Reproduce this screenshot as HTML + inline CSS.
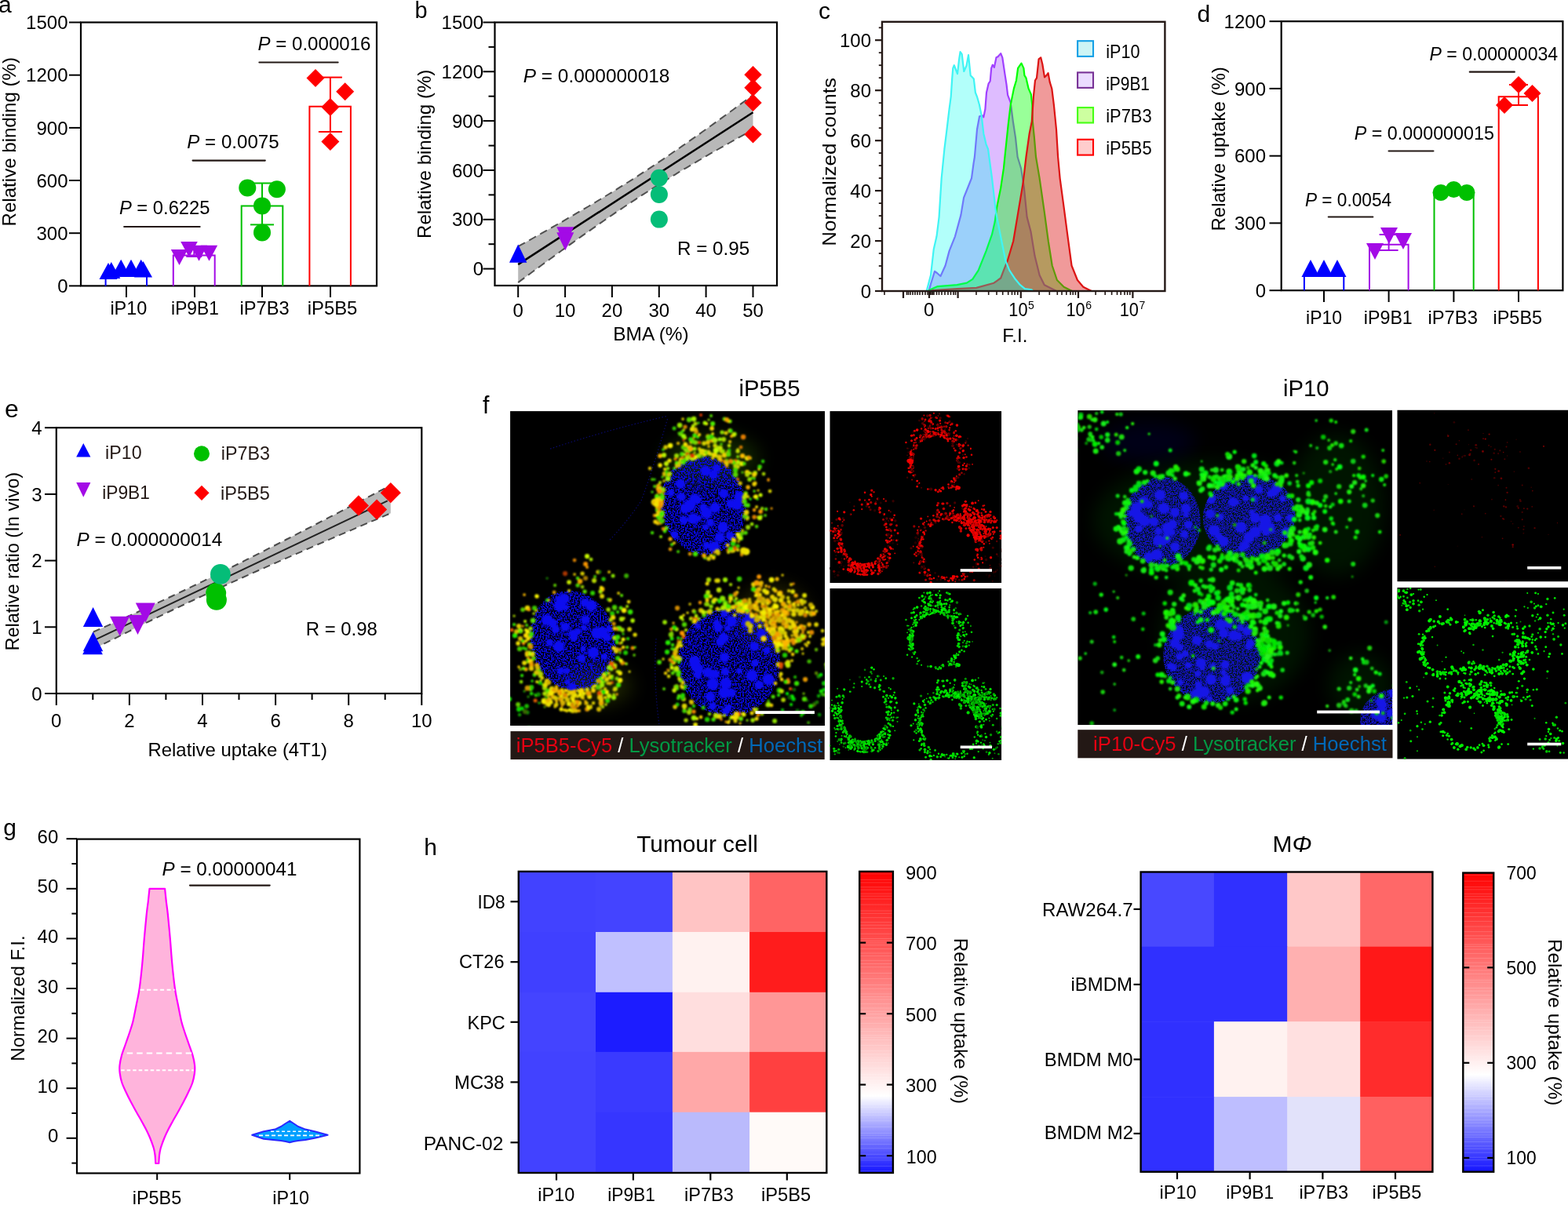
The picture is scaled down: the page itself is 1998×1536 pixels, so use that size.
<!DOCTYPE html>
<html><head><meta charset="utf-8"><title>Figure</title>
<style>html,body{margin:0;padding:0;background:#fff;} svg{display:block;}</style></head>
<body><svg width="1998" height="1536" viewBox="0 0 1998 1536" font-family="'Liberation Sans', Arial, sans-serif">
<rect width="1998" height="1536" fill="#fff"/>
<text x="-2.0" y="15.8" font-size="30" text-anchor="start" fill="#000" >a</text>
<line x1="88.0" y1="364.4" x2="103.0" y2="364.4" stroke="#000" stroke-width="2" />
<text x="86.5" y="373.0" font-size="24" text-anchor="end" fill="#000" >0</text>
<line x1="88.0" y1="297.2" x2="103.0" y2="297.2" stroke="#000" stroke-width="2" />
<text x="86.5" y="305.8" font-size="24" text-anchor="end" fill="#000" >300</text>
<line x1="88.0" y1="230.0" x2="103.0" y2="230.0" stroke="#000" stroke-width="2" />
<text x="86.5" y="238.6" font-size="24" text-anchor="end" fill="#000" >600</text>
<line x1="88.0" y1="162.9" x2="103.0" y2="162.9" stroke="#000" stroke-width="2" />
<text x="86.5" y="171.5" font-size="24" text-anchor="end" fill="#000" >900</text>
<line x1="88.0" y1="95.7" x2="103.0" y2="95.7" stroke="#000" stroke-width="2" />
<text x="86.5" y="104.3" font-size="24" text-anchor="end" fill="#000" >1200</text>
<line x1="88.0" y1="28.5" x2="103.0" y2="28.5" stroke="#000" stroke-width="2" />
<text x="86.5" y="37.1" font-size="24" text-anchor="end" fill="#000" >1500</text>
<rect x="103.0" y="28.5" width="377.0" height="335.9" fill="none" stroke="#000" stroke-width="2.2" />
<text transform="translate(19.5,288.4) rotate(-90)" font-size="24" fill="#000" textLength="215.4" lengthAdjust="spacingAndGlyphs">Relative binding (%)</text>
<line x1="161.0" y1="364.4" x2="161.0" y2="379.0" stroke="#000" stroke-width="2" />
<line x1="248.0" y1="364.4" x2="248.0" y2="379.0" stroke="#000" stroke-width="2" />
<line x1="334.0" y1="364.4" x2="334.0" y2="379.0" stroke="#000" stroke-width="2" />
<line x1="421.0" y1="364.4" x2="421.0" y2="379.0" stroke="#000" stroke-width="2" />
<text x="140.4" y="400.9" font-size="24" fill="#000" textLength="47.0" lengthAdjust="spacingAndGlyphs" >iP10</text>
<text x="218.1" y="400.9" font-size="24" fill="#000" textLength="60.8" lengthAdjust="spacingAndGlyphs" >iP9B1</text>
<text x="305.5" y="400.9" font-size="24" fill="#000" textLength="63.1" lengthAdjust="spacingAndGlyphs" >iP7B3</text>
<text x="391.7" y="400.9" font-size="24" fill="#000" textLength="63.7" lengthAdjust="spacingAndGlyphs" >iP5B5</text>
<path d="M134.6,364.4 V352 H187 V364.4" fill="none" stroke="#0000ff" stroke-width="2"/>
<path d="M220.8,364.4 V325.5 H273.7 V364.4" fill="none" stroke="#a30ae6" stroke-width="2"/>
<path d="M307.7,364.4 V262.4 H360.3 V364.4" fill="none" stroke="#00c000" stroke-width="2"/>
<path d="M394.4,364.4 V135.7 H446.9 V364.4" fill="none" stroke="#ff0000" stroke-width="2"/>
<line x1="247.3" y1="314.0" x2="247.3" y2="327.0" stroke="#a30ae6" stroke-width="2" />
<line x1="237.3" y1="314.0" x2="257.3" y2="314.0" stroke="#a30ae6" stroke-width="2" />
<line x1="237.3" y1="327.0" x2="257.3" y2="327.0" stroke="#a30ae6" stroke-width="2" />
<line x1="334.0" y1="233.5" x2="334.0" y2="286.4" stroke="#00c000" stroke-width="2" />
<line x1="319.0" y1="233.5" x2="349.0" y2="233.5" stroke="#00c000" stroke-width="2" />
<line x1="319.0" y1="286.4" x2="349.0" y2="286.4" stroke="#00c000" stroke-width="2" />
<line x1="420.9" y1="98.6" x2="420.9" y2="168.0" stroke="#ff0000" stroke-width="2" />
<line x1="405.9" y1="98.6" x2="435.9" y2="98.6" stroke="#ff0000" stroke-width="2" />
<line x1="405.9" y1="168.0" x2="435.9" y2="168.0" stroke="#ff0000" stroke-width="2" />
<polygon points="138.0,335.0 149.5,356.0 126.5,356.0" fill="#0000ff" />
<polygon points="141.8,334.0 153.3,355.0 130.3,355.0" fill="#0000ff" />
<polygon points="154.2,330.8 165.7,352.0 142.7,352.0" fill="#0000ff" />
<polygon points="167.0,330.8 178.5,352.0 155.5,352.0" fill="#0000ff" />
<polygon points="179.7,330.8 191.2,352.0 168.2,352.0" fill="#0000ff" />
<polygon points="182.5,333.0 194.0,353.5 171.0,353.5" fill="#0000ff" />
<polygon points="217.8,318.0 239.2,318.0 228.5,338.0" fill="#a30ae6" />
<polygon points="230.2,308.0 251.8,308.0 241.0,328.0" fill="#a30ae6" />
<polygon points="242.8,312.8 264.2,312.8 253.5,332.8" fill="#a30ae6" />
<polygon points="255.8,312.8 277.2,312.8 266.5,332.8" fill="#a30ae6" />
<circle cx="315.3" cy="239.4" r="11.0" fill="#00c000" />
<circle cx="352.9" cy="241.3" r="11.0" fill="#00c000" />
<circle cx="334.0" cy="262.4" r="11.0" fill="#00c000" />
<circle cx="334.0" cy="296.4" r="11.0" fill="#00c000" />
<polygon points="402.0,88.0 413.5,99.5 402.0,111.0 390.5,99.5" fill="#ff0000" />
<polygon points="439.7,105.3 451.2,116.8 439.7,128.3 428.2,116.8" fill="#ff0000" />
<polygon points="420.9,125.1 432.4,136.6 420.9,148.1 409.4,136.6" fill="#ff0000" />
<polygon points="420.9,168.9 432.4,180.4 420.9,191.9 409.4,180.4" fill="#ff0000" />
<line x1="158.2" y1="289.0" x2="254.6" y2="289.0" stroke="#231815" stroke-width="2.2" stroke-linecap="round"/>
<text x="151.9" y="273.4" font-size="24" fill="#000" textLength="115.6" lengthAdjust="spacingAndGlyphs" ><tspan font-style="italic">P</tspan> = 0.6225</text>
<line x1="245.6" y1="204.6" x2="337.8" y2="204.6" stroke="#231815" stroke-width="2.2" stroke-linecap="round"/>
<text x="238.3" y="189.0" font-size="24" fill="#000" textLength="117.4" lengthAdjust="spacingAndGlyphs" ><tspan font-style="italic">P</tspan> = 0.0075</text>
<line x1="330.4" y1="79.5" x2="430.6" y2="79.5" stroke="#231815" stroke-width="2.2" stroke-linecap="round"/>
<text x="328.5" y="63.8" font-size="24" fill="#000" textLength="144.0" lengthAdjust="spacingAndGlyphs" ><tspan font-style="italic">P</tspan> = 0.000016</text>
<text x="528.5" y="23.4" font-size="29" text-anchor="start" fill="#000" >b</text>
<line x1="615.5" y1="342.6" x2="630.5" y2="342.6" stroke="#000" stroke-width="2" />
<text x="616.0" y="351.2" font-size="24" text-anchor="end" fill="#000" >0</text>
<line x1="622.5" y1="311.2" x2="630.5" y2="311.2" stroke="#000" stroke-width="2" />
<line x1="615.5" y1="279.8" x2="630.5" y2="279.8" stroke="#000" stroke-width="2" />
<text x="616.0" y="288.4" font-size="24" text-anchor="end" fill="#000" >300</text>
<line x1="622.5" y1="248.4" x2="630.5" y2="248.4" stroke="#000" stroke-width="2" />
<line x1="615.5" y1="217.0" x2="630.5" y2="217.0" stroke="#000" stroke-width="2" />
<text x="616.0" y="225.6" font-size="24" text-anchor="end" fill="#000" >600</text>
<line x1="622.5" y1="185.6" x2="630.5" y2="185.6" stroke="#000" stroke-width="2" />
<line x1="615.5" y1="154.1" x2="630.5" y2="154.1" stroke="#000" stroke-width="2" />
<text x="616.0" y="162.7" font-size="24" text-anchor="end" fill="#000" >900</text>
<line x1="622.5" y1="122.7" x2="630.5" y2="122.7" stroke="#000" stroke-width="2" />
<line x1="615.5" y1="91.3" x2="630.5" y2="91.3" stroke="#000" stroke-width="2" />
<text x="616.0" y="99.9" font-size="24" text-anchor="end" fill="#000" >1200</text>
<line x1="622.5" y1="59.9" x2="630.5" y2="59.9" stroke="#000" stroke-width="2" />
<line x1="615.5" y1="28.5" x2="630.5" y2="28.5" stroke="#000" stroke-width="2" />
<text x="616.0" y="37.1" font-size="24" text-anchor="end" fill="#000" >1500</text>
<line x1="660.2" y1="364.0" x2="660.2" y2="379.0" stroke="#000" stroke-width="2" />
<text x="660.2" y="404.0" font-size="24" text-anchor="middle" fill="#000" >0</text>
<line x1="720.1" y1="364.0" x2="720.1" y2="379.0" stroke="#000" stroke-width="2" />
<text x="720.1" y="404.0" font-size="24" text-anchor="middle" fill="#000" >10</text>
<line x1="779.9" y1="364.0" x2="779.9" y2="379.0" stroke="#000" stroke-width="2" />
<text x="779.9" y="404.0" font-size="24" text-anchor="middle" fill="#000" >20</text>
<line x1="839.8" y1="364.0" x2="839.8" y2="379.0" stroke="#000" stroke-width="2" />
<text x="839.8" y="404.0" font-size="24" text-anchor="middle" fill="#000" >30</text>
<line x1="899.6" y1="364.0" x2="899.6" y2="379.0" stroke="#000" stroke-width="2" />
<text x="899.6" y="404.0" font-size="24" text-anchor="middle" fill="#000" >40</text>
<line x1="959.5" y1="364.0" x2="959.5" y2="379.0" stroke="#000" stroke-width="2" />
<text x="959.5" y="404.0" font-size="24" text-anchor="middle" fill="#000" >50</text>
<text transform="translate(549.0,303.9) rotate(-90)" font-size="24" fill="#000" textLength="215.2" lengthAdjust="spacingAndGlyphs">Relative binding (%)</text>
<text x="781.3" y="434.0" font-size="24" fill="#000" textLength="96.4" lengthAdjust="spacingAndGlyphs" >BMA (%)</text>
<path d="M660.2,314.1 L665.2,311.3 L670.2,308.6 L675.2,305.8 L680.2,303.0 L685.1,300.2 L690.1,297.4 L695.1,294.6 L700.1,291.8 L705.1,288.9 L710.1,286.1 L715.1,283.3 L720.1,280.4 L725.0,277.5 L730.0,274.6 L735.0,271.7 L740.0,268.8 L745.0,265.9 L750.0,263.0 L755.0,260.0 L760.0,257.0 L765.0,254.0 L769.9,251.0 L774.9,248.0 L779.9,244.9 L784.9,241.8 L789.9,238.7 L794.9,235.6 L799.9,232.5 L804.9,229.3 L809.9,226.1 L814.8,222.9 L819.8,219.7 L824.8,216.4 L829.8,213.1 L834.8,209.8 L839.8,206.4 L844.8,203.1 L849.8,199.7 L854.7,196.3 L859.7,192.8 L864.7,189.4 L869.7,185.9 L874.7,182.4 L879.7,178.9 L884.7,175.4 L889.7,171.9 L894.7,168.3 L899.6,164.8 L904.6,161.2 L909.6,157.6 L914.6,154.0 L919.6,150.4 L924.6,146.7 L929.6,143.1 L934.6,139.5 L939.5,135.8 L944.5,132.1 L949.5,128.5 L954.5,124.8 L959.5,121.1 L959.5,165.2 L954.5,168.0 L949.5,170.8 L944.5,173.6 L939.5,176.4 L934.6,179.2 L929.6,182.0 L924.6,184.8 L919.6,187.7 L914.6,190.5 L909.6,193.4 L904.6,196.2 L899.6,199.1 L894.7,202.0 L889.7,204.9 L884.7,207.9 L879.7,210.8 L874.7,213.8 L869.7,216.7 L864.7,219.7 L859.7,222.8 L854.7,225.8 L849.8,228.9 L844.8,231.9 L839.8,235.0 L834.8,238.2 L829.8,241.3 L824.8,244.5 L819.8,247.7 L814.8,250.9 L809.9,254.1 L804.9,257.4 L799.9,260.7 L794.9,264.0 L789.9,267.4 L784.9,270.7 L779.9,274.1 L774.9,277.5 L769.9,281.0 L765.0,284.4 L760.0,287.9 L755.0,291.4 L750.0,294.9 L745.0,298.4 L740.0,301.9 L735.0,305.5 L730.0,309.1 L725.0,312.6 L720.1,316.2 L715.1,319.8 L710.1,323.4 L705.1,327.1 L700.1,330.7 L695.1,334.4 L690.1,338.0 L685.1,341.7 L680.2,345.3 L675.2,349.0 L670.2,352.7 L665.2,356.4 L660.2,360.1 Z" fill="#b8b8b8" stroke="none" stroke-width="2" />
<path d="M660.2,314.1 L665.2,311.3 L670.2,308.6 L675.2,305.8 L680.2,303.0 L685.1,300.2 L690.1,297.4 L695.1,294.6 L700.1,291.8 L705.1,288.9 L710.1,286.1 L715.1,283.3 L720.1,280.4 L725.0,277.5 L730.0,274.6 L735.0,271.7 L740.0,268.8 L745.0,265.9 L750.0,263.0 L755.0,260.0 L760.0,257.0 L765.0,254.0 L769.9,251.0 L774.9,248.0 L779.9,244.9 L784.9,241.8 L789.9,238.7 L794.9,235.6 L799.9,232.5 L804.9,229.3 L809.9,226.1 L814.8,222.9 L819.8,219.7 L824.8,216.4 L829.8,213.1 L834.8,209.8 L839.8,206.4 L844.8,203.1 L849.8,199.7 L854.7,196.3 L859.7,192.8 L864.7,189.4 L869.7,185.9 L874.7,182.4 L879.7,178.9 L884.7,175.4 L889.7,171.9 L894.7,168.3 L899.6,164.8 L904.6,161.2 L909.6,157.6 L914.6,154.0 L919.6,150.4 L924.6,146.7 L929.6,143.1 L934.6,139.5 L939.5,135.8 L944.5,132.1 L949.5,128.5 L954.5,124.8 L959.5,121.1" fill="none" stroke="#505050" stroke-width="2" stroke-dasharray="10,6"/>
<path d="M660.2,360.1 L665.2,356.4 L670.2,352.7 L675.2,349.0 L680.2,345.3 L685.1,341.7 L690.1,338.0 L695.1,334.4 L700.1,330.7 L705.1,327.1 L710.1,323.4 L715.1,319.8 L720.1,316.2 L725.0,312.6 L730.0,309.1 L735.0,305.5 L740.0,301.9 L745.0,298.4 L750.0,294.9 L755.0,291.4 L760.0,287.9 L765.0,284.4 L769.9,281.0 L774.9,277.5 L779.9,274.1 L784.9,270.7 L789.9,267.4 L794.9,264.0 L799.9,260.7 L804.9,257.4 L809.9,254.1 L814.8,250.9 L819.8,247.7 L824.8,244.5 L829.8,241.3 L834.8,238.2 L839.8,235.0 L844.8,231.9 L849.8,228.9 L854.7,225.8 L859.7,222.8 L864.7,219.7 L869.7,216.7 L874.7,213.8 L879.7,210.8 L884.7,207.9 L889.7,204.9 L894.7,202.0 L899.6,199.1 L904.6,196.2 L909.6,193.4 L914.6,190.5 L919.6,187.7 L924.6,184.8 L929.6,182.0 L934.6,179.2 L939.5,176.4 L944.5,173.6 L949.5,170.8 L954.5,168.0 L959.5,165.2" fill="none" stroke="#505050" stroke-width="2" stroke-dasharray="10,6"/>
<line x1="660.2" y1="337.1" x2="959.5" y2="143.2" stroke="#000" stroke-width="2.5" />
<rect x="630.5" y="28.5" width="359.5" height="335.5" fill="none" stroke="#000" stroke-width="2.2" />
<polygon points="660.2,311.6 671.4,334.8 649.0,334.8" fill="#0000ff" />
<polygon points="709.3,289.2 731.3,289.2 720.3,312.2" fill="#a30ae6" />
<polygon points="709.3,296.2 731.3,296.2 720.3,319.2" fill="#a30ae6" />
<circle cx="839.9" cy="226.8" r="11.0" fill="#05bd78" />
<circle cx="839.9" cy="247.9" r="11.0" fill="#05bd78" />
<circle cx="839.9" cy="279.6" r="11.0" fill="#05bd78" />
<polygon points="959.5,84.1 970.7,95.3 959.5,106.5 948.3,95.3" fill="#ff0000" />
<polygon points="959.5,100.6 970.7,111.8 959.5,123.0 948.3,111.8" fill="#ff0000" />
<polygon points="959.5,119.7 970.7,130.9 959.5,142.1 948.3,130.9" fill="#ff0000" />
<polygon points="959.5,160.1 970.7,171.3 959.5,182.5 948.3,171.3" fill="#ff0000" />
<text x="666.7" y="104.6" font-size="24" fill="#000" textLength="186.7" lengthAdjust="spacingAndGlyphs" ><tspan font-style="italic">P</tspan> = 0.000000018</text>
<text x="863.0" y="325.0" font-size="24" fill="#000" textLength="92.1" lengthAdjust="spacingAndGlyphs" >R = 0.95</text>
<text x="1043.1" y="24.1" font-size="30" text-anchor="start" fill="#000" >c</text>
<path d="M1183.6,371.0 L1186.0,362.0 L1191.0,345.9 L1194.0,348.0 L1198.5,352.0 L1204.6,338.5 L1209.6,319.9 L1217.0,301.3 L1224.4,274.1 L1228.1,251.9 L1233.1,239.5 L1238.0,227.1 L1240.5,208.6 L1241.9,200.0 L1245.0,165.0 L1248.1,148.3 L1252.3,147.3 L1253.3,149.4 L1255.4,139.0 L1257.0,118.0 L1259.6,106.7 L1261.7,103.5 L1263.2,86.9 L1264.8,82.7 L1266.9,85.8 L1269.5,73.3 L1271.6,72.3 L1275.2,68.1 L1277.3,73.3 L1280.4,94.2 L1282.5,107.7 L1284.1,121.2 L1287.7,130.6 L1290.8,154.6 L1294.0,175.4 L1296.6,200.0 L1301.1,214.7 L1304.9,239.5 L1308.6,276.6 L1313.5,295.2 L1318.5,326.1 L1324.6,350.8 L1330.8,363.2 L1343.2,369.4 L1346.0,371.0 Z" fill="#a040ff" stroke="none" stroke-width="2" fill-opacity="0.35"/>
<path d="M1183.6,371.0 L1186.0,362.0 L1191.0,345.9 L1194.0,348.0 L1198.5,352.0 L1204.6,338.5 L1209.6,319.9 L1217.0,301.3 L1224.4,274.1 L1228.1,251.9 L1233.1,239.5 L1238.0,227.1 L1240.5,208.6 L1241.9,200.0 L1245.0,165.0 L1248.1,148.3 L1252.3,147.3 L1253.3,149.4 L1255.4,139.0 L1257.0,118.0 L1259.6,106.7 L1261.7,103.5 L1263.2,86.9 L1264.8,82.7 L1266.9,85.8 L1269.5,73.3 L1271.6,72.3 L1275.2,68.1 L1277.3,73.3 L1280.4,94.2 L1282.5,107.7 L1284.1,121.2 L1287.7,130.6 L1290.8,154.6 L1294.0,175.4 L1296.6,200.0 L1301.1,214.7 L1304.9,239.5 L1308.6,276.6 L1313.5,295.2 L1318.5,326.1 L1324.6,350.8 L1330.8,363.2 L1343.2,369.4 L1346.0,371.0" fill="none" stroke="#a040ff" stroke-width="2.2" stroke-linejoin="round"/>
<path d="M1183.0,371.0 L1184.8,369.4 L1194.7,365.1 L1219.5,363.2 L1231.9,360.7 L1239.3,355.8 L1246.7,344.6 L1256.6,319.9 L1264.0,298.9 L1267.7,282.8 L1270.2,264.2 L1275.2,239.5 L1278.9,214.7 L1280.4,200.0 L1284.6,159.8 L1287.7,133.8 L1291.9,112.9 L1295.0,102.5 L1297.1,86.9 L1299.2,83.8 L1301.5,80.6 L1304.4,86.9 L1305.4,96.2 L1307.5,99.4 L1310.6,112.9 L1313.8,120.2 L1315.3,133.8 L1315.8,154.6 L1317.9,175.4 L1320.0,200.0 L1324.6,227.1 L1330.8,270.4 L1335.8,307.5 L1340.7,338.5 L1346.9,357.0 L1355.6,365.7 L1363.0,369.4 L1366.0,371.0 Z" fill="#00ff00" stroke="none" stroke-width="2" fill-opacity="0.4"/>
<path d="M1183.0,371.0 L1184.8,369.4 L1194.7,365.1 L1219.5,363.2 L1231.9,360.7 L1239.3,355.8 L1246.7,344.6 L1256.6,319.9 L1264.0,298.9 L1267.7,282.8 L1270.2,264.2 L1275.2,239.5 L1278.9,214.7 L1280.4,200.0 L1284.6,159.8 L1287.7,133.8 L1291.9,112.9 L1295.0,102.5 L1297.1,86.9 L1299.2,83.8 L1301.5,80.6 L1304.4,86.9 L1305.4,96.2 L1307.5,99.4 L1310.6,112.9 L1313.8,120.2 L1315.3,133.8 L1315.8,154.6 L1317.9,175.4 L1320.0,200.0 L1324.6,227.1 L1330.8,270.4 L1335.8,307.5 L1340.7,338.5 L1346.9,357.0 L1355.6,365.7 L1363.0,369.4 L1366.0,371.0" fill="none" stroke="#00ff00" stroke-width="2.2" stroke-linejoin="round"/>
<path d="M1186.0,371.0 L1188.6,370.0 L1219.5,368.2 L1244.2,366.9 L1266.5,360.7 L1275.2,354.5 L1278.9,344.6 L1283.8,332.3 L1291.2,307.5 L1297.4,270.4 L1303.6,233.3 L1307.5,200.0 L1311.7,170.2 L1314.8,154.6 L1316.9,123.3 L1319.0,102.5 L1321.0,99.4 L1323.6,75.4 L1326.2,73.3 L1328.3,81.7 L1331.0,98.3 L1333.5,96.2 L1335.6,93.1 L1337.7,104.6 L1340.3,113.0 L1342.9,133.8 L1346.0,165.0 L1348.1,200.0 L1350.6,227.1 L1355.6,264.2 L1360.5,301.3 L1365.5,338.5 L1372.9,357.0 L1380.3,365.7 L1387.7,369.4 L1391.0,371.0 Z" fill="#dc1414" stroke="none" stroke-width="2" fill-opacity="0.43"/>
<path d="M1186.0,371.0 L1188.6,370.0 L1219.5,368.2 L1244.2,366.9 L1266.5,360.7 L1275.2,354.5 L1278.9,344.6 L1283.8,332.3 L1291.2,307.5 L1297.4,270.4 L1303.6,233.3 L1307.5,200.0 L1311.7,170.2 L1314.8,154.6 L1316.9,123.3 L1319.0,102.5 L1321.0,99.4 L1323.6,75.4 L1326.2,73.3 L1328.3,81.7 L1331.0,98.3 L1333.5,96.2 L1335.6,93.1 L1337.7,104.6 L1340.3,113.0 L1342.9,133.8 L1346.0,165.0 L1348.1,200.0 L1350.6,227.1 L1355.6,264.2 L1360.5,301.3 L1365.5,338.5 L1372.9,357.0 L1380.3,365.7 L1387.7,369.4 L1391.0,371.0" fill="none" stroke="#dc1414" stroke-width="2.2" stroke-linejoin="round"/>
<path d="M1180.5,371.0 L1181.1,369.4 L1186.0,350.8 L1189.8,317.4 L1193.5,301.3 L1196.6,276.6 L1199.7,227.1 L1203.4,190.0 L1206.5,165.0 L1209.6,139.0 L1211.7,123.3 L1213.2,100.4 L1214.3,86.9 L1215.8,83.2 L1220.0,94.2 L1222.0,76.5 L1223.6,66.0 L1225.7,69.2 L1228.3,91.0 L1231.5,83.8 L1234.0,70.2 L1236.7,96.2 L1238.8,98.3 L1240.8,100.4 L1242.9,118.0 L1245.0,123.3 L1248.0,133.8 L1250.7,147.3 L1253.3,170.2 L1256.5,183.8 L1259.0,190.0 L1264.0,227.0 L1269.0,270.4 L1273.9,295.2 L1277.6,313.7 L1281.3,332.3 L1286.3,344.6 L1293.7,355.8 L1299.9,363.2 L1306.0,368.2 L1314.7,369.4 L1316.0,371.0 Z" fill="#00fff0" stroke="none" stroke-width="2" fill-opacity="0.3"/>
<path d="M1180.5,371.0 L1181.1,369.4 L1186.0,350.8 L1189.8,317.4 L1193.5,301.3 L1196.6,276.6 L1199.7,227.1 L1203.4,190.0 L1206.5,165.0 L1209.6,139.0 L1211.7,123.3 L1213.2,100.4 L1214.3,86.9 L1215.8,83.2 L1220.0,94.2 L1222.0,76.5 L1223.6,66.0 L1225.7,69.2 L1228.3,91.0 L1231.5,83.8 L1234.0,70.2 L1236.7,96.2 L1238.8,98.3 L1240.8,100.4 L1242.9,118.0 L1245.0,123.3 L1248.0,133.8 L1250.7,147.3 L1253.3,170.2 L1256.5,183.8 L1259.0,190.0 L1264.0,227.0 L1269.0,270.4 L1273.9,295.2 L1277.6,313.7 L1281.3,332.3 L1286.3,344.6 L1293.7,355.8 L1299.9,363.2 L1306.0,368.2 L1314.7,369.4 L1316.0,371.0" fill="none" stroke="#40f4f4" stroke-width="2.2" stroke-linejoin="round"/>
<rect x="1124.0" y="27.8" width="360.4" height="343.2" fill="none" stroke="#231815" stroke-width="2.4" />
<line x1="1115.0" y1="371.0" x2="1124.0" y2="371.0" stroke="#231815" stroke-width="2.2" />
<text x="1110.0" y="379.6" font-size="24" text-anchor="end" fill="#000" >0</text>
<line x1="1115.0" y1="307.1" x2="1124.0" y2="307.1" stroke="#231815" stroke-width="2.2" />
<text x="1110.0" y="315.7" font-size="24" text-anchor="end" fill="#000" >20</text>
<line x1="1115.0" y1="243.1" x2="1124.0" y2="243.1" stroke="#231815" stroke-width="2.2" />
<text x="1110.0" y="251.7" font-size="24" text-anchor="end" fill="#000" >40</text>
<line x1="1115.0" y1="179.2" x2="1124.0" y2="179.2" stroke="#231815" stroke-width="2.2" />
<text x="1110.0" y="187.8" font-size="24" text-anchor="end" fill="#000" >60</text>
<line x1="1115.0" y1="115.2" x2="1124.0" y2="115.2" stroke="#231815" stroke-width="2.2" />
<text x="1110.0" y="123.8" font-size="24" text-anchor="end" fill="#000" >80</text>
<line x1="1115.0" y1="51.2" x2="1124.0" y2="51.2" stroke="#231815" stroke-width="2.2" />
<text x="1110.0" y="59.9" font-size="24" text-anchor="end" fill="#000" >100</text>
<line x1="1119.8" y1="355.0" x2="1124.0" y2="355.0" stroke="#231815" stroke-width="1.8" />
<line x1="1119.8" y1="339.0" x2="1124.0" y2="339.0" stroke="#231815" stroke-width="1.8" />
<line x1="1119.8" y1="323.0" x2="1124.0" y2="323.0" stroke="#231815" stroke-width="1.8" />
<line x1="1119.8" y1="291.1" x2="1124.0" y2="291.1" stroke="#231815" stroke-width="1.8" />
<line x1="1119.8" y1="275.1" x2="1124.0" y2="275.1" stroke="#231815" stroke-width="1.8" />
<line x1="1119.8" y1="259.1" x2="1124.0" y2="259.1" stroke="#231815" stroke-width="1.8" />
<line x1="1119.8" y1="227.1" x2="1124.0" y2="227.1" stroke="#231815" stroke-width="1.8" />
<line x1="1119.8" y1="211.1" x2="1124.0" y2="211.1" stroke="#231815" stroke-width="1.8" />
<line x1="1119.8" y1="195.1" x2="1124.0" y2="195.1" stroke="#231815" stroke-width="1.8" />
<line x1="1119.8" y1="163.2" x2="1124.0" y2="163.2" stroke="#231815" stroke-width="1.8" />
<line x1="1119.8" y1="147.2" x2="1124.0" y2="147.2" stroke="#231815" stroke-width="1.8" />
<line x1="1119.8" y1="131.2" x2="1124.0" y2="131.2" stroke="#231815" stroke-width="1.8" />
<line x1="1119.8" y1="99.2" x2="1124.0" y2="99.2" stroke="#231815" stroke-width="1.8" />
<line x1="1119.8" y1="83.2" x2="1124.0" y2="83.2" stroke="#231815" stroke-width="1.8" />
<line x1="1119.8" y1="67.2" x2="1124.0" y2="67.2" stroke="#231815" stroke-width="1.8" />
<line x1="1119.8" y1="35.3" x2="1124.0" y2="35.3" stroke="#231815" stroke-width="1.8" />
<line x1="1151.0" y1="371.0" x2="1151.0" y2="380.0" stroke="#231815" stroke-width="2.2" />
<line x1="1184.0" y1="371.0" x2="1184.0" y2="380.0" stroke="#231815" stroke-width="2.2" />
<line x1="1220.6" y1="371.0" x2="1220.6" y2="380.0" stroke="#231815" stroke-width="2.2" />
<line x1="1300.8" y1="371.0" x2="1300.8" y2="380.0" stroke="#231815" stroke-width="2.2" />
<line x1="1374.0" y1="371.0" x2="1374.0" y2="380.0" stroke="#231815" stroke-width="2.2" />
<line x1="1443.4" y1="371.0" x2="1443.4" y2="380.0" stroke="#231815" stroke-width="2.2" />
<line x1="1127.0" y1="371.0" x2="1127.0" y2="376.0" stroke="#231815" stroke-width="1.6" />
<line x1="1155.5" y1="371.0" x2="1155.5" y2="376.0" stroke="#231815" stroke-width="1.6" />
<line x1="1157.5" y1="371.0" x2="1157.5" y2="376.0" stroke="#231815" stroke-width="1.6" />
<line x1="1160.0" y1="371.0" x2="1160.0" y2="376.0" stroke="#231815" stroke-width="1.6" />
<line x1="1163.0" y1="371.0" x2="1163.0" y2="376.0" stroke="#231815" stroke-width="1.6" />
<line x1="1166.0" y1="371.0" x2="1166.0" y2="376.0" stroke="#231815" stroke-width="1.6" />
<line x1="1169.0" y1="371.0" x2="1169.0" y2="376.0" stroke="#231815" stroke-width="1.6" />
<line x1="1172.0" y1="371.0" x2="1172.0" y2="376.0" stroke="#231815" stroke-width="1.6" />
<line x1="1175.5" y1="371.0" x2="1175.5" y2="376.0" stroke="#231815" stroke-width="1.6" />
<line x1="1179.0" y1="371.0" x2="1179.0" y2="376.0" stroke="#231815" stroke-width="1.6" />
<line x1="1182.0" y1="371.0" x2="1182.0" y2="376.0" stroke="#231815" stroke-width="1.6" />
<line x1="1185.5" y1="371.0" x2="1185.5" y2="376.0" stroke="#231815" stroke-width="1.6" />
<line x1="1187.0" y1="371.0" x2="1187.0" y2="376.0" stroke="#231815" stroke-width="1.6" />
<line x1="1188.5" y1="371.0" x2="1188.5" y2="376.0" stroke="#231815" stroke-width="1.6" />
<line x1="1190.0" y1="371.0" x2="1190.0" y2="376.0" stroke="#231815" stroke-width="1.6" />
<line x1="1193.5" y1="371.0" x2="1193.5" y2="376.0" stroke="#231815" stroke-width="1.6" />
<line x1="1196.5" y1="371.0" x2="1196.5" y2="376.0" stroke="#231815" stroke-width="1.6" />
<line x1="1200.0" y1="371.0" x2="1200.0" y2="376.0" stroke="#231815" stroke-width="1.6" />
<line x1="1204.0" y1="371.0" x2="1204.0" y2="376.0" stroke="#231815" stroke-width="1.6" />
<line x1="1208.0" y1="371.0" x2="1208.0" y2="376.0" stroke="#231815" stroke-width="1.6" />
<line x1="1211.5" y1="371.0" x2="1211.5" y2="376.0" stroke="#231815" stroke-width="1.6" />
<line x1="1215.0" y1="371.0" x2="1215.0" y2="376.0" stroke="#231815" stroke-width="1.6" />
<line x1="1217.5" y1="371.0" x2="1217.5" y2="376.0" stroke="#231815" stroke-width="1.6" />
<line x1="1244.0" y1="371.0" x2="1244.0" y2="376.0" stroke="#231815" stroke-width="1.6" />
<line x1="1259.7" y1="371.0" x2="1259.7" y2="376.0" stroke="#231815" stroke-width="1.6" />
<line x1="1270.0" y1="371.0" x2="1270.0" y2="376.0" stroke="#231815" stroke-width="1.6" />
<line x1="1277.7" y1="371.0" x2="1277.7" y2="376.0" stroke="#231815" stroke-width="1.6" />
<line x1="1284.7" y1="371.0" x2="1284.7" y2="376.0" stroke="#231815" stroke-width="1.6" />
<line x1="1289.5" y1="371.0" x2="1289.5" y2="376.0" stroke="#231815" stroke-width="1.6" />
<line x1="1293.1" y1="371.0" x2="1293.1" y2="376.0" stroke="#231815" stroke-width="1.6" />
<line x1="1296.8" y1="371.0" x2="1296.8" y2="376.0" stroke="#231815" stroke-width="1.6" />
<line x1="1324.1" y1="371.0" x2="1324.1" y2="376.0" stroke="#231815" stroke-width="1.6" />
<line x1="1337.3" y1="371.0" x2="1337.3" y2="376.0" stroke="#231815" stroke-width="1.6" />
<line x1="1347.3" y1="371.0" x2="1347.3" y2="376.0" stroke="#231815" stroke-width="1.6" />
<line x1="1353.0" y1="371.0" x2="1353.0" y2="376.0" stroke="#231815" stroke-width="1.6" />
<line x1="1358.8" y1="371.0" x2="1358.8" y2="376.0" stroke="#231815" stroke-width="1.6" />
<line x1="1364.0" y1="371.0" x2="1364.0" y2="376.0" stroke="#231815" stroke-width="1.6" />
<line x1="1367.2" y1="371.0" x2="1367.2" y2="376.0" stroke="#231815" stroke-width="1.6" />
<line x1="1370.4" y1="371.0" x2="1370.4" y2="376.0" stroke="#231815" stroke-width="1.6" />
<line x1="1396.1" y1="371.0" x2="1396.1" y2="376.0" stroke="#231815" stroke-width="1.6" />
<line x1="1408.2" y1="371.0" x2="1408.2" y2="376.0" stroke="#231815" stroke-width="1.6" />
<line x1="1416.6" y1="371.0" x2="1416.6" y2="376.0" stroke="#231815" stroke-width="1.6" />
<line x1="1423.5" y1="371.0" x2="1423.5" y2="376.0" stroke="#231815" stroke-width="1.6" />
<line x1="1428.2" y1="371.0" x2="1428.2" y2="376.0" stroke="#231815" stroke-width="1.6" />
<line x1="1433.0" y1="371.0" x2="1433.0" y2="376.0" stroke="#231815" stroke-width="1.6" />
<line x1="1436.6" y1="371.0" x2="1436.6" y2="376.0" stroke="#231815" stroke-width="1.6" />
<line x1="1439.8" y1="371.0" x2="1439.8" y2="376.0" stroke="#231815" stroke-width="1.6" />
<text x="1183.6" y="402.5" font-size="24" text-anchor="middle" fill="#000" >0</text>
<text x="1285.3" y="402.6" font-size="24"><tspan textLength="24.2" lengthAdjust="spacingAndGlyphs">10</tspan><tspan font-size="14" dy="-8.5" dx="0.6">5</tspan></text>
<text x="1358.4" y="402.6" font-size="24"><tspan textLength="24.2" lengthAdjust="spacingAndGlyphs">10</tspan><tspan font-size="14" dy="-8.5" dx="0.6">6</tspan></text>
<text x="1426.7" y="402.6" font-size="24"><tspan textLength="24.2" lengthAdjust="spacingAndGlyphs">10</tspan><tspan font-size="14" dy="-8.5" dx="0.6">7</tspan></text>
<text x="1277.2" y="435.7" font-size="24" fill="#000" textLength="32.2" lengthAdjust="spacingAndGlyphs" >F.I.</text>
<text transform="translate(1065.0,313.7) rotate(-90)" font-size="24" fill="#000" textLength="214.6" lengthAdjust="spacingAndGlyphs">Normalized counts</text>
<rect x="1373.1" y="52.2" width="19.9" height="19.7" fill="#cdf5f5" stroke="#14a0e6" stroke-width="2.1" />
<text x="1409.2" y="73.6" font-size="24" fill="#000" textLength="43.3" lengthAdjust="spacingAndGlyphs" >iP10</text>
<rect x="1373.1" y="92.4" width="19.9" height="19.5" fill="#ebdcff" stroke="#783296" stroke-width="2.1" />
<text x="1409.2" y="114.8" font-size="24" fill="#000" textLength="55.8" lengthAdjust="spacingAndGlyphs" >iP9B1</text>
<rect x="1373.1" y="137.1" width="19.9" height="19.4" fill="#cdffa0" stroke="#46ff14" stroke-width="2.1" />
<text x="1409.2" y="155.9" font-size="24" fill="#000" textLength="58.4" lengthAdjust="spacingAndGlyphs" >iP7B3</text>
<rect x="1373.1" y="177.8" width="19.9" height="19.8" fill="#ffcdcd" stroke="#ff0000" stroke-width="2.1" />
<text x="1409.2" y="197.1" font-size="24" fill="#000" textLength="58.4" lengthAdjust="spacingAndGlyphs" >iP5B5</text>
<text x="1525.5" y="28.4" font-size="30" text-anchor="start" fill="#000" >d</text>
<line x1="1617.5" y1="370.2" x2="1632.7" y2="370.2" stroke="#000" stroke-width="2" />
<text x="1613.0" y="378.8" font-size="24" text-anchor="end" fill="#000" >0</text>
<line x1="1617.5" y1="284.4" x2="1632.7" y2="284.4" stroke="#000" stroke-width="2" />
<text x="1613.0" y="293.1" font-size="24" text-anchor="end" fill="#000" >300</text>
<line x1="1617.5" y1="198.7" x2="1632.7" y2="198.7" stroke="#000" stroke-width="2" />
<text x="1613.0" y="207.3" font-size="24" text-anchor="end" fill="#000" >600</text>
<line x1="1617.5" y1="112.9" x2="1632.7" y2="112.9" stroke="#000" stroke-width="2" />
<text x="1613.0" y="121.5" font-size="24" text-anchor="end" fill="#000" >900</text>
<line x1="1617.5" y1="27.2" x2="1632.7" y2="27.2" stroke="#000" stroke-width="2" />
<text x="1613.0" y="35.8" font-size="24" text-anchor="end" fill="#000" >1200</text>
<rect x="1632.7" y="27.2" width="358.7" height="343.0" fill="none" stroke="#000" stroke-width="2.2" />
<text transform="translate(1560.8,294.5) rotate(-90)" font-size="24" fill="#000" textLength="209.2" lengthAdjust="spacingAndGlyphs">Relative uptake (%)</text>
<line x1="1687.0" y1="370.2" x2="1687.0" y2="385.0" stroke="#000" stroke-width="2" />
<line x1="1769.6" y1="370.2" x2="1769.6" y2="385.0" stroke="#000" stroke-width="2" />
<line x1="1852.4" y1="370.2" x2="1852.4" y2="385.0" stroke="#000" stroke-width="2" />
<line x1="1935.0" y1="370.2" x2="1935.0" y2="385.0" stroke="#000" stroke-width="2" />
<text x="1664.1" y="412.6" font-size="24" fill="#000" textLength="46.0" lengthAdjust="spacingAndGlyphs" >iP10</text>
<text x="1737.8" y="412.6" font-size="24" fill="#000" textLength="62.0" lengthAdjust="spacingAndGlyphs" >iP9B1</text>
<text x="1819.4" y="412.6" font-size="24" fill="#000" textLength="63.5" lengthAdjust="spacingAndGlyphs" >iP7B3</text>
<text x="1902.5" y="412.6" font-size="24" fill="#000" textLength="62.6" lengthAdjust="spacingAndGlyphs" >iP5B5</text>
<path d="M1661.9,370.2 V351 H1712.3 V370.2" fill="none" stroke="#0000ff" stroke-width="2"/>
<path d="M1745,370.2 V311.7 H1794.6 V370.2" fill="none" stroke="#a30ae6" stroke-width="2"/>
<path d="M1827.5,370.2 V245 H1877.7 V370.2" fill="none" stroke="#00c000" stroke-width="2"/>
<path d="M1909.7,370.2 V123.2 H1959.9 V370.2" fill="none" stroke="#ff0000" stroke-width="2"/>
<line x1="1769.6" y1="299.0" x2="1769.6" y2="319.0" stroke="#a30ae6" stroke-width="2" />
<line x1="1757.6" y1="299.0" x2="1781.6" y2="299.0" stroke="#a30ae6" stroke-width="2" />
<line x1="1757.6" y1="319.0" x2="1781.6" y2="319.0" stroke="#a30ae6" stroke-width="2" />
<line x1="1935.0" y1="108.0" x2="1935.0" y2="134.0" stroke="#ff0000" stroke-width="2" />
<line x1="1923.0" y1="108.0" x2="1947.0" y2="108.0" stroke="#ff0000" stroke-width="2" />
<line x1="1923.0" y1="134.0" x2="1947.0" y2="134.0" stroke="#ff0000" stroke-width="2" />
<polygon points="1670.0,331.0 1681.5,353.0 1658.5,353.0" fill="#0000ff" />
<polygon points="1687.0,331.0 1698.5,353.0 1675.5,353.0" fill="#0000ff" />
<polygon points="1704.0,331.0 1715.5,353.0 1692.5,353.0" fill="#0000ff" />
<polygon points="1741.0,310.0 1763.0,310.0 1752.0,331.0" fill="#a30ae6" />
<polygon points="1759.0,290.0 1781.0,290.0 1770.0,311.0" fill="#a30ae6" />
<polygon points="1777.0,297.0 1799.0,297.0 1788.0,318.0" fill="#a30ae6" />
<circle cx="1836.0" cy="245.5" r="10.5" fill="#00c000" />
<circle cx="1852.4" cy="241.5" r="10.5" fill="#00c000" />
<circle cx="1869.0" cy="245.5" r="10.5" fill="#00c000" />
<polygon points="1917.0,123.0 1928.0,134.0 1917.0,145.0 1906.0,134.0" fill="#ff0000" />
<polygon points="1935.0,97.0 1946.0,108.0 1935.0,119.0 1924.0,108.0" fill="#ff0000" />
<polygon points="1952.5,108.0 1963.5,119.0 1952.5,130.0 1941.5,119.0" fill="#ff0000" />
<line x1="1692.8" y1="276.5" x2="1749.3" y2="276.5" stroke="#231815" stroke-width="2.2" stroke-linecap="round"/>
<text x="1662.9" y="262.9" font-size="24" fill="#000" textLength="110.2" lengthAdjust="spacingAndGlyphs" ><tspan font-style="italic">P</tspan> = 0.0054</text>
<line x1="1769.6" y1="192.5" x2="1826.4" y2="192.5" stroke="#231815" stroke-width="2.2" stroke-linecap="round"/>
<text x="1725.7" y="177.7" font-size="24" fill="#000" textLength="178.2" lengthAdjust="spacingAndGlyphs" ><tspan font-style="italic">P</tspan> = 0.000000015</text>
<line x1="1872.8" y1="91.7" x2="1929.8" y2="91.7" stroke="#231815" stroke-width="2.2" stroke-linecap="round"/>
<text x="1821.4" y="76.8" font-size="24" fill="#000" textLength="163.8" lengthAdjust="spacingAndGlyphs" ><tspan font-style="italic">P</tspan> = 0.00000034</text>
<text x="5.9" y="531.8" font-size="32" text-anchor="start" fill="#000" >e</text>
<line x1="57.0" y1="884.0" x2="71.8" y2="884.0" stroke="#000" stroke-width="2" />
<text x="53.5" y="892.6" font-size="24" text-anchor="end" fill="#000" >0</text>
<line x1="57.0" y1="799.3" x2="71.8" y2="799.3" stroke="#000" stroke-width="2" />
<text x="53.5" y="807.9" font-size="24" text-anchor="end" fill="#000" >1</text>
<line x1="57.0" y1="714.6" x2="71.8" y2="714.6" stroke="#000" stroke-width="2" />
<text x="53.5" y="723.2" font-size="24" text-anchor="end" fill="#000" >2</text>
<line x1="57.0" y1="629.9" x2="71.8" y2="629.9" stroke="#000" stroke-width="2" />
<text x="53.5" y="638.5" font-size="24" text-anchor="end" fill="#000" >3</text>
<line x1="57.0" y1="545.2" x2="71.8" y2="545.2" stroke="#000" stroke-width="2" />
<text x="53.5" y="553.8" font-size="24" text-anchor="end" fill="#000" >4</text>
<line x1="71.8" y1="884.0" x2="71.8" y2="899.0" stroke="#000" stroke-width="2" />
<text x="71.8" y="927.0" font-size="24" text-anchor="middle" fill="#000" >0</text>
<line x1="118.3" y1="884.0" x2="118.3" y2="892.0" stroke="#000" stroke-width="2" />
<line x1="164.9" y1="884.0" x2="164.9" y2="899.0" stroke="#000" stroke-width="2" />
<text x="164.9" y="927.0" font-size="24" text-anchor="middle" fill="#000" >2</text>
<line x1="211.4" y1="884.0" x2="211.4" y2="892.0" stroke="#000" stroke-width="2" />
<line x1="258.0" y1="884.0" x2="258.0" y2="899.0" stroke="#000" stroke-width="2" />
<text x="258.0" y="927.0" font-size="24" text-anchor="middle" fill="#000" >4</text>
<line x1="304.5" y1="884.0" x2="304.5" y2="892.0" stroke="#000" stroke-width="2" />
<line x1="351.1" y1="884.0" x2="351.1" y2="899.0" stroke="#000" stroke-width="2" />
<text x="351.1" y="927.0" font-size="24" text-anchor="middle" fill="#000" >6</text>
<line x1="397.6" y1="884.0" x2="397.6" y2="892.0" stroke="#000" stroke-width="2" />
<line x1="444.2" y1="884.0" x2="444.2" y2="899.0" stroke="#000" stroke-width="2" />
<text x="444.2" y="927.0" font-size="24" text-anchor="middle" fill="#000" >8</text>
<line x1="490.7" y1="884.0" x2="490.7" y2="892.0" stroke="#000" stroke-width="2" />
<line x1="537.3" y1="884.0" x2="537.3" y2="899.0" stroke="#000" stroke-width="2" />
<text x="537.3" y="927.0" font-size="24" text-anchor="middle" fill="#000" >10</text>
<text x="188.5" y="963.5" font-size="24" fill="#000" textLength="228.5" lengthAdjust="spacingAndGlyphs" >Relative uptake (4T1)</text>
<text transform="translate(24.4,829.6) rotate(-90)" font-size="24" fill="#000" textLength="227.7" lengthAdjust="spacingAndGlyphs">Relative ratio (In vivo)</text>
<path d="M119.0,805.5 L125.3,802.7 L131.6,799.9 L137.9,797.1 L144.3,794.2 L150.6,791.4 L156.9,788.6 L163.2,785.7 L169.5,782.8 L175.8,780.0 L182.1,777.1 L188.4,774.2 L194.8,771.3 L201.1,768.3 L207.4,765.4 L213.7,762.4 L220.0,759.5 L226.3,756.5 L232.6,753.5 L239.0,750.5 L245.3,747.4 L251.6,744.4 L257.9,741.3 L264.2,738.2 L270.5,735.2 L276.8,732.1 L283.1,729.0 L289.5,725.8 L295.8,722.7 L302.1,719.5 L308.4,716.4 L314.7,713.2 L321.0,710.0 L327.3,706.8 L333.7,703.7 L340.0,700.4 L346.3,697.2 L352.6,694.0 L358.9,690.8 L365.2,687.5 L371.5,684.3 L377.8,681.1 L384.2,677.8 L390.5,674.5 L396.8,671.3 L403.1,668.0 L409.4,664.7 L415.7,661.5 L422.0,658.2 L428.4,654.9 L434.7,651.6 L441.0,648.3 L447.3,645.0 L453.6,641.7 L459.9,638.4 L466.2,635.1 L472.5,631.8 L478.9,628.5 L485.2,625.2 L491.5,621.9 L497.8,618.6 L497.8,654.2 L491.5,656.9 L485.2,659.6 L478.9,662.3 L472.5,665.0 L466.2,667.7 L459.9,670.4 L453.6,673.1 L447.3,675.8 L441.0,678.5 L434.7,681.2 L428.4,683.9 L422.0,686.7 L415.7,689.4 L409.4,692.1 L403.1,694.8 L396.8,697.6 L390.5,700.3 L384.2,703.1 L377.8,705.8 L371.5,708.6 L365.2,711.3 L358.9,714.1 L352.6,716.9 L346.3,719.6 L340.0,722.4 L333.7,725.2 L327.3,728.0 L321.0,730.9 L314.7,733.7 L308.4,736.5 L302.1,739.4 L295.8,742.2 L289.5,745.1 L283.1,748.0 L276.8,750.9 L270.5,753.8 L264.2,756.7 L257.9,759.6 L251.6,762.5 L245.3,765.5 L239.0,768.5 L232.6,771.5 L226.3,774.5 L220.0,777.5 L213.7,780.5 L207.4,783.6 L201.1,786.6 L194.8,789.7 L188.4,792.8 L182.1,795.9 L175.8,799.0 L169.5,802.1 L163.2,805.3 L156.9,808.4 L150.6,811.6 L144.3,814.8 L137.9,817.9 L131.6,821.1 L125.3,824.3 L119.0,827.5 Z" fill="#b8b8b8" stroke="none" stroke-width="2" />
<path d="M119.0,805.5 L125.3,802.7 L131.6,799.9 L137.9,797.1 L144.3,794.2 L150.6,791.4 L156.9,788.6 L163.2,785.7 L169.5,782.8 L175.8,780.0 L182.1,777.1 L188.4,774.2 L194.8,771.3 L201.1,768.3 L207.4,765.4 L213.7,762.4 L220.0,759.5 L226.3,756.5 L232.6,753.5 L239.0,750.5 L245.3,747.4 L251.6,744.4 L257.9,741.3 L264.2,738.2 L270.5,735.2 L276.8,732.1 L283.1,729.0 L289.5,725.8 L295.8,722.7 L302.1,719.5 L308.4,716.4 L314.7,713.2 L321.0,710.0 L327.3,706.8 L333.7,703.7 L340.0,700.4 L346.3,697.2 L352.6,694.0 L358.9,690.8 L365.2,687.5 L371.5,684.3 L377.8,681.1 L384.2,677.8 L390.5,674.5 L396.8,671.3 L403.1,668.0 L409.4,664.7 L415.7,661.5 L422.0,658.2 L428.4,654.9 L434.7,651.6 L441.0,648.3 L447.3,645.0 L453.6,641.7 L459.9,638.4 L466.2,635.1 L472.5,631.8 L478.9,628.5 L485.2,625.2 L491.5,621.9 L497.8,618.6" fill="none" stroke="#4a4a4a" stroke-width="2" stroke-dasharray="9,6"/>
<path d="M119.0,827.5 L125.3,824.3 L131.6,821.1 L137.9,817.9 L144.3,814.8 L150.6,811.6 L156.9,808.4 L163.2,805.3 L169.5,802.1 L175.8,799.0 L182.1,795.9 L188.4,792.8 L194.8,789.7 L201.1,786.6 L207.4,783.6 L213.7,780.5 L220.0,777.5 L226.3,774.5 L232.6,771.5 L239.0,768.5 L245.3,765.5 L251.6,762.5 L257.9,759.6 L264.2,756.7 L270.5,753.8 L276.8,750.9 L283.1,748.0 L289.5,745.1 L295.8,742.2 L302.1,739.4 L308.4,736.5 L314.7,733.7 L321.0,730.9 L327.3,728.0 L333.7,725.2 L340.0,722.4 L346.3,719.6 L352.6,716.9 L358.9,714.1 L365.2,711.3 L371.5,708.6 L377.8,705.8 L384.2,703.1 L390.5,700.3 L396.8,697.6 L403.1,694.8 L409.4,692.1 L415.7,689.4 L422.0,686.7 L428.4,683.9 L434.7,681.2 L441.0,678.5 L447.3,675.8 L453.6,673.1 L459.9,670.4 L466.2,667.7 L472.5,665.0 L478.9,662.3 L485.2,659.6 L491.5,656.9 L497.8,654.2" fill="none" stroke="#4a4a4a" stroke-width="2" stroke-dasharray="9,6"/>
<line x1="123.0" y1="814.6" x2="493.8" y2="638.3" stroke="#222" stroke-width="2" />
<rect x="71.8" y="545.2" width="465.5" height="338.8" fill="none" stroke="#000" stroke-width="2.2" />
<polygon points="118.6,774.0 131.2,799.0 105.9,799.0" fill="#0000ff" />
<polygon points="118.6,805.3 131.3,830.3 105.8,830.3" fill="#0000ff" />
<polygon points="118.1,809.5 130.9,834.2 105.2,834.2" fill="#0000ff" />
<polygon points="140.1,785.8 165.1,785.8 152.6,810.8" fill="#a30ae6" />
<polygon points="163.0,784.0 188.0,784.0 175.5,809.0" fill="#a30ae6" />
<polygon points="172.8,768.6 197.8,768.6 185.3,793.6" fill="#a30ae6" />
<circle cx="275.2" cy="756.1" r="13.0" fill="#00c000" />
<circle cx="275.9" cy="764.7" r="13.0" fill="#00c000" />
<circle cx="280.9" cy="731.9" r="12.9" fill="#05bd78" />
<polygon points="456.9,631.3 470.0,644.4 456.9,657.5 443.8,644.4" fill="#ff0000" />
<polygon points="480.1,636.4 493.2,649.5 480.1,662.6 467.0,649.5" fill="#ff0000" />
<polygon points="497.8,615.1 510.9,628.2 497.8,641.3 484.7,628.2" fill="#ff0000" />
<polygon points="106.3,565.1 115.4,582.6 97.2,582.6" fill="#0000ff" />
<text x="134.1" y="584.9" font-size="24" fill="#231815" textLength="46.5" lengthAdjust="spacingAndGlyphs" >iP10</text>
<circle cx="257.0" cy="578.2" r="10.0" fill="#00c000" />
<text x="281.8" y="586.0" font-size="24" fill="#231815" textLength="62.1" lengthAdjust="spacingAndGlyphs" >iP7B3</text>
<polygon points="97.2,615.1 115.4,615.1 106.3,633.7" fill="#a30ae6" />
<text x="130.2" y="635.7" font-size="24" fill="#231815" textLength="60.8" lengthAdjust="spacingAndGlyphs" >iP9B1</text>
<polygon points="257.0,618.7 266.6,628.3 257.0,637.9 247.4,628.3" fill="#ff0000" />
<text x="281.1" y="636.7" font-size="24" fill="#231815" textLength="62.8" lengthAdjust="spacingAndGlyphs" >iP5B5</text>
<text x="97.5" y="695.6" font-size="24" fill="#000" textLength="185.8" lengthAdjust="spacingAndGlyphs" ><tspan font-style="italic">P</tspan> = 0.000000014</text>
<text x="389.7" y="809.9" font-size="24" fill="#000" textLength="91.2" lengthAdjust="spacingAndGlyphs" >R = 0.98</text>
<text x="4.2" y="1065.0" font-size="30" text-anchor="start" fill="#000" >g</text>
<line x1="91.4" y1="1482.6" x2="98.0" y2="1482.6" stroke="#000" stroke-width="2" />
<line x1="84.6" y1="1450.8" x2="98.0" y2="1450.8" stroke="#000" stroke-width="2" />
<text x="74.3" y="1456.4" font-size="24" text-anchor="end" fill="#000" >0</text>
<line x1="91.4" y1="1419.0" x2="98.0" y2="1419.0" stroke="#000" stroke-width="2" />
<line x1="84.6" y1="1387.2" x2="98.0" y2="1387.2" stroke="#000" stroke-width="2" />
<text x="74.3" y="1392.8" font-size="24" text-anchor="end" fill="#000" >10</text>
<line x1="91.4" y1="1355.4" x2="98.0" y2="1355.4" stroke="#000" stroke-width="2" />
<line x1="84.6" y1="1323.6" x2="98.0" y2="1323.6" stroke="#000" stroke-width="2" />
<text x="74.3" y="1329.2" font-size="24" text-anchor="end" fill="#000" >20</text>
<line x1="91.4" y1="1291.8" x2="98.0" y2="1291.8" stroke="#000" stroke-width="2" />
<line x1="84.6" y1="1260.0" x2="98.0" y2="1260.0" stroke="#000" stroke-width="2" />
<text x="74.3" y="1265.6" font-size="24" text-anchor="end" fill="#000" >30</text>
<line x1="91.4" y1="1228.2" x2="98.0" y2="1228.2" stroke="#000" stroke-width="2" />
<line x1="84.6" y1="1196.4" x2="98.0" y2="1196.4" stroke="#000" stroke-width="2" />
<text x="74.3" y="1202.0" font-size="24" text-anchor="end" fill="#000" >40</text>
<line x1="91.4" y1="1164.6" x2="98.0" y2="1164.6" stroke="#000" stroke-width="2" />
<line x1="84.6" y1="1132.8" x2="98.0" y2="1132.8" stroke="#000" stroke-width="2" />
<text x="74.3" y="1138.4" font-size="24" text-anchor="end" fill="#000" >50</text>
<line x1="91.4" y1="1101.0" x2="98.0" y2="1101.0" stroke="#000" stroke-width="2" />
<line x1="84.6" y1="1069.2" x2="98.0" y2="1069.2" stroke="#000" stroke-width="2" />
<text x="74.3" y="1074.8" font-size="24" text-anchor="end" fill="#000" >60</text>
<line x1="200.2" y1="1495.5" x2="200.2" y2="1504.0" stroke="#000" stroke-width="2" />
<line x1="369.2" y1="1495.5" x2="369.2" y2="1504.0" stroke="#000" stroke-width="2" />
<text x="168.8" y="1534.7" font-size="24" fill="#000" textLength="62.4" lengthAdjust="spacingAndGlyphs" >iP5B5</text>
<text x="347.3" y="1534.7" font-size="24" fill="#000" textLength="46.8" lengthAdjust="spacingAndGlyphs" >iP10</text>
<text transform="translate(30.9,1352.7) rotate(-90)" font-size="24" fill="#000" textLength="160.3" lengthAdjust="spacingAndGlyphs">Normalized F.I.</text>
<path d="M190.5,1132.8 L188.7,1150.0 C188.4,1152.5 187.6,1157.1 186.8,1164.9 C186.0,1172.7 184.7,1186.1 183.8,1196.6 C182.9,1207.1 182.3,1217.4 181.3,1228.0 C180.3,1238.6 178.9,1251.3 177.7,1260.0 C176.5,1268.7 175.3,1273.0 173.9,1280.0 C172.5,1287.0 170.9,1295.9 169.5,1301.7 C168.1,1307.5 167.0,1310.3 165.5,1315.0 C164.0,1319.7 162.0,1325.0 160.3,1330.0 C158.6,1335.0 156.4,1340.3 155.1,1345.0 C153.8,1349.7 152.9,1354.2 152.5,1358.0 C152.1,1361.8 152.2,1364.3 152.7,1368.0 C153.2,1371.7 154.0,1376.0 155.3,1380.0 C156.6,1384.0 158.6,1387.8 160.5,1392.0 C162.4,1396.2 164.7,1400.7 167.0,1405.0 C169.3,1409.3 171.8,1413.8 174.1,1418.0 C176.4,1422.2 178.9,1426.3 180.9,1430.0 C182.9,1433.7 184.8,1437.0 186.3,1440.0 C187.8,1443.0 188.9,1445.3 190.1,1448.0 C191.3,1450.7 192.3,1453.3 193.3,1456.0 C194.3,1458.7 195.3,1461.3 196.0,1464.0 C196.7,1466.7 197.1,1468.8 197.5,1472.0 C197.9,1475.2 198.2,1481.2 198.3,1483.0 L202.3,1483.0 C202.4,1481.2 202.7,1475.2 203.1,1472.0 C203.5,1468.8 203.9,1466.7 204.6,1464.0 C205.3,1461.3 206.3,1458.7 207.3,1456.0 C208.3,1453.3 209.3,1450.7 210.5,1448.0 C211.7,1445.3 212.8,1443.0 214.3,1440.0 C215.8,1437.0 217.7,1433.7 219.7,1430.0 C221.7,1426.3 224.2,1422.2 226.5,1418.0 C228.8,1413.8 231.3,1409.3 233.6,1405.0 C235.9,1400.7 238.2,1396.2 240.1,1392.0 C242.1,1387.8 244.0,1384.0 245.3,1380.0 C246.6,1376.0 247.4,1371.7 247.9,1368.0 C248.4,1364.3 248.5,1361.8 248.1,1358.0 C247.7,1354.2 246.8,1349.7 245.5,1345.0 C244.2,1340.3 242.0,1335.0 240.3,1330.0 C238.6,1325.0 236.6,1319.7 235.1,1315.0 C233.6,1310.3 232.5,1307.5 231.1,1301.7 C229.7,1295.9 228.1,1287.0 226.7,1280.0 C225.3,1273.0 224.1,1268.7 222.9,1260.0 C221.7,1251.3 220.3,1238.6 219.3,1228.0 C218.3,1217.4 217.7,1207.1 216.8,1196.6 C215.9,1186.1 214.6,1172.7 213.8,1164.9 C213.0,1157.1 212.2,1152.5 211.9,1150.0 L210.1,1132.8 Z" fill="#ffb4dc" stroke="#ff00ff" stroke-width="2.2" stroke-linejoin="round"/>
<line x1="178.6" y1="1261.7" x2="222.6" y2="1261.7" stroke="#fff" stroke-width="2" stroke-dasharray="5,3.5"/>
<line x1="161.7" y1="1342.5" x2="246.7" y2="1342.5" stroke="#fff" stroke-width="2" stroke-dasharray="7.5,5"/>
<line x1="154.2" y1="1364.2" x2="246.7" y2="1364.2" stroke="#fff" stroke-width="2" stroke-dasharray="4.5,3"/>
<path d="M321.2,1446.8 L336.0,1442.3 L350.5,1439.6 L358.0,1436.0 L364.0,1432.0 L369.2,1428.8 L374.0,1432.0 L380.0,1436.0 L389.2,1439.6 L402.0,1442.5 L417.6,1446.8 L402.0,1450.5 L389.2,1453.0 L380.0,1454.0 L374.0,1455.0 L369.2,1456.3 L364.0,1455.0 L358.0,1454.0 L350.5,1453.2 L336.0,1451.8 L321.2,1446.8 Z" fill="#00a0ff" stroke="#2828ff" stroke-width="2" stroke-linejoin="round"/>
<line x1="345.0" y1="1442.2" x2="395.0" y2="1442.2" stroke="#fff" stroke-width="1.6" stroke-dasharray="4,3"/>
<line x1="330.0" y1="1447.3" x2="410.0" y2="1447.3" stroke="#fff" stroke-width="1.8" stroke-dasharray="5,3"/>
<rect x="98.0" y="1069.6" width="360.4" height="425.9" fill="none" stroke="#000" stroke-width="2.2" />
<line x1="242.0" y1="1128.6" x2="343.7" y2="1128.6" stroke="#231815" stroke-width="2.2" stroke-linecap="round"/>
<text x="206.5" y="1115.8" font-size="24" fill="#000" textLength="171.9" lengthAdjust="spacingAndGlyphs" ><tspan font-style="italic">P</tspan> = 0.00000041</text>
<text x="540.2" y="1089.6" font-size="30" text-anchor="start" fill="#000" >h</text>
<rect x="660.8" y="1110.9" width="98.8" height="77.7" fill="#4242ff" stroke="none" stroke-width="2" />
<rect x="759.0" y="1110.9" width="98.5" height="77.7" fill="#4444ff" stroke="none" stroke-width="2" />
<rect x="856.9" y="1110.9" width="98.8" height="77.7" fill="#ffc4c4" stroke="none" stroke-width="2" />
<rect x="955.1" y="1110.9" width="98.8" height="77.7" fill="#ff6464" stroke="none" stroke-width="2" />
<rect x="660.8" y="1188.0" width="98.8" height="77.4" fill="#4040ff" stroke="none" stroke-width="2" />
<rect x="759.0" y="1188.0" width="98.5" height="77.4" fill="#c0c0ff" stroke="none" stroke-width="2" />
<rect x="856.9" y="1188.0" width="98.8" height="77.4" fill="#fff2f0" stroke="none" stroke-width="2" />
<rect x="955.1" y="1188.0" width="98.8" height="77.4" fill="#ff1c1c" stroke="none" stroke-width="2" />
<rect x="660.8" y="1264.8" width="98.8" height="76.7" fill="#4444ff" stroke="none" stroke-width="2" />
<rect x="759.0" y="1264.8" width="98.5" height="76.7" fill="#1c1cff" stroke="none" stroke-width="2" />
<rect x="856.9" y="1264.8" width="98.8" height="76.7" fill="#ffdede" stroke="none" stroke-width="2" />
<rect x="955.1" y="1264.8" width="98.8" height="76.7" fill="#ff9696" stroke="none" stroke-width="2" />
<rect x="660.8" y="1340.9" width="98.8" height="77.4" fill="#4242ff" stroke="none" stroke-width="2" />
<rect x="759.0" y="1340.9" width="98.5" height="77.4" fill="#3a3aff" stroke="none" stroke-width="2" />
<rect x="856.9" y="1340.9" width="98.8" height="77.4" fill="#ffa8a8" stroke="none" stroke-width="2" />
<rect x="955.1" y="1340.9" width="98.8" height="77.4" fill="#ff4040" stroke="none" stroke-width="2" />
<rect x="660.8" y="1417.7" width="98.8" height="77.9" fill="#4242ff" stroke="none" stroke-width="2" />
<rect x="759.0" y="1417.7" width="98.5" height="77.9" fill="#3636ff" stroke="none" stroke-width="2" />
<rect x="856.9" y="1417.7" width="98.8" height="77.9" fill="#babafc" stroke="none" stroke-width="2" />
<rect x="955.1" y="1417.7" width="98.8" height="77.9" fill="#fffaf8" stroke="none" stroke-width="2" />
<rect x="660.8" y="1110.9" width="392.5" height="384.1" fill="none" stroke="#000" stroke-width="2.4" />
<line x1="650.5" y1="1149.3" x2="660.8" y2="1149.3" stroke="#000" stroke-width="2.2" />
<line x1="650.5" y1="1226.2" x2="660.8" y2="1226.2" stroke="#000" stroke-width="2.2" />
<line x1="650.5" y1="1302.8" x2="660.8" y2="1302.8" stroke="#000" stroke-width="2.2" />
<line x1="650.5" y1="1379.4" x2="660.8" y2="1379.4" stroke="#000" stroke-width="2.2" />
<line x1="650.5" y1="1456.3" x2="660.8" y2="1456.3" stroke="#000" stroke-width="2.2" />
<text x="608.4" y="1158.0" font-size="24" fill="#000" textLength="35.3" lengthAdjust="spacingAndGlyphs" >ID8</text>
<text x="584.9" y="1234.4" font-size="24" fill="#000" textLength="57.6" lengthAdjust="spacingAndGlyphs" >CT26</text>
<text x="595.5" y="1311.7" font-size="24" fill="#000" textLength="48.3" lengthAdjust="spacingAndGlyphs" >KPC</text>
<text x="579.1" y="1388.3" font-size="24" fill="#000" textLength="63.4" lengthAdjust="spacingAndGlyphs" >MC38</text>
<text x="539.7" y="1465.7" font-size="24" fill="#000" textLength="101.7" lengthAdjust="spacingAndGlyphs" >PANC-02</text>
<line x1="709.0" y1="1495.0" x2="709.0" y2="1504.5" stroke="#000" stroke-width="2.2" />
<line x1="806.9" y1="1495.0" x2="806.9" y2="1504.5" stroke="#000" stroke-width="2.2" />
<line x1="905.3" y1="1495.0" x2="905.3" y2="1504.5" stroke="#000" stroke-width="2.2" />
<line x1="1002.8" y1="1495.0" x2="1002.8" y2="1504.5" stroke="#000" stroke-width="2.2" />
<text x="685.3" y="1531.4" font-size="24" fill="#000" textLength="47.0" lengthAdjust="spacingAndGlyphs" >iP10</text>
<text x="774.2" y="1531.4" font-size="24" fill="#000" textLength="60.8" lengthAdjust="spacingAndGlyphs" >iP9B1</text>
<text x="872.1" y="1531.4" font-size="24" fill="#000" textLength="62.7" lengthAdjust="spacingAndGlyphs" >iP7B3</text>
<text x="970.0" y="1531.4" font-size="24" fill="#000" textLength="63.1" lengthAdjust="spacingAndGlyphs" >iP5B5</text>
<linearGradient id="g1" x1="0" y1="0" x2="0" y2="1"><stop offset="0" stop-color="#ff0000"/><stop offset="0.745" stop-color="#ffffff"/><stop offset="1" stop-color="#1414ff"/></linearGradient>
<rect x="1095.2" y="1110.9" width="42.7" height="384.1" fill="url(#g1)" stroke="none" stroke-width="2" />
<path d="M1096.2,1113.9H1136.9 M1096.2,1121.4H1136.9 M1096.2,1125.0H1136.9 M1096.2,1130.8H1136.9 M1096.2,1134.2H1136.9 M1096.2,1139.2H1136.9 M1096.2,1142.2H1136.9 M1096.2,1146.0H1136.9 M1096.2,1153.1H1136.9 M1096.2,1161.0H1136.9 M1096.2,1164.4H1136.9 M1096.2,1169.7H1136.9 M1096.2,1175.6H1136.9 M1096.2,1179.3H1136.9 M1096.2,1183.4H1136.9 M1096.2,1190.3H1136.9 M1096.2,1196.5H1136.9 M1096.2,1199.3H1136.9 M1096.2,1201.9H1136.9 M1096.2,1204.6H1136.9 M1096.2,1209.5H1136.9 M1096.2,1215.0H1136.9 M1096.2,1218.4H1136.9 M1096.2,1224.3H1136.9 M1096.2,1228.5H1136.9 M1096.2,1232.7H1136.9 M1096.2,1240.5H1136.9 M1096.2,1247.6H1136.9 M1096.2,1255.5H1136.9 M1096.2,1260.3H1136.9 M1096.2,1266.9H1136.9 M1096.2,1270.7H1136.9 M1096.2,1274.0H1136.9 M1096.2,1279.6H1136.9 M1096.2,1285.0H1136.9 M1096.2,1289.2H1136.9 M1096.2,1292.6H1136.9 M1096.2,1297.3H1136.9 M1096.2,1304.6H1136.9 M1096.2,1311.7H1136.9 M1096.2,1314.7H1136.9 M1096.2,1319.8H1136.9 M1096.2,1322.7H1136.9 M1096.2,1325.6H1136.9 M1096.2,1332.6H1136.9 M1096.2,1339.6H1136.9 M1096.2,1343.8H1136.9 M1096.2,1348.1H1136.9 M1096.2,1350.9H1136.9 M1096.2,1354.7H1136.9 M1096.2,1361.7H1136.9 M1096.2,1369.5H1136.9 M1096.2,1373.4H1136.9 M1096.2,1377.5H1136.9 M1096.2,1382.9H1136.9 M1096.2,1385.8H1136.9 M1096.2,1393.0H1136.9 M1096.2,1397.4H1136.9 M1096.2,1400.3H1136.9 M1096.2,1407.3H1136.9 M1096.2,1411.5H1136.9 M1096.2,1417.9H1136.9 M1096.2,1421.3H1136.9 M1096.2,1428.8H1136.9 M1096.2,1436.4H1136.9 M1096.2,1444.4H1136.9 M1096.2,1447.2H1136.9 M1096.2,1450.7H1136.9 M1096.2,1458.6H1136.9 M1096.2,1463.8H1136.9 M1096.2,1471.3H1136.9 M1096.2,1476.0H1136.9 M1096.2,1478.8H1136.9 M1096.2,1486.4H1136.9 M1096.2,1492.4H1136.9" stroke="#fff" stroke-opacity="0.2" stroke-width="0.8"/>
<rect x="1095.2" y="1110.9" width="42.7" height="384.1" fill="none" stroke="#000" stroke-width="2.4" />
<line x1="1095.2" y1="1201.6" x2="1103.2" y2="1201.6" stroke="#000" stroke-width="2.2" />
<line x1="1129.9" y1="1201.6" x2="1137.9" y2="1201.6" stroke="#000" stroke-width="2.2" />
<line x1="1095.2" y1="1292.2" x2="1103.2" y2="1292.2" stroke="#000" stroke-width="2.2" />
<line x1="1129.9" y1="1292.2" x2="1137.9" y2="1292.2" stroke="#000" stroke-width="2.2" />
<line x1="1095.2" y1="1382.6" x2="1103.2" y2="1382.6" stroke="#000" stroke-width="2.2" />
<line x1="1129.9" y1="1382.6" x2="1137.9" y2="1382.6" stroke="#000" stroke-width="2.2" />
<line x1="1095.2" y1="1473.2" x2="1103.2" y2="1473.2" stroke="#000" stroke-width="2.2" />
<line x1="1129.9" y1="1473.2" x2="1137.9" y2="1473.2" stroke="#000" stroke-width="2.2" />
<text x="1154.1" y="1120.9" font-size="24" fill="#000" textLength="39.6" lengthAdjust="spacingAndGlyphs" >900</text>
<text x="1154.1" y="1210.8" font-size="24" fill="#000" textLength="39.6" lengthAdjust="spacingAndGlyphs" >700</text>
<text x="1154.1" y="1302.0" font-size="24" fill="#000" textLength="39.6" lengthAdjust="spacingAndGlyphs" >500</text>
<text x="1154.1" y="1391.5" font-size="24" fill="#000" textLength="39.6" lengthAdjust="spacingAndGlyphs" >300</text>
<text x="1154.8" y="1482.7" font-size="24" fill="#000" textLength="38.9" lengthAdjust="spacingAndGlyphs" >100</text>
<text transform="translate(1215.6,1195.7) rotate(90)" font-size="24" fill="#000" textLength="211.4" lengthAdjust="spacingAndGlyphs">Relative uptake (%)</text>
<text x="811.2" y="1086.3" font-size="30" fill="#000" textLength="154.7" lengthAdjust="spacingAndGlyphs" >Tumour cell</text>
<rect x="1453.6" y="1111.5" width="93.9" height="95.8" fill="#4848ff" stroke="none" stroke-width="2" />
<rect x="1546.9" y="1111.5" width="93.9" height="95.8" fill="#3030ff" stroke="none" stroke-width="2" />
<rect x="1640.2" y="1111.5" width="93.6" height="95.8" fill="#ffc8c8" stroke="none" stroke-width="2" />
<rect x="1733.2" y="1111.5" width="92.8" height="95.8" fill="#ff6868" stroke="none" stroke-width="2" />
<rect x="1453.6" y="1206.7" width="93.9" height="96.1" fill="#3030ff" stroke="none" stroke-width="2" />
<rect x="1546.9" y="1206.7" width="93.9" height="96.1" fill="#3030ff" stroke="none" stroke-width="2" />
<rect x="1640.2" y="1206.7" width="93.6" height="96.1" fill="#ffb0b0" stroke="none" stroke-width="2" />
<rect x="1733.2" y="1206.7" width="92.8" height="96.1" fill="#ff1818" stroke="none" stroke-width="2" />
<rect x="1453.6" y="1302.2" width="93.9" height="96.5" fill="#3030ff" stroke="none" stroke-width="2" />
<rect x="1546.9" y="1302.2" width="93.9" height="96.5" fill="#fff2f0" stroke="none" stroke-width="2" />
<rect x="1640.2" y="1302.2" width="93.6" height="96.5" fill="#ffe0e0" stroke="none" stroke-width="2" />
<rect x="1733.2" y="1302.2" width="92.8" height="96.5" fill="#ff2c2c" stroke="none" stroke-width="2" />
<rect x="1453.6" y="1398.1" width="93.9" height="96.2" fill="#3030ff" stroke="none" stroke-width="2" />
<rect x="1546.9" y="1398.1" width="93.9" height="96.2" fill="#bebeff" stroke="none" stroke-width="2" />
<rect x="1640.2" y="1398.1" width="93.6" height="96.2" fill="#e2e2fa" stroke="none" stroke-width="2" />
<rect x="1733.2" y="1398.1" width="92.8" height="96.2" fill="#ff6060" stroke="none" stroke-width="2" />
<rect x="1453.6" y="1111.5" width="371.8" height="382.2" fill="none" stroke="#000" stroke-width="2.4" />
<line x1="1444.5" y1="1158.9" x2="1453.6" y2="1158.9" stroke="#000" stroke-width="2.2" />
<line x1="1444.5" y1="1254.9" x2="1453.6" y2="1254.9" stroke="#000" stroke-width="2.2" />
<line x1="1444.5" y1="1350.4" x2="1453.6" y2="1350.4" stroke="#000" stroke-width="2.2" />
<line x1="1444.5" y1="1444.9" x2="1453.6" y2="1444.9" stroke="#000" stroke-width="2.2" />
<text x="1328.0" y="1167.9" font-size="24" fill="#000" textLength="115.6" lengthAdjust="spacingAndGlyphs" >RAW264.7</text>
<text x="1364.5" y="1262.8" font-size="24" fill="#000" textLength="78.5" lengthAdjust="spacingAndGlyphs" >iBMDM</text>
<text x="1330.8" y="1358.6" font-size="24" fill="#000" textLength="112.8" lengthAdjust="spacingAndGlyphs" >BMDM M0</text>
<text x="1330.8" y="1452.4" font-size="24" fill="#000" textLength="113.2" lengthAdjust="spacingAndGlyphs" >BMDM M2</text>
<line x1="1500.0" y1="1493.7" x2="1500.0" y2="1503.2" stroke="#000" stroke-width="2.2" />
<line x1="1592.6" y1="1493.7" x2="1592.6" y2="1503.2" stroke="#000" stroke-width="2.2" />
<line x1="1685.4" y1="1493.7" x2="1685.4" y2="1503.2" stroke="#000" stroke-width="2.2" />
<line x1="1778.0" y1="1493.7" x2="1778.0" y2="1503.2" stroke="#000" stroke-width="2.2" />
<text x="1477.6" y="1527.6" font-size="24" fill="#000" textLength="46.9" lengthAdjust="spacingAndGlyphs" >iP10</text>
<text x="1562.2" y="1527.6" font-size="24" fill="#000" textLength="60.9" lengthAdjust="spacingAndGlyphs" >iP9B1</text>
<text x="1655.4" y="1527.6" font-size="24" fill="#000" textLength="62.8" lengthAdjust="spacingAndGlyphs" >iP7B3</text>
<text x="1748.6" y="1527.6" font-size="24" fill="#000" textLength="62.7" lengthAdjust="spacingAndGlyphs" >iP5B5</text>
<linearGradient id="g2" x1="0" y1="0" x2="0" y2="1"><stop offset="0" stop-color="#ff0000"/><stop offset="0.675" stop-color="#ffffff"/><stop offset="1" stop-color="#1414ff"/></linearGradient>
<rect x="1864.3" y="1112.6" width="38.9" height="381.1" fill="url(#g2)" stroke="none" stroke-width="2" />
<path d="M1865.3,1115.6H1902.2 M1865.3,1123.2H1902.2 M1865.3,1130.6H1902.2 M1865.3,1133.9H1902.2 M1865.3,1139.4H1902.2 M1865.3,1142.6H1902.2 M1865.3,1146.2H1902.2 M1865.3,1151.6H1902.2 M1865.3,1157.8H1902.2 M1865.3,1163.5H1902.2 M1865.3,1168.5H1902.2 M1865.3,1174.4H1902.2 M1865.3,1181.0H1902.2 M1865.3,1187.6H1902.2 M1865.3,1192.8H1902.2 M1865.3,1196.7H1902.2 M1865.3,1204.0H1902.2 M1865.3,1206.5H1902.2 M1865.3,1210.1H1902.2 M1865.3,1215.4H1902.2 M1865.3,1221.4H1902.2 M1865.3,1227.1H1902.2 M1865.3,1231.5H1902.2 M1865.3,1236.8H1902.2 M1865.3,1241.4H1902.2 M1865.3,1249.3H1902.2 M1865.3,1252.1H1902.2 M1865.3,1259.5H1902.2 M1865.3,1263.2H1902.2 M1865.3,1268.4H1902.2 M1865.3,1274.2H1902.2 M1865.3,1279.9H1902.2 M1865.3,1286.9H1902.2 M1865.3,1293.8H1902.2 M1865.3,1300.7H1902.2 M1865.3,1303.3H1902.2 M1865.3,1309.7H1902.2 M1865.3,1313.3H1902.2 M1865.3,1320.6H1902.2 M1865.3,1327.8H1902.2 M1865.3,1334.8H1902.2 M1865.3,1339.1H1902.2 M1865.3,1346.8H1902.2 M1865.3,1353.5H1902.2 M1865.3,1360.4H1902.2 M1865.3,1363.8H1902.2 M1865.3,1369.8H1902.2 M1865.3,1374.4H1902.2 M1865.3,1377.1H1902.2 M1865.3,1384.1H1902.2 M1865.3,1387.9H1902.2 M1865.3,1395.0H1902.2 M1865.3,1397.5H1902.2 M1865.3,1401.6H1902.2 M1865.3,1407.2H1902.2 M1865.3,1412.4H1902.2 M1865.3,1417.5H1902.2 M1865.3,1422.3H1902.2 M1865.3,1427.7H1902.2 M1865.3,1431.2H1902.2 M1865.3,1435.2H1902.2 M1865.3,1443.1H1902.2 M1865.3,1446.9H1902.2 M1865.3,1449.6H1902.2 M1865.3,1455.4H1902.2 M1865.3,1460.9H1902.2 M1865.3,1464.3H1902.2 M1865.3,1469.2H1902.2 M1865.3,1475.2H1902.2 M1865.3,1478.6H1902.2 M1865.3,1486.0H1902.2" stroke="#fff" stroke-opacity="0.2" stroke-width="0.8"/>
<rect x="1864.3" y="1112.6" width="38.9" height="381.1" fill="none" stroke="#000" stroke-width="2.4" />
<line x1="1864.3" y1="1233.3" x2="1872.3" y2="1233.3" stroke="#000" stroke-width="2.2" />
<line x1="1895.2" y1="1233.3" x2="1903.2" y2="1233.3" stroke="#000" stroke-width="2.2" />
<line x1="1864.3" y1="1354.8" x2="1872.3" y2="1354.8" stroke="#000" stroke-width="2.2" />
<line x1="1895.2" y1="1354.8" x2="1903.2" y2="1354.8" stroke="#000" stroke-width="2.2" />
<line x1="1864.3" y1="1475.9" x2="1872.3" y2="1475.9" stroke="#000" stroke-width="2.2" />
<line x1="1895.2" y1="1475.9" x2="1903.2" y2="1475.9" stroke="#000" stroke-width="2.2" />
<text x="1919.6" y="1120.8" font-size="24" fill="#000" textLength="38.1" lengthAdjust="spacingAndGlyphs" >700</text>
<text x="1919.6" y="1241.9" font-size="24" fill="#000" textLength="38.1" lengthAdjust="spacingAndGlyphs" >500</text>
<text x="1919.6" y="1363.0" font-size="24" fill="#000" textLength="38.1" lengthAdjust="spacingAndGlyphs" >300</text>
<text x="1919.6" y="1484.1" font-size="24" fill="#000" textLength="38.1" lengthAdjust="spacingAndGlyphs" >100</text>
<text transform="translate(1972.5,1196.9) rotate(90)" font-size="24" fill="#000" textLength="212.5" lengthAdjust="spacingAndGlyphs">Relative uptake (%)</text>
<text x="1646.5" y="1086.3" font-size="30" text-anchor="middle">M<tspan font-style="italic">Φ</tspan></text>
<text x="615.0" y="526.7" font-size="30.5" text-anchor="start" fill="#000" >f</text>
<text x="941.6" y="504.9" font-size="29.5" fill="#000" textLength="78.0" lengthAdjust="spacingAndGlyphs" >iP5B5</text>
<text x="1634.9" y="504.8" font-size="29.5" fill="#000" textLength="58.6" lengthAdjust="spacingAndGlyphs" >iP10</text>
<defs>
<filter id="soft" x="-2%" y="-2%" width="104%" height="104%"><feGaussianBlur stdDeviation="1.0"/></filter>
<filter id="onlyR" x="-2%" y="-2%" width="104%" height="104%" color-interpolation-filters="sRGB"><feGaussianBlur stdDeviation="1.0"/><feColorMatrix type="matrix" values="1 0 0 0 0  0 0 0 0 0  0 0 0 0 0  0 0 0 1 0"/></filter>
<filter id="onlyG" x="-2%" y="-2%" width="104%" height="104%" color-interpolation-filters="sRGB"><feGaussianBlur stdDeviation="1.0"/><feColorMatrix type="matrix" values="0 0 0 0 0  0 1 0 0 0  0 0 0 0 0  0 0 0 1 0"/></filter>
<filter id="haze" x="-50%" y="-50%" width="200%" height="200%"><feGaussianBlur stdDeviation="12"/></filter>
<filter id="nucgrain" x="0" y="0" width="1" height="1" color-interpolation-filters="sRGB"><feTurbulence type="fractalNoise" baseFrequency="0.55" numOctaves="1" seed="3"/><feColorMatrix type="matrix" values="0 0 0 0 0.03  0 0 0 0 0.03  0 0 0 0 0.88  7 0 0 0 -2.95"/></filter>
<filter id="nucgrain2" x="0" y="0" width="1" height="1" color-interpolation-filters="sRGB"><feTurbulence type="fractalNoise" baseFrequency="0.6" numOctaves="2" seed="8"/><feColorMatrix type="matrix" values="0 0 0 0 0.07  0 0 0 0 0.07  0 0 0 0 0.72  6 0 0 0 -2.2"/></filter>
<filter id="mottle" x="0" y="0" width="1" height="1" color-interpolation-filters="sRGB"><feTurbulence type="fractalNoise" baseFrequency="0.085" numOctaves="3" seed="4"/><feColorMatrix type="matrix" values="0 0 0 0 0  0 0 0 0 0  0 0 0 0 0  -5.5 0 0 0 2.85"/></filter>
<filter id="grain" x="0" y="0" width="1" height="1" color-interpolation-filters="sRGB"><feTurbulence type="fractalNoise" baseFrequency="0.9" numOctaves="1" seed="9"/><feColorMatrix type="matrix" values="0 0 0 0 0  0 0 0 0 0  0 0 0 0 0  -4 0 0 0 2.3"/></filter>
<clipPath id="frame"><rect x="0" y="0" width="401" height="401"/></clipPath>
<g id="d5"><circle cx="252" cy="38" r="2.5" fill="#49c600"/><circle cx="256" cy="6" r="2.0" fill="#56e200"/><circle cx="277" cy="54" r="2.4" fill="#e1dc00"/><circle cx="235" cy="53" r="1.7" fill="#b4e400"/><circle cx="244" cy="51" r="3.2" fill="#b4ef00"/><circle cx="237" cy="26" r="2.9" fill="#d48b00"/><circle cx="241" cy="48" r="2.2" fill="#e2bf00"/><circle cx="231" cy="49" r="2.1" fill="#1ed700"/><circle cx="273" cy="10" r="2.5" fill="#5cd900"/><circle cx="280" cy="25" r="2.8" fill="#f0d500"/><circle cx="218" cy="62" r="3.1" fill="#f9b300"/><circle cx="225" cy="61" r="3.0" fill="#67e700"/><circle cx="221" cy="46" r="3.2" fill="#5ad800"/><circle cx="215" cy="28" r="1.7" fill="#3cd300"/><circle cx="249" cy="51" r="2.2" fill="#f0da00"/><circle cx="230" cy="40" r="1.8" fill="#dad100"/><circle cx="278" cy="52" r="2.7" fill="#d1b900"/><circle cx="269" cy="52" r="2.0" fill="#95f600"/><circle cx="230" cy="45" r="1.8" fill="#9ed100"/><circle cx="234" cy="34" r="1.7" fill="#e39300"/><circle cx="228" cy="50" r="1.6" fill="#d6c600"/><circle cx="267" cy="58" r="2.7" fill="#e8d900"/><circle cx="223" cy="34" r="2.0" fill="#f2de00"/><circle cx="242" cy="51" r="2.0" fill="#b3f300"/><circle cx="252" cy="32" r="2.9" fill="#dd7c00"/><circle cx="286" cy="29" r="2.7" fill="#58ee00"/><circle cx="280" cy="13" r="2.5" fill="#6bee00"/><circle cx="264" cy="58" r="2.1" fill="#91f000"/><circle cx="256" cy="36" r="1.7" fill="#42db00"/><circle cx="243" cy="5" r="2.0" fill="#dd3900"/><circle cx="230" cy="59" r="1.9" fill="#eed400"/><circle cx="272" cy="55" r="1.7" fill="#30d800"/><circle cx="219" cy="26" r="1.8" fill="#5cea00"/><circle cx="248" cy="55" r="2.6" fill="#faf200"/><circle cx="245" cy="51" r="3.2" fill="#ebea00"/><circle cx="253" cy="51" r="1.8" fill="#e3cf00"/><circle cx="220" cy="59" r="1.9" fill="#de4400"/><circle cx="272" cy="36" r="3.1" fill="#a7d800"/><circle cx="269" cy="63" r="2.3" fill="#dc7a00"/><circle cx="220" cy="10" r="1.9" fill="#d8cc00"/><circle cx="240" cy="15" r="1.7" fill="#2fd300"/><circle cx="232" cy="38" r="2.7" fill="#d6c900"/><circle cx="258" cy="38" r="2.4" fill="#faba00"/><circle cx="280" cy="39" r="2.1" fill="#e5c400"/><circle cx="221" cy="37" r="1.7" fill="#d34500"/><circle cx="218" cy="64" r="3.3" fill="#f7e800"/><circle cx="225" cy="47" r="3.1" fill="#38d400"/><circle cx="221" cy="24" r="1.9" fill="#a8d700"/><circle cx="256" cy="55" r="2.6" fill="#50c600"/><circle cx="261" cy="44" r="2.7" fill="#ded600"/><circle cx="257" cy="22" r="2.9" fill="#f4d500"/><circle cx="236" cy="16" r="2.6" fill="#b0d500"/><circle cx="281" cy="25" r="2.6" fill="#30e500"/><circle cx="229" cy="49" r="3.3" fill="#59da00"/><circle cx="260" cy="57" r="1.9" fill="#d5d300"/><circle cx="278" cy="13" r="2.1" fill="#eacd00"/><circle cx="253" cy="11" r="1.7" fill="#89d900"/><circle cx="216" cy="18" r="3.3" fill="#98e700"/><circle cx="226" cy="52" r="3.1" fill="#85d800"/><circle cx="214" cy="41" r="2.2" fill="#d1b000"/><circle cx="226" cy="57" r="3.2" fill="#dcd000"/><circle cx="228" cy="11" r="3.3" fill="#5bd300"/><circle cx="269" cy="51" r="2.4" fill="#e8d400"/><circle cx="265" cy="51" r="1.6" fill="#2de300"/><circle cx="209" cy="22" r="2.5" fill="#35cd00"/><circle cx="252" cy="40" r="2.8" fill="#e4c400"/><circle cx="267" cy="61" r="2.9" fill="#e8ca00"/><circle cx="222" cy="63" r="2.8" fill="#45df00"/><circle cx="220" cy="26" r="1.7" fill="#19cc00"/><circle cx="235" cy="31" r="2.8" fill="#34e700"/><circle cx="275" cy="28" r="2.5" fill="#d9ca00"/><circle cx="262" cy="55" r="2.4" fill="#9ddf00"/><circle cx="219" cy="55" r="3.0" fill="#43d900"/><circle cx="236" cy="40" r="3.0" fill="#83d300"/><circle cx="244" cy="53" r="3.3" fill="#dad500"/><circle cx="247" cy="41" r="2.9" fill="#d5d300"/><circle cx="233" cy="19" r="2.3" fill="#b0ec00"/><circle cx="232" cy="23" r="3.2" fill="#e8e100"/><circle cx="241" cy="40" r="2.2" fill="#db3e00"/><circle cx="226" cy="55" r="2.6" fill="#d44100"/><circle cx="222" cy="47" r="2.7" fill="#4fc500"/><circle cx="240" cy="57" r="3.2" fill="#90e300"/><circle cx="236" cy="23" r="2.6" fill="#dcbf00"/><circle cx="264" cy="50" r="2.0" fill="#d8c000"/><circle cx="217" cy="29" r="2.9" fill="#5bd000"/><circle cx="269" cy="42" r="1.9" fill="#4ac800"/><circle cx="230" cy="36" r="2.8" fill="#27e500"/><circle cx="255" cy="33" r="3.3" fill="#35c600"/><circle cx="261" cy="42" r="1.9" fill="#a5d200"/><circle cx="259" cy="34" r="2.0" fill="#22ea00"/><circle cx="224" cy="43" r="2.5" fill="#f79f00"/><circle cx="235" cy="48" r="2.5" fill="#99f400"/><circle cx="239" cy="33" r="2.1" fill="#2fe200"/><circle cx="250" cy="53" r="2.8" fill="#8cd900"/><circle cx="227" cy="57" r="2.0" fill="#7ed700"/><circle cx="228" cy="46" r="2.7" fill="#eecb00"/><circle cx="258" cy="29" r="2.0" fill="#f4e400"/><circle cx="235" cy="59" r="3.3" fill="#f8ec00"/><circle cx="253" cy="45" r="1.9" fill="#d4b600"/><circle cx="258" cy="16" r="3.1" fill="#4eec00"/><circle cx="257" cy="31" r="1.8" fill="#2be000"/><circle cx="241" cy="30" r="2.2" fill="#f4d500"/><circle cx="223" cy="50" r="1.9" fill="#9ddf00"/><circle cx="255" cy="38" r="1.7" fill="#dca100"/><circle cx="254" cy="54" r="2.6" fill="#e7dc00"/><circle cx="250" cy="16" r="2.2" fill="#fdf200"/><circle cx="232" cy="60" r="3.3" fill="#befb00"/><circle cx="223" cy="42" r="2.5" fill="#f3e600"/><circle cx="265" cy="47" r="3.0" fill="#a6dc00"/><circle cx="221" cy="66" r="2.4" fill="#4aec00"/><circle cx="258" cy="60" r="1.9" fill="#f2cc00"/><circle cx="276" cy="11" r="3.0" fill="#f0a500"/><circle cx="273" cy="56" r="3.4" fill="#ebcd00"/><circle cx="218" cy="63" r="1.6" fill="#22cf00"/><circle cx="232" cy="57" r="3.0" fill="#db3700"/><circle cx="282" cy="32" r="2.1" fill="#fc9600"/><circle cx="252" cy="33" r="2.8" fill="#65e000"/><circle cx="278" cy="52" r="2.0" fill="#f0a000"/><circle cx="279" cy="50" r="2.4" fill="#22c500"/><circle cx="233" cy="39" r="2.9" fill="#62dd00"/><circle cx="270" cy="27" r="2.7" fill="#90df00"/><circle cx="285" cy="30" r="2.9" fill="#caea00"/><circle cx="245" cy="58" r="1.7" fill="#51c600"/><circle cx="234" cy="10" r="3.3" fill="#a9f300"/><circle cx="230" cy="48" r="3.1" fill="#fdac00"/><circle cx="268" cy="47" r="2.8" fill="#c9eb00"/><circle cx="226" cy="60" r="2.5" fill="#b5e700"/><circle cx="278" cy="55" r="3.3" fill="#56d600"/><circle cx="222" cy="55" r="1.7" fill="#b7f500"/><circle cx="260" cy="56" r="3.3" fill="#eed600"/><circle cx="223" cy="20" r="2.6" fill="#d28600"/><circle cx="267" cy="36" r="2.5" fill="#99f700"/><circle cx="260" cy="37" r="1.9" fill="#fee300"/><circle cx="261" cy="37" r="3.4" fill="#ace800"/><circle cx="266" cy="58" r="2.7" fill="#e3c300"/><circle cx="279" cy="44" r="2.3" fill="#bee600"/><circle cx="271" cy="51" r="2.7" fill="#a3e000"/><circle cx="248" cy="15" r="2.6" fill="#adfc00"/><circle cx="221" cy="32" r="3.1" fill="#94fb00"/><circle cx="262" cy="50" r="3.4" fill="#c7fd00"/><circle cx="275" cy="65" r="3.3" fill="#fd9800"/><circle cx="312" cy="79" r="3.0" fill="#a2e800"/><circle cx="311" cy="86" r="1.9" fill="#32e100"/><circle cx="276" cy="70" r="2.2" fill="#e88100"/><circle cx="305" cy="87" r="2.9" fill="#8edb00"/><circle cx="290" cy="71" r="2.5" fill="#d6d600"/><circle cx="274" cy="64" r="2.6" fill="#e99e00"/><circle cx="295" cy="67" r="3.2" fill="#fbf000"/><circle cx="306" cy="79" r="1.9" fill="#c1fb00"/><circle cx="290" cy="65" r="3.0" fill="#b2f600"/><circle cx="311" cy="81" r="3.0" fill="#f3d100"/><circle cx="308" cy="85" r="1.7" fill="#4fed00"/><circle cx="276" cy="67" r="1.8" fill="#4ddf00"/><circle cx="287" cy="69" r="1.9" fill="#45e400"/><circle cx="290" cy="58" r="1.9" fill="#8ae800"/><circle cx="302" cy="60" r="3.1" fill="#eee800"/><circle cx="287" cy="63" r="2.0" fill="#f43f00"/><circle cx="297" cy="33" r="3.3" fill="#e17b00"/><circle cx="290" cy="49" r="1.8" fill="#efe000"/><circle cx="302" cy="78" r="3.1" fill="#efe000"/><circle cx="298" cy="67" r="2.5" fill="#4be200"/><circle cx="287" cy="70" r="3.0" fill="#afd300"/><circle cx="276" cy="67" r="2.6" fill="#decd00"/><circle cx="284" cy="65" r="3.0" fill="#2fd500"/><circle cx="296" cy="57" r="3.2" fill="#faba00"/><circle cx="287" cy="75" r="3.2" fill="#3ed200"/><circle cx="322" cy="64" r="2.3" fill="#27ca00"/><circle cx="292" cy="67" r="1.6" fill="#9fd700"/><circle cx="306" cy="60" r="2.0" fill="#e1c100"/><circle cx="317" cy="74" r="1.8" fill="#f2eb00"/><circle cx="302" cy="77" r="2.1" fill="#f0d000"/><circle cx="285" cy="65" r="2.1" fill="#3be800"/><circle cx="302" cy="80" r="1.8" fill="#24e700"/><circle cx="323" cy="80" r="2.4" fill="#a6d300"/><circle cx="290" cy="51" r="2.7" fill="#bedd00"/><circle cx="302" cy="81" r="2.9" fill="#b4d600"/><circle cx="281" cy="64" r="3.0" fill="#e78f00"/><circle cx="287" cy="81" r="3.4" fill="#54d300"/><circle cx="318" cy="71" r="2.8" fill="#38dd00"/><circle cx="290" cy="87" r="2.0" fill="#e78000"/><circle cx="294" cy="46" r="2.4" fill="#d47800"/><circle cx="276" cy="62" r="1.7" fill="#5bd600"/><circle cx="293" cy="92" r="2.7" fill="#d4bf00"/><circle cx="296" cy="78" r="1.7" fill="#54c700"/><circle cx="304" cy="59" r="2.5" fill="#e99800"/><circle cx="209" cy="73" r="1.9" fill="#31eb00"/><circle cx="184" cy="87" r="1.6" fill="#31dc00"/><circle cx="203" cy="80" r="3.1" fill="#adef00"/><circle cx="216" cy="67" r="2.3" fill="#24d400"/><circle cx="201" cy="86" r="3.4" fill="#a4f700"/><circle cx="203" cy="63" r="2.6" fill="#efe600"/><circle cx="210" cy="61" r="1.7" fill="#fdeb00"/><circle cx="213" cy="67" r="3.2" fill="#e6d100"/><circle cx="191" cy="57" r="2.9" fill="#fdbb00"/><circle cx="197" cy="80" r="3.3" fill="#d5b900"/><circle cx="212" cy="71" r="1.9" fill="#d29b00"/><circle cx="198" cy="46" r="2.8" fill="#d2c500"/><circle cx="197" cy="74" r="2.0" fill="#f8ee00"/><circle cx="178" cy="73" r="2.3" fill="#dac200"/><circle cx="201" cy="73" r="2.2" fill="#8ce800"/><circle cx="194" cy="84" r="1.7" fill="#3edf00"/><circle cx="212" cy="69" r="2.4" fill="#e2c000"/><circle cx="215" cy="69" r="2.9" fill="#d5c000"/><circle cx="212" cy="57" r="3.1" fill="#9ade00"/><circle cx="199" cy="77" r="1.9" fill="#1fd900"/><circle cx="211" cy="61" r="1.8" fill="#f45100"/><circle cx="203" cy="80" r="2.3" fill="#b0fb00"/><circle cx="196" cy="89" r="1.8" fill="#dfd100"/><circle cx="195" cy="49" r="1.9" fill="#35d200"/><circle cx="181" cy="87" r="1.9" fill="#50d000"/><circle cx="201" cy="81" r="3.3" fill="#3acf00"/><circle cx="191" cy="91" r="2.1" fill="#b5eb00"/><circle cx="199" cy="67" r="3.1" fill="#bff300"/><circle cx="204" cy="44" r="3.3" fill="#f7f400"/><circle cx="200" cy="65" r="1.8" fill="#c0de00"/><circle cx="202" cy="81" r="2.3" fill="#dbbf00"/><circle cx="189" cy="95" r="2.7" fill="#f0e900"/><circle cx="196" cy="56" r="3.1" fill="#b8f300"/><circle cx="212" cy="66" r="2.3" fill="#54ee00"/><circle cx="191" cy="69" r="2.8" fill="#feed00"/><circle cx="190" cy="128" r="1.8" fill="#ea8900"/><circle cx="191" cy="104" r="2.2" fill="#3ede00"/><circle cx="191" cy="98" r="2.8" fill="#33c900"/><circle cx="195" cy="102" r="1.7" fill="#a8e200"/><circle cx="190" cy="124" r="1.8" fill="#e5dd00"/><circle cx="191" cy="110" r="2.4" fill="#e59f00"/><circle cx="184" cy="96" r="2.0" fill="#4cd800"/><circle cx="192" cy="134" r="2.9" fill="#84d400"/><circle cx="192" cy="138" r="2.5" fill="#44ca00"/><circle cx="189" cy="112" r="2.9" fill="#e5c900"/><circle cx="184" cy="133" r="2.4" fill="#de8f00"/><circle cx="195" cy="101" r="3.0" fill="#d37700"/><circle cx="181" cy="103" r="1.7" fill="#42dc00"/><circle cx="193" cy="117" r="2.9" fill="#f16100"/><circle cx="194" cy="129" r="2.6" fill="#a6ed00"/><circle cx="188" cy="126" r="3.3" fill="#2fd100"/><circle cx="191" cy="113" r="3.4" fill="#46c500"/><circle cx="191" cy="131" r="3.1" fill="#d78d00"/><circle cx="187" cy="123" r="2.1" fill="#dbc600"/><circle cx="188" cy="143" r="2.4" fill="#f5d600"/><circle cx="194" cy="106" r="2.5" fill="#d28500"/><circle cx="190" cy="96" r="2.4" fill="#e24500"/><circle cx="192" cy="117" r="3.0" fill="#eace00"/><circle cx="192" cy="113" r="3.2" fill="#8ad700"/><circle cx="187" cy="133" r="2.4" fill="#faf000"/><circle cx="187" cy="107" r="1.9" fill="#dfd300"/><circle cx="187" cy="109" r="3.1" fill="#4dee00"/><circle cx="191" cy="123" r="2.0" fill="#d9c200"/><circle cx="191" cy="121" r="2.4" fill="#1de900"/><circle cx="192" cy="120" r="3.1" fill="#f5a900"/><circle cx="190" cy="137" r="2.7" fill="#59d700"/><circle cx="190" cy="111" r="1.8" fill="#b4dc00"/><circle cx="189" cy="99" r="3.2" fill="#fcb100"/><circle cx="190" cy="127" r="2.4" fill="#e58600"/><circle cx="191" cy="98" r="2.3" fill="#bee400"/><circle cx="188" cy="135" r="2.1" fill="#2ee900"/><circle cx="192" cy="139" r="2.3" fill="#f9e400"/><circle cx="194" cy="133" r="1.8" fill="#33c500"/><circle cx="193" cy="114" r="3.0" fill="#db8d00"/><circle cx="185" cy="141" r="2.8" fill="#f2d000"/><circle cx="195" cy="100" r="3.1" fill="#96db00"/><circle cx="192" cy="113" r="2.0" fill="#fde400"/><circle cx="193" cy="139" r="1.9" fill="#51e900"/><circle cx="194" cy="132" r="2.8" fill="#d7c700"/><circle cx="194" cy="140" r="1.8" fill="#34ec00"/><circle cx="190" cy="102" r="3.1" fill="#f99100"/><circle cx="193" cy="131" r="3.3" fill="#37e800"/><circle cx="189" cy="117" r="2.5" fill="#36e900"/><circle cx="194" cy="140" r="2.0" fill="#98d700"/><circle cx="188" cy="129" r="2.2" fill="#eecf00"/><circle cx="194" cy="110" r="3.1" fill="#49e600"/><circle cx="191" cy="142" r="3.0" fill="#d88d00"/><circle cx="194" cy="140" r="2.8" fill="#a7de00"/><circle cx="193" cy="106" r="2.2" fill="#1cd700"/><circle cx="193" cy="140" r="3.3" fill="#42cd00"/><circle cx="214" cy="179" r="1.9" fill="#49e700"/><circle cx="181" cy="155" r="2.2" fill="#40e200"/><circle cx="209" cy="168" r="1.9" fill="#fddc00"/><circle cx="204" cy="163" r="2.6" fill="#faac00"/><circle cx="204" cy="176" r="2.4" fill="#e39600"/><circle cx="199" cy="149" r="2.6" fill="#68ea00"/><circle cx="206" cy="170" r="2.2" fill="#42de00"/><circle cx="197" cy="153" r="2.4" fill="#3eea00"/><circle cx="195" cy="150" r="2.4" fill="#db8a00"/><circle cx="192" cy="160" r="1.9" fill="#94fb00"/><circle cx="260" cy="180" r="1.7" fill="#dc8500"/><circle cx="264" cy="179" r="3.2" fill="#e3d500"/><circle cx="229" cy="182" r="2.4" fill="#de9800"/><circle cx="253" cy="188" r="2.9" fill="#d2ca00"/><circle cx="260" cy="185" r="2.0" fill="#2fc700"/><circle cx="248" cy="187" r="2.1" fill="#51e100"/><circle cx="265" cy="181" r="2.8" fill="#d2c200"/><circle cx="256" cy="184" r="2.2" fill="#e6e100"/><circle cx="247" cy="184" r="2.9" fill="#f3a900"/><circle cx="259" cy="187" r="2.5" fill="#f6d600"/><circle cx="236" cy="182" r="3.1" fill="#ee5900"/><circle cx="236" cy="182" r="3.2" fill="#38e800"/><circle cx="300" cy="155" r="2.6" fill="#48da00"/><circle cx="292" cy="160" r="3.3" fill="#f6ed00"/><circle cx="293" cy="160" r="2.7" fill="#b8ee00"/><circle cx="294" cy="162" r="3.0" fill="#27d900"/><circle cx="294" cy="163" r="2.1" fill="#43cb00"/><circle cx="285" cy="165" r="3.1" fill="#f6d100"/><circle cx="290" cy="177" r="2.1" fill="#f7df00"/><circle cx="303" cy="148" r="3.1" fill="#96d400"/><circle cx="295" cy="181" r="1.7" fill="#f9ed00"/><circle cx="290" cy="172" r="2.6" fill="#3cc500"/><circle cx="284" cy="163" r="2.2" fill="#edd900"/><circle cx="278" cy="180" r="1.9" fill="#f0ec00"/><circle cx="284" cy="177" r="3.4" fill="#e7e500"/><circle cx="277" cy="177" r="1.9" fill="#eb5e00"/><circle cx="291" cy="166" r="1.8" fill="#d6ba00"/><circle cx="277" cy="171" r="2.3" fill="#fcd500"/><circle cx="284" cy="169" r="3.3" fill="#25d300"/><circle cx="290" cy="157" r="2.7" fill="#f2f000"/><circle cx="286" cy="175" r="2.7" fill="#eb5600"/><circle cx="295" cy="183" r="2.3" fill="#d48700"/><circle cx="293" cy="162" r="2.5" fill="#d1f200"/><circle cx="295" cy="156" r="2.8" fill="#5ac800"/><circle cx="296" cy="152" r="1.8" fill="#dcd900"/><circle cx="281" cy="176" r="3.3" fill="#27ed00"/><circle cx="282" cy="179" r="2.0" fill="#d4c100"/><circle cx="298" cy="115" r="2.9" fill="#d2c500"/><circle cx="300" cy="105" r="3.0" fill="#52c600"/><circle cx="320" cy="134" r="1.8" fill="#40eb00"/><circle cx="308" cy="144" r="2.4" fill="#9fe900"/><circle cx="298" cy="110" r="2.7" fill="#dcd100"/><circle cx="302" cy="136" r="3.0" fill="#a7e000"/><circle cx="331" cy="102" r="2.4" fill="#d8d200"/><circle cx="301" cy="105" r="1.6" fill="#69eb00"/><circle cx="299" cy="134" r="3.2" fill="#53c900"/><circle cx="302" cy="138" r="1.7" fill="#d1c000"/><circle cx="321" cy="124" r="2.2" fill="#88dc00"/><circle cx="311" cy="135" r="2.8" fill="#de7f00"/><circle cx="314" cy="122" r="1.9" fill="#fae800"/><circle cx="325" cy="133" r="2.0" fill="#4bc600"/><circle cx="301" cy="129" r="3.4" fill="#e7d200"/><circle cx="311" cy="102" r="1.8" fill="#4ee200"/><circle cx="316" cy="135" r="1.9" fill="#ec9500"/><circle cx="316" cy="101" r="1.7" fill="#d6c400"/><circle cx="314" cy="147" r="2.3" fill="#48ce00"/><circle cx="318" cy="136" r="3.2" fill="#c3f600"/><circle cx="312" cy="92" r="2.5" fill="#f1d100"/><circle cx="329" cy="88" r="1.8" fill="#faa800"/><circle cx="311" cy="109" r="1.7" fill="#8cd500"/><circle cx="306" cy="112" r="1.9" fill="#22dd00"/><circle cx="329" cy="87" r="1.8" fill="#e38400"/><circle cx="319" cy="128" r="2.9" fill="#f39700"/><circle cx="303" cy="120" r="2.8" fill="#45e600"/><circle cx="300" cy="120" r="2.5" fill="#49e100"/><circle cx="326" cy="125" r="2.3" fill="#50db00"/><circle cx="313" cy="109" r="2.9" fill="#fbf300"/><circle cx="299" cy="109" r="3.1" fill="#b5e600"/><circle cx="303" cy="97" r="2.8" fill="#edad00"/><circle cx="333" cy="124" r="1.6" fill="#eb9b00"/><circle cx="315" cy="112" r="1.8" fill="#30dd00"/><circle cx="311" cy="126" r="2.3" fill="#ef9700"/><circle cx="303" cy="109" r="2.0" fill="#decb00"/><circle cx="319" cy="107" r="2.5" fill="#c9fd00"/><circle cx="300" cy="106" r="1.8" fill="#eddc00"/><circle cx="311" cy="93" r="2.8" fill="#f0d200"/><circle cx="299" cy="115" r="2.9" fill="#40e200"/><circle cx="57" cy="222" r="2.1" fill="#5bcc00"/><circle cx="75" cy="218" r="2.9" fill="#c7ea00"/><circle cx="107" cy="216" r="3.1" fill="#b5d600"/><circle cx="98" cy="185" r="3.1" fill="#cafa00"/><circle cx="98" cy="199" r="2.0" fill="#ef9f00"/><circle cx="56" cy="231" r="2.4" fill="#da9d00"/><circle cx="86" cy="222" r="2.7" fill="#41cd00"/><circle cx="89" cy="217" r="3.3" fill="#eda200"/><circle cx="95" cy="230" r="2.7" fill="#58d800"/><circle cx="108" cy="211" r="2.0" fill="#45cf00"/><circle cx="86" cy="213" r="2.3" fill="#46db00"/><circle cx="105" cy="232" r="3.0" fill="#2dd200"/><circle cx="82" cy="190" r="2.4" fill="#da8100"/><circle cx="92" cy="207" r="2.7" fill="#d7cb00"/><circle cx="82" cy="208" r="1.9" fill="#d6ba00"/><circle cx="75" cy="229" r="2.0" fill="#e4d900"/><circle cx="117" cy="236" r="3.0" fill="#d9d000"/><circle cx="149" cy="249" r="2.0" fill="#a4ee00"/><circle cx="117" cy="227" r="3.3" fill="#fdba00"/><circle cx="138" cy="232" r="1.9" fill="#e3cf00"/><circle cx="127" cy="241" r="2.5" fill="#eecc00"/><circle cx="131" cy="263" r="3.2" fill="#f2d500"/><circle cx="116" cy="225" r="2.3" fill="#f1e600"/><circle cx="151" cy="243" r="2.4" fill="#ead800"/><circle cx="137" cy="256" r="2.1" fill="#3add00"/><circle cx="142" cy="235" r="2.0" fill="#5aef00"/><circle cx="115" cy="230" r="2.6" fill="#a5e800"/><circle cx="125" cy="253" r="2.8" fill="#9ad500"/><circle cx="130" cy="258" r="3.1" fill="#24ca00"/><circle cx="133" cy="250" r="3.2" fill="#23e300"/><circle cx="125" cy="240" r="2.1" fill="#4ed000"/><circle cx="128" cy="240" r="1.7" fill="#e3cb00"/><circle cx="133" cy="251" r="2.8" fill="#57c700"/><circle cx="145" cy="264" r="1.8" fill="#d2c800"/><circle cx="133" cy="326" r="2.9" fill="#fdf300"/><circle cx="145" cy="254" r="3.3" fill="#feee00"/><circle cx="132" cy="302" r="2.7" fill="#f7dc00"/><circle cx="139" cy="277" r="3.2" fill="#f8f300"/><circle cx="133" cy="277" r="2.6" fill="#f2cd00"/><circle cx="156" cy="267" r="2.8" fill="#b1f600"/><circle cx="138" cy="332" r="2.7" fill="#5dcf00"/><circle cx="132" cy="271" r="2.6" fill="#d18d00"/><circle cx="133" cy="289" r="3.0" fill="#abe400"/><circle cx="132" cy="322" r="1.7" fill="#f55300"/><circle cx="150" cy="290" r="2.2" fill="#24d100"/><circle cx="148" cy="322" r="1.9" fill="#93f200"/><circle cx="144" cy="284" r="1.7" fill="#2cda00"/><circle cx="136" cy="295" r="2.3" fill="#21ed00"/><circle cx="159" cy="285" r="2.7" fill="#e1d800"/><circle cx="140" cy="296" r="1.8" fill="#ef9400"/><circle cx="129" cy="320" r="1.8" fill="#2ad500"/><circle cx="140" cy="304" r="2.3" fill="#e48a00"/><circle cx="131" cy="321" r="1.9" fill="#4ed200"/><circle cx="145" cy="321" r="1.7" fill="#e29b00"/><circle cx="153" cy="256" r="3.3" fill="#35e700"/><circle cx="141" cy="251" r="2.5" fill="#55e800"/><circle cx="142" cy="265" r="3.2" fill="#b2e700"/><circle cx="144" cy="301" r="2.3" fill="#f6d900"/><circle cx="135" cy="306" r="3.0" fill="#e2d100"/><circle cx="152" cy="278" r="2.9" fill="#d4d000"/><circle cx="158" cy="311" r="1.8" fill="#5ad500"/><circle cx="143" cy="279" r="2.8" fill="#94dc00"/><circle cx="136" cy="303" r="2.1" fill="#dabf00"/><circle cx="143" cy="321" r="2.8" fill="#e08e00"/><circle cx="138" cy="277" r="3.3" fill="#5bec00"/><circle cx="140" cy="308" r="1.6" fill="#4be500"/><circle cx="147" cy="308" r="3.0" fill="#1bc900"/><circle cx="129" cy="322" r="3.2" fill="#eb5600"/><circle cx="156" cy="302" r="2.5" fill="#f18b00"/><circle cx="159" cy="301" r="1.7" fill="#53e600"/><circle cx="134" cy="324" r="2.3" fill="#b6e500"/><circle cx="136" cy="278" r="1.9" fill="#f48a00"/><circle cx="144" cy="291" r="2.5" fill="#f7f500"/><circle cx="152" cy="332" r="1.6" fill="#e7e400"/><circle cx="137" cy="315" r="3.0" fill="#31d000"/><circle cx="136" cy="293" r="2.0" fill="#2de700"/><circle cx="132" cy="327" r="2.4" fill="#d94400"/><circle cx="149" cy="301" r="2.1" fill="#57e400"/><circle cx="128" cy="266" r="2.6" fill="#acda00"/><circle cx="142" cy="295" r="1.9" fill="#bcef00"/><circle cx="137" cy="288" r="3.2" fill="#37df00"/><circle cx="136" cy="332" r="1.6" fill="#eedc00"/><circle cx="140" cy="334" r="2.9" fill="#f8eb00"/><circle cx="141" cy="318" r="2.6" fill="#f2f200"/><circle cx="134" cy="354" r="3.0" fill="#a2e100"/><circle cx="127" cy="339" r="2.3" fill="#f2aa00"/><circle cx="126" cy="363" r="3.1" fill="#bfeb00"/><circle cx="128" cy="339" r="3.2" fill="#e3d000"/><circle cx="116" cy="365" r="2.4" fill="#dfdb00"/><circle cx="121" cy="354" r="2.0" fill="#ecd300"/><circle cx="115" cy="375" r="1.6" fill="#abf000"/><circle cx="124" cy="347" r="1.8" fill="#ddd800"/><circle cx="116" cy="358" r="2.6" fill="#e1de00"/><circle cx="116" cy="342" r="1.6" fill="#a3d200"/><circle cx="140" cy="343" r="3.2" fill="#faf200"/><circle cx="130" cy="346" r="1.8" fill="#e24b00"/><circle cx="106" cy="372" r="2.2" fill="#e3d500"/><circle cx="122" cy="359" r="2.2" fill="#b3fc00"/><circle cx="124" cy="369" r="3.1" fill="#30d400"/><circle cx="120" cy="336" r="3.2" fill="#d8fb00"/><circle cx="132" cy="361" r="1.6" fill="#bff400"/><circle cx="118" cy="358" r="3.1" fill="#ace100"/><circle cx="126" cy="327" r="3.1" fill="#9cf300"/><circle cx="106" cy="351" r="1.9" fill="#fddc00"/><circle cx="105" cy="353" r="2.1" fill="#a2e500"/><circle cx="113" cy="380" r="3.1" fill="#d1b700"/><circle cx="127" cy="347" r="2.4" fill="#d8b600"/><circle cx="110" cy="350" r="2.3" fill="#2cd500"/><circle cx="121" cy="365" r="2.0" fill="#e6df00"/><circle cx="114" cy="344" r="2.6" fill="#e17f00"/><circle cx="123" cy="334" r="2.6" fill="#3cd100"/><circle cx="112" cy="344" r="2.8" fill="#aef400"/><circle cx="115" cy="352" r="2.3" fill="#e3c500"/><circle cx="108" cy="350" r="1.9" fill="#f8d700"/><circle cx="123" cy="358" r="2.8" fill="#f9f400"/><circle cx="114" cy="343" r="2.8" fill="#88dd00"/><circle cx="115" cy="361" r="3.2" fill="#ebd700"/><circle cx="129" cy="329" r="2.3" fill="#a1f000"/><circle cx="106" cy="356" r="2.9" fill="#f9d500"/><circle cx="116" cy="341" r="3.2" fill="#24ed00"/><circle cx="118" cy="377" r="2.1" fill="#a8d300"/><circle cx="117" cy="349" r="3.2" fill="#9aec00"/><circle cx="126" cy="328" r="1.6" fill="#8ce700"/><circle cx="136" cy="341" r="2.5" fill="#82d200"/><circle cx="132" cy="365" r="3.1" fill="#98ee00"/><circle cx="136" cy="361" r="1.8" fill="#d9a100"/><circle cx="120" cy="345" r="1.7" fill="#37ed00"/><circle cx="130" cy="338" r="2.0" fill="#96e800"/><circle cx="112" cy="352" r="3.2" fill="#53c700"/><circle cx="123" cy="342" r="3.0" fill="#ded000"/><circle cx="122" cy="374" r="1.7" fill="#d4fc00"/><circle cx="138" cy="349" r="3.1" fill="#43e800"/><circle cx="117" cy="345" r="1.9" fill="#a6f800"/><circle cx="114" cy="360" r="3.3" fill="#de4800"/><circle cx="116" cy="372" r="3.4" fill="#e9ac00"/><circle cx="113" cy="344" r="2.5" fill="#dd8c00"/><circle cx="133" cy="355" r="2.5" fill="#d9ce00"/><circle cx="119" cy="338" r="2.1" fill="#d5b600"/><circle cx="119" cy="358" r="2.9" fill="#1ee300"/><circle cx="114" cy="365" r="3.1" fill="#e7c600"/><circle cx="126" cy="334" r="1.7" fill="#ece000"/><circle cx="130" cy="341" r="1.7" fill="#2ee200"/><circle cx="116" cy="368" r="3.0" fill="#eac600"/><circle cx="118" cy="340" r="1.6" fill="#f2e000"/><circle cx="14" cy="345" r="2.3" fill="#8ee500"/><circle cx="26" cy="319" r="3.3" fill="#f8e900"/><circle cx="20" cy="329" r="2.7" fill="#41d100"/><circle cx="34" cy="324" r="3.0" fill="#eeac00"/><circle cx="46" cy="345" r="2.6" fill="#a9f000"/><circle cx="32" cy="369" r="2.5" fill="#de5b00"/><circle cx="27" cy="324" r="3.0" fill="#e79600"/><circle cx="35" cy="327" r="3.2" fill="#93d900"/><circle cx="26" cy="355" r="2.1" fill="#87da00"/><circle cx="48" cy="357" r="3.4" fill="#21e500"/><circle cx="44" cy="353" r="3.2" fill="#99d500"/><circle cx="11" cy="326" r="1.8" fill="#f5d300"/><circle cx="38" cy="338" r="2.2" fill="#b4ef00"/><circle cx="22" cy="320" r="1.6" fill="#5dd800"/><circle cx="47" cy="356" r="2.1" fill="#4ac900"/><circle cx="48" cy="358" r="2.1" fill="#5ae700"/><circle cx="27" cy="352" r="3.2" fill="#24d000"/><circle cx="28" cy="344" r="1.8" fill="#26d800"/><circle cx="36" cy="331" r="3.4" fill="#44d800"/><circle cx="35" cy="327" r="2.8" fill="#d4b300"/><circle cx="27" cy="321" r="2.5" fill="#eea100"/><circle cx="36" cy="334" r="2.8" fill="#d6b500"/><circle cx="34" cy="345" r="1.8" fill="#affe00"/><circle cx="24" cy="319" r="1.9" fill="#fde700"/><circle cx="31" cy="336" r="2.6" fill="#38da00"/><circle cx="15" cy="337" r="2.1" fill="#29ea00"/><circle cx="38" cy="346" r="2.9" fill="#19c800"/><circle cx="39" cy="343" r="1.7" fill="#bbdd00"/><circle cx="18" cy="321" r="3.0" fill="#e6dd00"/><circle cx="42" cy="349" r="2.2" fill="#43ce00"/><circle cx="41" cy="340" r="2.2" fill="#efdd00"/><circle cx="44" cy="360" r="2.9" fill="#ace000"/><circle cx="39" cy="335" r="3.2" fill="#b0d200"/><circle cx="42" cy="368" r="2.4" fill="#3ec500"/><circle cx="27" cy="360" r="2.3" fill="#1dd600"/><circle cx="22" cy="353" r="3.4" fill="#d39800"/><circle cx="20" cy="329" r="2.4" fill="#fd8d00"/><circle cx="27" cy="328" r="3.2" fill="#e4c800"/><circle cx="17" cy="328" r="2.3" fill="#64ed00"/><circle cx="47" cy="344" r="3.0" fill="#ebd000"/><circle cx="34" cy="345" r="1.7" fill="#edea00"/><circle cx="45" cy="349" r="3.1" fill="#e8db00"/><circle cx="49" cy="346" r="3.1" fill="#d2b300"/><circle cx="30" cy="315" r="2.9" fill="#50cb00"/><circle cx="33" cy="333" r="2.8" fill="#d8c500"/><circle cx="29" cy="309" r="2.8" fill="#99f900"/><circle cx="27" cy="302" r="1.9" fill="#39de00"/><circle cx="8" cy="281" r="3.1" fill="#d2b700"/><circle cx="13" cy="290" r="3.1" fill="#d4bd00"/><circle cx="16" cy="274" r="1.7" fill="#f4a200"/><circle cx="2" cy="279" r="2.3" fill="#fc6700"/><circle cx="20" cy="303" r="2.2" fill="#33d100"/><circle cx="20" cy="279" r="2.1" fill="#bef900"/><circle cx="13" cy="280" r="3.4" fill="#a3f800"/><circle cx="17" cy="302" r="2.1" fill="#2cd800"/><circle cx="23" cy="315" r="2.1" fill="#f39900"/><circle cx="10" cy="296" r="2.8" fill="#f0e000"/><circle cx="20" cy="286" r="3.1" fill="#fcda00"/><circle cx="5" cy="272" r="2.1" fill="#33e800"/><circle cx="22" cy="281" r="2.5" fill="#dbc200"/><circle cx="20" cy="279" r="2.0" fill="#f0e400"/><circle cx="17" cy="296" r="2.2" fill="#f98e00"/><circle cx="19" cy="268" r="2.0" fill="#c0fb00"/><circle cx="21" cy="273" r="2.0" fill="#46df00"/><circle cx="6" cy="286" r="3.2" fill="#22ea00"/><circle cx="28" cy="310" r="3.0" fill="#e6cd00"/><circle cx="22" cy="309" r="3.3" fill="#f9d800"/><circle cx="12" cy="303" r="3.2" fill="#42c500"/><circle cx="21" cy="311" r="2.2" fill="#f1dc00"/><circle cx="5" cy="261" r="1.7" fill="#a6d300"/><circle cx="24" cy="308" r="2.9" fill="#adf300"/><circle cx="22" cy="317" r="1.8" fill="#34dd00"/><circle cx="20" cy="293" r="2.2" fill="#ebd700"/><circle cx="25" cy="298" r="3.2" fill="#64ed00"/><circle cx="26" cy="287" r="3.0" fill="#85d400"/><circle cx="26" cy="277" r="2.7" fill="#9be100"/><circle cx="13" cy="281" r="1.8" fill="#2cde00"/><circle cx="23" cy="309" r="2.3" fill="#dd9a00"/><circle cx="11" cy="274" r="3.1" fill="#e0cb00"/><circle cx="27" cy="284" r="3.1" fill="#39db00"/><circle cx="22" cy="281" r="2.8" fill="#f7ef00"/><circle cx="25" cy="310" r="2.5" fill="#bffd00"/><circle cx="23" cy="290" r="2.6" fill="#f4df00"/><circle cx="16" cy="293" r="2.2" fill="#44ef00"/><circle cx="26" cy="300" r="3.3" fill="#da8d00"/><circle cx="22" cy="251" r="3.3" fill="#ecdc00"/><circle cx="30" cy="258" r="1.7" fill="#befc00"/><circle cx="49" cy="241" r="2.0" fill="#ed8300"/><circle cx="29" cy="267" r="3.3" fill="#61e000"/><circle cx="33" cy="254" r="2.1" fill="#d4bf00"/><circle cx="31" cy="251" r="3.2" fill="#3bc700"/><circle cx="33" cy="235" r="1.6" fill="#a2fa00"/><circle cx="47" cy="241" r="2.1" fill="#23ed00"/><circle cx="18" cy="234" r="1.9" fill="#f0b000"/><circle cx="16" cy="253" r="2.9" fill="#55ca00"/><circle cx="24" cy="253" r="2.2" fill="#fba100"/><circle cx="34" cy="236" r="2.7" fill="#fef600"/><circle cx="54" cy="364" r="2.6" fill="#e99a00"/><circle cx="86" cy="376" r="1.9" fill="#f39800"/><circle cx="67" cy="359" r="2.5" fill="#f7ec00"/><circle cx="57" cy="357" r="2.7" fill="#fec200"/><circle cx="53" cy="355" r="2.7" fill="#feef00"/><circle cx="96" cy="370" r="1.9" fill="#efba00"/><circle cx="56" cy="365" r="3.0" fill="#e8bb00"/><circle cx="65" cy="380" r="2.1" fill="#e2a100"/><circle cx="56" cy="357" r="2.1" fill="#e4a600"/><circle cx="88" cy="372" r="3.1" fill="#ead000"/><circle cx="81" cy="373" r="1.7" fill="#d99e00"/><circle cx="52" cy="371" r="2.7" fill="#e5de00"/><circle cx="59" cy="354" r="2.2" fill="#eb9e00"/><circle cx="68" cy="359" r="1.7" fill="#e49a00"/><circle cx="58" cy="366" r="3.0" fill="#d5c900"/><circle cx="86" cy="364" r="1.9" fill="#f8dd00"/><circle cx="43" cy="370" r="2.5" fill="#f8a200"/><circle cx="66" cy="358" r="3.0" fill="#f9b400"/><circle cx="70" cy="363" r="2.4" fill="#eed000"/><circle cx="59" cy="353" r="2.2" fill="#efdc00"/><circle cx="82" cy="364" r="2.1" fill="#dbc200"/><circle cx="98" cy="372" r="1.7" fill="#fbe500"/><circle cx="65" cy="366" r="3.0" fill="#f7bb00"/><circle cx="66" cy="359" r="1.6" fill="#d9d400"/><circle cx="66" cy="376" r="1.7" fill="#eb9400"/><circle cx="103" cy="376" r="1.8" fill="#f2d200"/><circle cx="78" cy="358" r="1.7" fill="#f5d700"/><circle cx="44" cy="368" r="2.7" fill="#e1b100"/><circle cx="69" cy="381" r="1.9" fill="#fade00"/><circle cx="99" cy="359" r="2.8" fill="#fdb700"/><circle cx="65" cy="369" r="2.2" fill="#ea9900"/><circle cx="76" cy="358" r="2.0" fill="#dddc00"/><circle cx="82" cy="372" r="2.7" fill="#dcd800"/><circle cx="80" cy="382" r="2.2" fill="#dfa000"/><circle cx="59" cy="356" r="2.3" fill="#fec300"/><circle cx="59" cy="351" r="2.2" fill="#e5ae00"/><circle cx="70" cy="365" r="2.4" fill="#d1cd00"/><circle cx="81" cy="372" r="2.1" fill="#fbf400"/><circle cx="79" cy="365" r="2.9" fill="#dbcc00"/><circle cx="72" cy="362" r="2.3" fill="#e99200"/><circle cx="103" cy="378" r="1.9" fill="#d3cf00"/><circle cx="53" cy="354" r="2.4" fill="#f7d500"/><circle cx="78" cy="359" r="2.9" fill="#dcdb00"/><circle cx="51" cy="360" r="3.1" fill="#e6df00"/><circle cx="71" cy="356" r="2.2" fill="#fee100"/><circle cx="65" cy="380" r="2.2" fill="#f5de00"/><circle cx="80" cy="377" r="2.3" fill="#ea9300"/><circle cx="79" cy="375" r="3.2" fill="#edb400"/><circle cx="64" cy="366" r="2.8" fill="#f5f200"/><circle cx="82" cy="378" r="2.7" fill="#d48100"/><circle cx="44" cy="371" r="2.5" fill="#edd200"/><circle cx="65" cy="380" r="2.6" fill="#f3e900"/><circle cx="93" cy="366" r="1.9" fill="#eab900"/><circle cx="90" cy="358" r="3.3" fill="#d9b300"/><circle cx="47" cy="373" r="2.1" fill="#ede300"/><circle cx="101" cy="364" r="3.0" fill="#f1ee00"/><circle cx="49" cy="369" r="1.6" fill="#e9cf00"/><circle cx="80" cy="359" r="1.9" fill="#d8ae00"/><circle cx="85" cy="363" r="2.0" fill="#d8c200"/><circle cx="67" cy="372" r="3.4" fill="#d4ae00"/><circle cx="85" cy="371" r="3.0" fill="#f99f00"/><circle cx="81" cy="373" r="3.0" fill="#ddd600"/><circle cx="89" cy="357" r="2.8" fill="#efe800"/><circle cx="74" cy="357" r="2.0" fill="#e3c400"/><circle cx="96" cy="373" r="1.8" fill="#dfb200"/><circle cx="71" cy="381" r="1.8" fill="#eed800"/><circle cx="58" cy="356" r="2.0" fill="#e4c700"/><circle cx="59" cy="370" r="2.1" fill="#e9b800"/><circle cx="86" cy="371" r="1.6" fill="#e48a00"/><circle cx="66" cy="355" r="2.2" fill="#ecd700"/><circle cx="88" cy="382" r="2.0" fill="#deb200"/><circle cx="77" cy="359" r="2.1" fill="#e99b00"/><circle cx="72" cy="365" r="1.8" fill="#fece00"/><circle cx="86" cy="356" r="1.9" fill="#e2d900"/><circle cx="53" cy="359" r="3.1" fill="#feea00"/><circle cx="55" cy="355" r="2.9" fill="#de8900"/><circle cx="81" cy="373" r="2.9" fill="#d7c200"/><circle cx="47" cy="373" r="2.8" fill="#d7b100"/><circle cx="84" cy="382" r="2.6" fill="#ded100"/><circle cx="87" cy="382" r="1.9" fill="#f3a300"/><circle cx="66" cy="360" r="2.9" fill="#e3dd00"/><circle cx="80" cy="368" r="2.1" fill="#df8d00"/><circle cx="43" cy="370" r="3.4" fill="#fcf000"/><circle cx="80" cy="368" r="2.6" fill="#f8ec00"/><circle cx="61" cy="357" r="2.2" fill="#d99c00"/><circle cx="98" cy="380" r="3.0" fill="#de9000"/><circle cx="53" cy="354" r="3.3" fill="#e4de00"/><circle cx="45" cy="369" r="2.7" fill="#f0ea00"/><circle cx="74" cy="361" r="2.2" fill="#ebdf00"/><circle cx="63" cy="357" r="2.6" fill="#f99e00"/><circle cx="65" cy="363" r="2.1" fill="#f1f100"/><circle cx="89" cy="362" r="2.3" fill="#fef900"/><circle cx="81" cy="364" r="1.6" fill="#f3db00"/><circle cx="99" cy="376" r="2.2" fill="#eed800"/><circle cx="65" cy="366" r="2.1" fill="#e2cf00"/><circle cx="83" cy="361" r="2.2" fill="#eee500"/><circle cx="75" cy="373" r="3.2" fill="#ebeb00"/><circle cx="80" cy="382" r="3.0" fill="#e5b400"/><circle cx="100" cy="379" r="2.4" fill="#e8ca00"/><circle cx="91" cy="356" r="3.2" fill="#f7db00"/><circle cx="73" cy="368" r="3.2" fill="#d1bf00"/><circle cx="72" cy="382" r="2.1" fill="#e9d600"/><circle cx="53" cy="358" r="2.8" fill="#f4e500"/><circle cx="79" cy="374" r="2.5" fill="#d79200"/><circle cx="79" cy="382" r="2.6" fill="#d7cf00"/><circle cx="82" cy="357" r="2.3" fill="#f2af00"/><circle cx="100" cy="378" r="1.9" fill="#f4ef00"/><circle cx="98" cy="355" r="2.8" fill="#ded800"/><circle cx="50" cy="369" r="3.3" fill="#f7e400"/><circle cx="76" cy="381" r="2.5" fill="#eae600"/><circle cx="49" cy="374" r="3.1" fill="#ece000"/><circle cx="81" cy="362" r="2.3" fill="#e8e500"/><circle cx="49" cy="367" r="2.7" fill="#f6ed00"/><circle cx="66" cy="368" r="1.8" fill="#f2e200"/><circle cx="81" cy="359" r="1.7" fill="#e1c500"/><circle cx="91" cy="365" r="1.9" fill="#ebd700"/><circle cx="63" cy="360" r="2.9" fill="#f0c000"/><circle cx="64" cy="360" r="2.3" fill="#ee9000"/><circle cx="64" cy="367" r="2.7" fill="#dc9e00"/><circle cx="94" cy="360" r="2.3" fill="#f0ec00"/><circle cx="59" cy="374" r="2.5" fill="#d4d400"/><circle cx="57" cy="377" r="1.6" fill="#ece000"/><circle cx="58" cy="375" r="2.6" fill="#e1c600"/><circle cx="79" cy="359" r="3.3" fill="#ebcd00"/><circle cx="92" cy="363" r="2.6" fill="#dfd600"/><circle cx="55" cy="355" r="2.4" fill="#e8a300"/><circle cx="48" cy="363" r="2.2" fill="#e0cc00"/><circle cx="70" cy="362" r="3.0" fill="#db8600"/><circle cx="48" cy="368" r="3.2" fill="#e8b100"/><circle cx="100" cy="360" r="3.3" fill="#eb9b00"/><circle cx="376" cy="297" r="1.8" fill="#d1c500"/><circle cx="373" cy="282" r="1.8" fill="#fa9900"/><circle cx="353" cy="274" r="3.4" fill="#dca100"/><circle cx="380" cy="295" r="2.4" fill="#e3d500"/><circle cx="330" cy="278" r="3.0" fill="#d2ba00"/><circle cx="317" cy="241" r="3.3" fill="#e4e400"/><circle cx="335" cy="252" r="2.4" fill="#f29000"/><circle cx="338" cy="294" r="3.4" fill="#fbe000"/><circle cx="316" cy="254" r="2.0" fill="#e6ce00"/><circle cx="326" cy="273" r="3.1" fill="#d1b800"/><circle cx="338" cy="229" r="2.5" fill="#f7b800"/><circle cx="322" cy="245" r="2.8" fill="#f7d600"/><circle cx="384" cy="283" r="1.6" fill="#f1ef00"/><circle cx="373" cy="278" r="2.5" fill="#dabd00"/><circle cx="351" cy="249" r="3.0" fill="#d5c800"/><circle cx="322" cy="240" r="3.1" fill="#e4c400"/><circle cx="372" cy="303" r="2.0" fill="#dac600"/><circle cx="330" cy="243" r="2.7" fill="#f29300"/><circle cx="329" cy="263" r="2.5" fill="#da9900"/><circle cx="320" cy="223" r="2.0" fill="#d59b00"/><circle cx="309" cy="249" r="3.0" fill="#e2b900"/><circle cx="334" cy="282" r="2.2" fill="#d7d400"/><circle cx="365" cy="280" r="3.2" fill="#dddd00"/><circle cx="327" cy="250" r="1.9" fill="#d2cd00"/><circle cx="315" cy="254" r="1.7" fill="#dfa800"/><circle cx="337" cy="247" r="2.3" fill="#e7e600"/><circle cx="343" cy="294" r="2.4" fill="#f6e700"/><circle cx="350" cy="297" r="3.3" fill="#efab00"/><circle cx="336" cy="281" r="3.3" fill="#d7ca00"/><circle cx="344" cy="232" r="3.3" fill="#f69e00"/><circle cx="369" cy="289" r="2.9" fill="#d7c100"/><circle cx="359" cy="286" r="1.6" fill="#f1dd00"/><circle cx="327" cy="253" r="3.3" fill="#d8ca00"/><circle cx="325" cy="257" r="2.4" fill="#d29c00"/><circle cx="333" cy="282" r="3.1" fill="#eeb300"/><circle cx="327" cy="231" r="3.2" fill="#fde100"/><circle cx="329" cy="256" r="1.7" fill="#e69900"/><circle cx="340" cy="260" r="2.8" fill="#e3c600"/><circle cx="334" cy="271" r="3.1" fill="#f8ea00"/><circle cx="343" cy="268" r="2.1" fill="#ed9300"/><circle cx="342" cy="263" r="3.0" fill="#f5da00"/><circle cx="347" cy="303" r="1.7" fill="#d4d100"/><circle cx="365" cy="269" r="1.7" fill="#e19600"/><circle cx="363" cy="293" r="3.1" fill="#ddcb00"/><circle cx="313" cy="243" r="1.7" fill="#feb500"/><circle cx="327" cy="253" r="3.1" fill="#dabf00"/><circle cx="332" cy="258" r="3.4" fill="#dbbd00"/><circle cx="326" cy="268" r="2.0" fill="#f2a100"/><circle cx="355" cy="266" r="2.7" fill="#fde500"/><circle cx="313" cy="260" r="3.2" fill="#d28000"/><circle cx="374" cy="244" r="1.8" fill="#eae500"/><circle cx="349" cy="294" r="2.0" fill="#eb8c00"/><circle cx="343" cy="264" r="2.9" fill="#d7c400"/><circle cx="338" cy="275" r="2.4" fill="#f29c00"/><circle cx="344" cy="288" r="3.3" fill="#edeb00"/><circle cx="362" cy="273" r="2.5" fill="#d4c100"/><circle cx="318" cy="220" r="2.9" fill="#e7a900"/><circle cx="365" cy="288" r="1.8" fill="#e8e800"/><circle cx="358" cy="221" r="2.2" fill="#d4bb00"/><circle cx="339" cy="249" r="2.4" fill="#eace00"/><circle cx="333" cy="270" r="1.8" fill="#d7bb00"/><circle cx="313" cy="229" r="3.1" fill="#da9d00"/><circle cx="353" cy="268" r="2.8" fill="#d4c400"/><circle cx="360" cy="292" r="3.3" fill="#e79500"/><circle cx="333" cy="270" r="3.4" fill="#f8c200"/><circle cx="342" cy="297" r="2.6" fill="#f4ed00"/><circle cx="330" cy="278" r="2.2" fill="#eacd00"/><circle cx="314" cy="250" r="3.2" fill="#d49f00"/><circle cx="362" cy="273" r="1.7" fill="#f7ef00"/><circle cx="351" cy="275" r="2.3" fill="#ec9400"/><circle cx="332" cy="266" r="1.7" fill="#efec00"/><circle cx="335" cy="277" r="2.8" fill="#e1d100"/><circle cx="382" cy="287" r="1.9" fill="#f4ef00"/><circle cx="378" cy="256" r="2.6" fill="#efeb00"/><circle cx="320" cy="257" r="2.5" fill="#f0d400"/><circle cx="320" cy="256" r="2.2" fill="#ebd000"/><circle cx="322" cy="267" r="1.9" fill="#d4ce00"/><circle cx="343" cy="292" r="2.3" fill="#f89a00"/><circle cx="351" cy="287" r="2.5" fill="#f0df00"/><circle cx="328" cy="278" r="2.5" fill="#fdfd00"/><circle cx="322" cy="258" r="3.0" fill="#f9a800"/><circle cx="347" cy="209" r="1.7" fill="#ead400"/><circle cx="321" cy="240" r="1.8" fill="#ece500"/><circle cx="334" cy="237" r="3.0" fill="#eed000"/><circle cx="344" cy="277" r="3.2" fill="#edaf00"/><circle cx="364" cy="285" r="3.2" fill="#e5b900"/><circle cx="363" cy="276" r="3.1" fill="#ef9400"/><circle cx="362" cy="281" r="2.8" fill="#ebcc00"/><circle cx="338" cy="240" r="3.0" fill="#efd100"/><circle cx="354" cy="250" r="1.9" fill="#dfac00"/><circle cx="347" cy="254" r="3.3" fill="#ec9500"/><circle cx="334" cy="268" r="2.8" fill="#dad700"/><circle cx="342" cy="288" r="3.3" fill="#f0ee00"/><circle cx="353" cy="267" r="3.1" fill="#ea9600"/><circle cx="349" cy="262" r="1.7" fill="#f5ed00"/><circle cx="367" cy="247" r="2.1" fill="#e0d100"/><circle cx="338" cy="256" r="2.6" fill="#d5bb00"/><circle cx="355" cy="293" r="2.3" fill="#f3a800"/><circle cx="360" cy="269" r="2.6" fill="#edd500"/><circle cx="331" cy="281" r="2.7" fill="#ed9300"/><circle cx="341" cy="302" r="2.0" fill="#fdf200"/><circle cx="338" cy="268" r="2.1" fill="#f1d500"/><circle cx="349" cy="270" r="3.0" fill="#fade00"/><circle cx="335" cy="284" r="2.4" fill="#d7cb00"/><circle cx="355" cy="229" r="2.2" fill="#d3c500"/><circle cx="351" cy="260" r="2.1" fill="#e8c800"/><circle cx="311" cy="247" r="2.4" fill="#f19d00"/><circle cx="331" cy="269" r="2.5" fill="#d7c000"/><circle cx="320" cy="262" r="2.5" fill="#ec9c00"/><circle cx="330" cy="259" r="3.1" fill="#e7d100"/><circle cx="332" cy="278" r="3.3" fill="#ee9e00"/><circle cx="361" cy="273" r="3.4" fill="#f4d800"/><circle cx="340" cy="264" r="3.1" fill="#d58700"/><circle cx="318" cy="234" r="2.6" fill="#ebdd00"/><circle cx="339" cy="296" r="3.3" fill="#fca800"/><circle cx="320" cy="238" r="2.3" fill="#dea400"/><circle cx="350" cy="265" r="3.3" fill="#ded800"/><circle cx="327" cy="273" r="2.2" fill="#ef9e00"/><circle cx="344" cy="278" r="3.3" fill="#f3d500"/><circle cx="381" cy="272" r="2.8" fill="#f1b800"/><circle cx="348" cy="279" r="2.1" fill="#e4df00"/><circle cx="336" cy="250" r="2.6" fill="#dfd800"/><circle cx="340" cy="214" r="2.6" fill="#eab500"/><circle cx="342" cy="286" r="3.3" fill="#fadd00"/><circle cx="362" cy="254" r="2.6" fill="#dbc500"/><circle cx="323" cy="265" r="2.9" fill="#f4e900"/><circle cx="365" cy="293" r="2.6" fill="#e6d900"/><circle cx="335" cy="264" r="1.9" fill="#fee500"/><circle cx="321" cy="249" r="2.1" fill="#e98a00"/><circle cx="324" cy="229" r="3.0" fill="#e5e100"/><circle cx="350" cy="283" r="2.8" fill="#e2cc00"/><circle cx="332" cy="281" r="2.3" fill="#f3f200"/><circle cx="390" cy="272" r="2.9" fill="#dfd300"/><circle cx="401" cy="291" r="3.4" fill="#ded000"/><circle cx="371" cy="242" r="3.2" fill="#e0e000"/><circle cx="336" cy="227" r="2.5" fill="#d9d500"/><circle cx="335" cy="249" r="1.7" fill="#e6e000"/><circle cx="345" cy="241" r="3.2" fill="#edde00"/><circle cx="322" cy="259" r="2.0" fill="#e1c800"/><circle cx="371" cy="285" r="1.9" fill="#d1bf00"/><circle cx="317" cy="236" r="2.3" fill="#fefb00"/><circle cx="336" cy="271" r="2.4" fill="#dfd700"/><circle cx="353" cy="268" r="2.2" fill="#dbc700"/><circle cx="336" cy="261" r="1.8" fill="#ecd900"/><circle cx="371" cy="275" r="3.3" fill="#fca400"/><circle cx="380" cy="282" r="2.1" fill="#e9e000"/><circle cx="323" cy="252" r="2.1" fill="#d3cb00"/><circle cx="338" cy="295" r="2.3" fill="#fdfa00"/><circle cx="317" cy="227" r="3.2" fill="#e4b400"/><circle cx="371" cy="292" r="1.7" fill="#d4a700"/><circle cx="375" cy="235" r="3.0" fill="#d8d800"/><circle cx="328" cy="259" r="2.7" fill="#e1d600"/><circle cx="324" cy="262" r="2.8" fill="#ddd100"/><circle cx="316" cy="266" r="2.8" fill="#d79c00"/><circle cx="351" cy="299" r="2.8" fill="#dda200"/><circle cx="375" cy="275" r="2.3" fill="#e1dc00"/><circle cx="348" cy="260" r="1.8" fill="#d8d600"/><circle cx="355" cy="296" r="1.7" fill="#dcc700"/><circle cx="313" cy="250" r="2.4" fill="#dc9700"/><circle cx="385" cy="250" r="3.2" fill="#f6e700"/><circle cx="384" cy="282" r="3.2" fill="#de8800"/><circle cx="333" cy="215" r="3.4" fill="#f4f100"/><circle cx="305" cy="254" r="2.2" fill="#ef9200"/><circle cx="370" cy="258" r="3.3" fill="#d7c800"/><circle cx="363" cy="244" r="1.7" fill="#f29600"/><circle cx="322" cy="256" r="2.7" fill="#d6d300"/><circle cx="334" cy="284" r="2.8" fill="#f5f500"/><circle cx="331" cy="253" r="2.8" fill="#fce600"/><circle cx="347" cy="293" r="2.0" fill="#f9b200"/><circle cx="348" cy="260" r="3.2" fill="#f8a800"/><circle cx="312" cy="248" r="2.0" fill="#e6db00"/><circle cx="374" cy="289" r="2.6" fill="#f7a800"/><circle cx="346" cy="260" r="2.0" fill="#eded00"/><circle cx="304" cy="248" r="2.1" fill="#e4ba00"/><circle cx="341" cy="305" r="3.2" fill="#d5d200"/><circle cx="333" cy="283" r="1.6" fill="#d59a00"/><circle cx="339" cy="258" r="2.9" fill="#fbca00"/><circle cx="398" cy="280" r="2.4" fill="#d6cd00"/><circle cx="351" cy="275" r="2.0" fill="#f7b400"/><circle cx="351" cy="294" r="3.0" fill="#fab100"/><circle cx="355" cy="243" r="2.5" fill="#f7e600"/><circle cx="341" cy="256" r="2.4" fill="#fca300"/><circle cx="307" cy="258" r="2.4" fill="#d99f00"/><circle cx="341" cy="288" r="3.0" fill="#dec000"/><circle cx="338" cy="242" r="2.0" fill="#f8c800"/><circle cx="339" cy="290" r="3.2" fill="#e5cb00"/><circle cx="376" cy="260" r="2.8" fill="#d57f00"/><circle cx="401" cy="294" r="2.2" fill="#e8a200"/><circle cx="375" cy="235" r="1.9" fill="#e3e300"/><circle cx="334" cy="265" r="2.5" fill="#e4aa00"/><circle cx="361" cy="296" r="2.5" fill="#e98d00"/><circle cx="327" cy="260" r="2.4" fill="#dc8b00"/><circle cx="347" cy="237" r="3.0" fill="#d2b900"/><circle cx="326" cy="255" r="2.1" fill="#d58900"/><circle cx="318" cy="239" r="2.7" fill="#d9d900"/><circle cx="319" cy="263" r="1.9" fill="#eade00"/><circle cx="399" cy="297" r="3.0" fill="#e1cd00"/><circle cx="336" cy="271" r="3.4" fill="#e88800"/><circle cx="314" cy="245" r="2.4" fill="#f1ab00"/><circle cx="343" cy="233" r="3.2" fill="#f2d400"/><circle cx="362" cy="259" r="2.6" fill="#e69f00"/><circle cx="398" cy="291" r="1.9" fill="#fcf900"/><circle cx="304" cy="249" r="2.0" fill="#eedf00"/><circle cx="375" cy="287" r="2.7" fill="#e99300"/><circle cx="332" cy="276" r="1.7" fill="#e3cb00"/><circle cx="315" cy="233" r="3.0" fill="#f2b000"/><circle cx="317" cy="263" r="2.7" fill="#f1ed00"/><circle cx="302" cy="257" r="1.6" fill="#e89800"/><circle cx="303" cy="254" r="1.9" fill="#e9cd00"/><circle cx="362" cy="247" r="2.0" fill="#eecf00"/><circle cx="320" cy="219" r="2.8" fill="#e6b800"/><circle cx="336" cy="272" r="2.2" fill="#eab600"/><circle cx="357" cy="276" r="3.1" fill="#d4d200"/><circle cx="353" cy="258" r="1.9" fill="#d3cd00"/><circle cx="364" cy="235" r="2.7" fill="#f0ab00"/><circle cx="361" cy="220" r="1.7" fill="#e68800"/><circle cx="317" cy="211" r="2.9" fill="#fa9500"/><circle cx="302" cy="257" r="1.8" fill="#e7cd00"/><circle cx="330" cy="224" r="1.8" fill="#e99800"/><circle cx="341" cy="289" r="2.3" fill="#f9de00"/><circle cx="350" cy="256" r="3.2" fill="#fca800"/><circle cx="346" cy="277" r="2.6" fill="#e9e700"/><circle cx="378" cy="299" r="1.8" fill="#f7da00"/><circle cx="328" cy="241" r="2.6" fill="#ecb100"/><circle cx="328" cy="245" r="2.5" fill="#e8d500"/><circle cx="353" cy="290" r="2.5" fill="#e6c800"/><circle cx="368" cy="259" r="1.7" fill="#dec700"/><circle cx="339" cy="294" r="1.8" fill="#fbb600"/><circle cx="349" cy="302" r="2.5" fill="#d3bc00"/><circle cx="350" cy="300" r="2.4" fill="#f2a000"/><circle cx="310" cy="227" r="3.2" fill="#35e200"/><circle cx="291" cy="245" r="3.2" fill="#ccf900"/><circle cx="259" cy="243" r="3.3" fill="#1bc600"/><circle cx="288" cy="246" r="2.3" fill="#9fd900"/><circle cx="290" cy="250" r="2.7" fill="#62e600"/><circle cx="255" cy="236" r="2.7" fill="#fce100"/><circle cx="278" cy="253" r="3.2" fill="#f9f200"/><circle cx="281" cy="236" r="3.1" fill="#37c600"/><circle cx="253" cy="215" r="3.1" fill="#a2d500"/><circle cx="288" cy="250" r="1.8" fill="#efe700"/><circle cx="297" cy="255" r="2.7" fill="#ea8100"/><circle cx="274" cy="244" r="3.2" fill="#4ad000"/><circle cx="264" cy="252" r="2.6" fill="#eac500"/><circle cx="286" cy="235" r="1.8" fill="#d8ca00"/><circle cx="289" cy="231" r="2.2" fill="#f0d200"/><circle cx="288" cy="250" r="2.4" fill="#52c800"/><circle cx="274" cy="246" r="2.7" fill="#91f100"/><circle cx="288" cy="239" r="2.2" fill="#bbe000"/><circle cx="285" cy="249" r="2.3" fill="#68e400"/><circle cx="294" cy="253" r="3.3" fill="#3dde00"/><circle cx="281" cy="239" r="3.0" fill="#e5e400"/><circle cx="294" cy="246" r="3.2" fill="#f4ea00"/><circle cx="292" cy="214" r="3.3" fill="#1ac900"/><circle cx="296" cy="243" r="2.8" fill="#e6e400"/><circle cx="295" cy="255" r="2.6" fill="#f06700"/><circle cx="284" cy="250" r="3.1" fill="#e9cd00"/><circle cx="291" cy="254" r="3.4" fill="#dcc700"/><circle cx="251" cy="220" r="2.5" fill="#ebdc00"/><circle cx="263" cy="240" r="1.8" fill="#b1fc00"/><circle cx="266" cy="228" r="3.3" fill="#bbde00"/><circle cx="277" cy="252" r="1.9" fill="#d7b600"/><circle cx="292" cy="248" r="2.2" fill="#e0ca00"/><circle cx="273" cy="250" r="3.1" fill="#b5f400"/><circle cx="300" cy="247" r="2.9" fill="#f9e500"/><circle cx="263" cy="216" r="2.9" fill="#d8c600"/><circle cx="270" cy="238" r="2.9" fill="#44e800"/><circle cx="286" cy="242" r="2.1" fill="#43c500"/><circle cx="297" cy="253" r="2.4" fill="#49ed00"/><circle cx="267" cy="242" r="3.1" fill="#20e100"/><circle cx="304" cy="248" r="2.1" fill="#d2bf00"/><circle cx="297" cy="250" r="2.1" fill="#dabf00"/><circle cx="310" cy="221" r="3.0" fill="#ebd700"/><circle cx="302" cy="253" r="3.0" fill="#45ec00"/><circle cx="265" cy="216" r="2.8" fill="#d9d400"/><circle cx="293" cy="242" r="2.0" fill="#30e300"/><circle cx="259" cy="243" r="2.2" fill="#c1eb00"/><circle cx="266" cy="253" r="2.2" fill="#a9d700"/><circle cx="271" cy="249" r="2.0" fill="#47c500"/><circle cx="305" cy="244" r="2.9" fill="#d5c000"/><circle cx="274" cy="215" r="3.1" fill="#9bed00"/><circle cx="253" cy="236" r="2.3" fill="#b9e400"/><circle cx="287" cy="233" r="2.9" fill="#dd9200"/><circle cx="250" cy="236" r="3.3" fill="#41e700"/><circle cx="291" cy="225" r="1.6" fill="#e7e400"/><circle cx="281" cy="221" r="2.2" fill="#9bd200"/><circle cx="280" cy="243" r="1.9" fill="#f1e200"/><circle cx="300" cy="243" r="2.0" fill="#f5e700"/><circle cx="296" cy="255" r="3.2" fill="#eecb00"/><circle cx="298" cy="251" r="3.0" fill="#c8f900"/><circle cx="292" cy="214" r="2.7" fill="#48cb00"/><circle cx="278" cy="249" r="3.3" fill="#4eeb00"/><circle cx="271" cy="251" r="3.2" fill="#b5e900"/><circle cx="261" cy="240" r="2.7" fill="#a3d400"/><circle cx="271" cy="239" r="3.3" fill="#8fe200"/><circle cx="300" cy="245" r="1.9" fill="#34ed00"/><circle cx="252" cy="231" r="3.0" fill="#b5e800"/><circle cx="288" cy="249" r="1.7" fill="#fd6100"/><circle cx="256" cy="249" r="2.7" fill="#8fe200"/><circle cx="260" cy="241" r="2.7" fill="#eddd00"/><circle cx="301" cy="250" r="3.3" fill="#fdf600"/><circle cx="197" cy="269" r="2.9" fill="#99e600"/><circle cx="230" cy="264" r="2.1" fill="#5ae800"/><circle cx="213" cy="251" r="3.1" fill="#d48c00"/><circle cx="251" cy="246" r="2.9" fill="#aef400"/><circle cx="220" cy="266" r="1.9" fill="#91d800"/><circle cx="222" cy="272" r="3.2" fill="#4dd500"/><circle cx="212" cy="278" r="2.6" fill="#bceb00"/><circle cx="250" cy="256" r="1.9" fill="#96f200"/><circle cx="230" cy="265" r="2.1" fill="#b0fd00"/><circle cx="242" cy="244" r="2.3" fill="#ee9100"/><circle cx="233" cy="269" r="1.8" fill="#46eb00"/><circle cx="240" cy="265" r="2.5" fill="#8fd700"/><circle cx="221" cy="286" r="2.1" fill="#e8d400"/><circle cx="243" cy="254" r="3.2" fill="#d7c000"/><circle cx="218" cy="290" r="1.8" fill="#35d800"/><circle cx="226" cy="257" r="1.7" fill="#efe100"/><circle cx="236" cy="265" r="3.1" fill="#e93e00"/><circle cx="237" cy="261" r="2.3" fill="#adf300"/><circle cx="208" cy="270" r="1.7" fill="#eccb00"/><circle cx="224" cy="279" r="2.2" fill="#b3e800"/><circle cx="218" cy="263" r="2.7" fill="#d8fb00"/><circle cx="209" cy="276" r="3.1" fill="#21e200"/><circle cx="235" cy="267" r="2.4" fill="#b5eb00"/><circle cx="205" cy="278" r="2.1" fill="#e38900"/><circle cx="214" cy="293" r="1.7" fill="#e55000"/><circle cx="234" cy="255" r="2.6" fill="#d9d900"/><circle cx="235" cy="268" r="2.9" fill="#f3ce00"/><circle cx="231" cy="264" r="2.0" fill="#d2b100"/><circle cx="247" cy="260" r="2.9" fill="#4acd00"/><circle cx="255" cy="255" r="3.2" fill="#24e300"/><circle cx="251" cy="241" r="2.5" fill="#f3cd00"/><circle cx="206" cy="290" r="2.5" fill="#1ee600"/><circle cx="229" cy="246" r="1.8" fill="#d1bb00"/><circle cx="221" cy="260" r="1.7" fill="#feeb00"/><circle cx="254" cy="256" r="3.3" fill="#dfc100"/><circle cx="214" cy="289" r="1.9" fill="#1def00"/><circle cx="250" cy="246" r="2.9" fill="#87d200"/><circle cx="235" cy="256" r="2.3" fill="#56cb00"/><circle cx="246" cy="256" r="2.8" fill="#d1f300"/><circle cx="219" cy="283" r="3.1" fill="#fd9700"/><circle cx="207" cy="298" r="2.3" fill="#37dc00"/><circle cx="208" cy="320" r="3.1" fill="#fbe400"/><circle cx="220" cy="346" r="2.5" fill="#ead100"/><circle cx="209" cy="356" r="2.8" fill="#c4ed00"/><circle cx="210" cy="309" r="3.1" fill="#f3ae00"/><circle cx="215" cy="298" r="3.1" fill="#e1c100"/><circle cx="210" cy="351" r="2.0" fill="#3ecf00"/><circle cx="213" cy="354" r="2.0" fill="#21ed00"/><circle cx="217" cy="343" r="3.0" fill="#82d900"/><circle cx="221" cy="288" r="2.1" fill="#f23f00"/><circle cx="202" cy="331" r="1.8" fill="#ace600"/><circle cx="201" cy="330" r="1.9" fill="#db8b00"/><circle cx="215" cy="333" r="2.9" fill="#30ef00"/><circle cx="210" cy="317" r="3.1" fill="#5cd200"/><circle cx="201" cy="295" r="3.2" fill="#24ee00"/><circle cx="206" cy="282" r="1.7" fill="#a0dd00"/><circle cx="218" cy="299" r="2.3" fill="#eedd00"/><circle cx="207" cy="320" r="1.7" fill="#ef3f00"/><circle cx="200" cy="307" r="3.1" fill="#23e600"/><circle cx="210" cy="304" r="2.9" fill="#1feb00"/><circle cx="204" cy="317" r="2.6" fill="#d88e00"/><circle cx="223" cy="351" r="2.5" fill="#37c400"/><circle cx="217" cy="296" r="1.9" fill="#4ad200"/><circle cx="218" cy="350" r="1.9" fill="#eedd00"/><circle cx="205" cy="323" r="2.0" fill="#5ad100"/><circle cx="211" cy="352" r="2.5" fill="#efe700"/><circle cx="213" cy="301" r="2.3" fill="#efdb00"/><circle cx="217" cy="294" r="1.9" fill="#fade00"/><circle cx="211" cy="306" r="3.2" fill="#d5b900"/><circle cx="210" cy="331" r="2.6" fill="#3fc600"/><circle cx="222" cy="354" r="1.9" fill="#1ec800"/><circle cx="207" cy="313" r="2.1" fill="#91eb00"/><circle cx="214" cy="332" r="2.5" fill="#51e000"/><circle cx="207" cy="334" r="2.4" fill="#59da00"/><circle cx="211" cy="314" r="2.3" fill="#e6c800"/><circle cx="212" cy="351" r="2.8" fill="#ef9900"/><circle cx="219" cy="352" r="2.3" fill="#e9e200"/><circle cx="206" cy="327" r="2.6" fill="#d8fa00"/><circle cx="213" cy="336" r="2.0" fill="#4be400"/><circle cx="215" cy="296" r="2.3" fill="#d7c400"/><circle cx="198" cy="334" r="2.2" fill="#f2d300"/><circle cx="215" cy="337" r="2.5" fill="#53da00"/><circle cx="195" cy="316" r="1.8" fill="#d4d400"/><circle cx="190" cy="320" r="2.9" fill="#47e800"/><circle cx="215" cy="341" r="1.9" fill="#eee400"/><circle cx="216" cy="316" r="3.1" fill="#a3e200"/><circle cx="212" cy="328" r="3.3" fill="#c1e600"/><circle cx="206" cy="303" r="1.9" fill="#41ea00"/><circle cx="214" cy="314" r="2.9" fill="#dbd000"/><circle cx="202" cy="338" r="2.3" fill="#dad600"/><circle cx="205" cy="284" r="2.1" fill="#eeaf00"/><circle cx="196" cy="354" r="1.9" fill="#59ea00"/><circle cx="215" cy="320" r="2.2" fill="#2cd600"/><circle cx="212" cy="351" r="2.7" fill="#5fe500"/><circle cx="205" cy="285" r="3.3" fill="#7ed200"/><circle cx="234" cy="376" r="2.1" fill="#21ec00"/><circle cx="222" cy="380" r="1.7" fill="#eadb00"/><circle cx="210" cy="377" r="2.8" fill="#d2c700"/><circle cx="224" cy="394" r="2.7" fill="#a5d200"/><circle cx="229" cy="380" r="2.7" fill="#4ad100"/><circle cx="228" cy="384" r="3.1" fill="#a1d300"/><circle cx="221" cy="367" r="2.9" fill="#ddd500"/><circle cx="246" cy="378" r="2.5" fill="#2ace00"/><circle cx="222" cy="382" r="2.9" fill="#40d200"/><circle cx="219" cy="365" r="2.2" fill="#bfef00"/><circle cx="236" cy="400" r="3.0" fill="#efea00"/><circle cx="220" cy="366" r="2.9" fill="#28cb00"/><circle cx="234" cy="383" r="2.6" fill="#ed8500"/><circle cx="231" cy="371" r="3.1" fill="#dcbe00"/><circle cx="251" cy="393" r="3.2" fill="#21cb00"/><circle cx="222" cy="376" r="3.4" fill="#dcd500"/><circle cx="230" cy="370" r="2.2" fill="#d9c400"/><circle cx="213" cy="374" r="2.5" fill="#1dca00"/><circle cx="238" cy="392" r="2.1" fill="#f2f000"/><circle cx="254" cy="386" r="2.2" fill="#8de900"/><circle cx="215" cy="363" r="2.3" fill="#53e200"/><circle cx="214" cy="366" r="2.1" fill="#30ee00"/><circle cx="234" cy="391" r="3.4" fill="#aaf700"/><circle cx="243" cy="390" r="2.3" fill="#f1d900"/><circle cx="220" cy="362" r="2.9" fill="#25d900"/><circle cx="291" cy="387" r="1.8" fill="#efe700"/><circle cx="289" cy="390" r="1.6" fill="#58da00"/><circle cx="298" cy="387" r="2.5" fill="#d9fd00"/><circle cx="275" cy="396" r="1.6" fill="#fbab00"/><circle cx="259" cy="393" r="2.7" fill="#3ae000"/><circle cx="291" cy="386" r="2.8" fill="#f84c00"/><circle cx="279" cy="395" r="1.7" fill="#fee500"/><circle cx="281" cy="391" r="2.2" fill="#4de200"/><circle cx="297" cy="386" r="2.6" fill="#f6ee00"/><circle cx="294" cy="392" r="2.9" fill="#62e800"/><circle cx="286" cy="391" r="2.7" fill="#d9c800"/><circle cx="283" cy="390" r="2.5" fill="#f2f200"/><circle cx="288" cy="390" r="3.3" fill="#ede100"/><circle cx="285" cy="391" r="2.3" fill="#f7e100"/><circle cx="273" cy="388" r="2.0" fill="#c0e400"/><circle cx="302" cy="394" r="1.6" fill="#8fec00"/><circle cx="269" cy="393" r="1.8" fill="#de7c00"/><circle cx="267" cy="389" r="3.3" fill="#d7c400"/><circle cx="264" cy="389" r="3.0" fill="#f2da00"/><circle cx="290" cy="389" r="1.8" fill="#e6dc00"/><circle cx="288" cy="386" r="3.2" fill="#f2d700"/><circle cx="287" cy="395" r="2.5" fill="#dcd000"/><circle cx="278" cy="397" r="2.0" fill="#f5e000"/><circle cx="293" cy="398" r="1.8" fill="#d1b400"/><circle cx="262" cy="388" r="3.3" fill="#bde200"/><circle cx="348" cy="368" r="2.9" fill="#b4d500"/><circle cx="337" cy="395" r="3.0" fill="#8de100"/><circle cx="335" cy="364" r="2.5" fill="#47e200"/><circle cx="314" cy="392" r="2.6" fill="#e9d800"/><circle cx="316" cy="387" r="2.5" fill="#e28200"/><circle cx="311" cy="380" r="2.4" fill="#ddcd00"/><circle cx="321" cy="386" r="2.3" fill="#96d400"/><circle cx="329" cy="369" r="1.7" fill="#30ca00"/><circle cx="309" cy="394" r="2.8" fill="#9be300"/><circle cx="338" cy="347" r="2.3" fill="#efd000"/><circle cx="343" cy="356" r="3.4" fill="#35da00"/><circle cx="327" cy="375" r="1.8" fill="#d7c700"/><circle cx="313" cy="383" r="2.1" fill="#e2e100"/><circle cx="308" cy="385" r="2.5" fill="#f7dd00"/><circle cx="357" cy="354" r="2.0" fill="#fa5f00"/><circle cx="329" cy="374" r="3.4" fill="#9eee00"/><circle cx="346" cy="357" r="2.8" fill="#c1e400"/><circle cx="314" cy="380" r="2.4" fill="#90db00"/><circle cx="342" cy="362" r="2.1" fill="#27eb00"/><circle cx="333" cy="375" r="2.3" fill="#edc800"/><circle cx="365" cy="347" r="3.2" fill="#35e300"/><circle cx="358" cy="303" r="2.7" fill="#41ed00"/><circle cx="340" cy="300" r="3.3" fill="#d8d300"/><circle cx="352" cy="345" r="2.7" fill="#e9cb00"/><circle cx="345" cy="335" r="2.5" fill="#e9de00"/><circle cx="368" cy="292" r="3.1" fill="#89df00"/><circle cx="376" cy="342" r="3.1" fill="#e69800"/><circle cx="359" cy="318" r="1.9" fill="#e6d100"/><circle cx="344" cy="338" r="2.1" fill="#d4b700"/><circle cx="346" cy="298" r="2.9" fill="#e8e800"/><circle cx="365" cy="306" r="2.6" fill="#46ec00"/><circle cx="350" cy="311" r="3.2" fill="#1fcf00"/><circle cx="352" cy="303" r="2.5" fill="#d2b900"/><circle cx="354" cy="320" r="3.1" fill="#dbcf00"/><circle cx="355" cy="299" r="2.0" fill="#9eef00"/><circle cx="356" cy="306" r="2.2" fill="#d58e00"/><circle cx="354" cy="345" r="3.0" fill="#e19800"/><circle cx="356" cy="305" r="2.5" fill="#e0c200"/><circle cx="356" cy="304" r="1.9" fill="#a0eb00"/><circle cx="360" cy="310" r="2.3" fill="#f3ce00"/><circle cx="345" cy="326" r="2.6" fill="#d54400"/><circle cx="354" cy="324" r="3.3" fill="#b9eb00"/><circle cx="351" cy="321" r="1.7" fill="#fe5800"/><circle cx="353" cy="322" r="3.0" fill="#c1eb00"/><circle cx="354" cy="342" r="2.1" fill="#e17c00"/><circle cx="342" cy="323" r="3.4" fill="#d5c900"/><circle cx="342" cy="297" r="3.2" fill="#f6f200"/><circle cx="373" cy="287" r="2.6" fill="#b3fb00"/><circle cx="346" cy="342" r="2.3" fill="#fcdd00"/><circle cx="373" cy="309" r="1.6" fill="#dcd500"/><circle cx="351" cy="345" r="2.6" fill="#32e700"/><circle cx="345" cy="323" r="3.0" fill="#e14d00"/><circle cx="342" cy="304" r="1.7" fill="#42e400"/><circle cx="363" cy="339" r="2.0" fill="#24c600"/><circle cx="353" cy="292" r="1.6" fill="#f8db00"/><circle cx="184" cy="116" r="4.4" fill="#fbf800"/><circle cx="190" cy="121" r="3.7" fill="#e79200"/><circle cx="188" cy="116" r="4.2" fill="#f49100"/><circle cx="185" cy="117" r="4.1" fill="#e5aa00"/><circle cx="187" cy="114" r="3.3" fill="#f9d800"/><circle cx="186" cy="119" r="3.3" fill="#f2e200"/><circle cx="297" cy="177" r="3.4" fill="#facd00"/><circle cx="298" cy="177" r="3.3" fill="#f3d600"/><circle cx="300" cy="180" r="3.4" fill="#fbd900"/><circle cx="301" cy="179" r="4.4" fill="#f0e600"/><circle cx="297" cy="178" r="4.0" fill="#eddf00"/><circle cx="376" cy="251" r="2.2" fill="#bfaa00"/><circle cx="315" cy="263" r="3.2" fill="#cbc900"/><circle cx="339" cy="249" r="3.2" fill="#fef500"/><circle cx="384" cy="258" r="3.8" fill="#ccb100"/><circle cx="306" cy="280" r="3.2" fill="#ccb700"/><circle cx="338" cy="289" r="2.6" fill="#c3ac00"/><circle cx="348" cy="283" r="2.0" fill="#c7c200"/><circle cx="305" cy="240" r="2.2" fill="#d3bd00"/><circle cx="344" cy="282" r="3.3" fill="#cbcb00"/><circle cx="383" cy="247" r="3.1" fill="#c6af00"/><circle cx="323" cy="257" r="3.3" fill="#f3eb00"/><circle cx="325" cy="249" r="2.3" fill="#c77800"/><circle cx="308" cy="261" r="3.1" fill="#f9e400"/><circle cx="341" cy="261" r="2.5" fill="#c2a900"/><circle cx="335" cy="280" r="3.8" fill="#f8dd00"/><circle cx="372" cy="255" r="3.2" fill="#e4cc00"/><circle cx="362" cy="249" r="2.6" fill="#c0a700"/><circle cx="323" cy="242" r="3.3" fill="#c4ac00"/><circle cx="306" cy="250" r="3.6" fill="#c79800"/><circle cx="360" cy="254" r="2.2" fill="#f6d800"/><circle cx="306" cy="274" r="3.6" fill="#d7ce00"/><circle cx="348" cy="259" r="2.2" fill="#f7e400"/><circle cx="337" cy="240" r="3.3" fill="#dcd600"/><circle cx="314" cy="252" r="2.9" fill="#ddc300"/><circle cx="344" cy="286" r="2.9" fill="#deb500"/><circle cx="357" cy="248" r="2.3" fill="#ca9100"/><circle cx="367" cy="243" r="2.8" fill="#d99000"/><circle cx="340" cy="284" r="3.4" fill="#f79d00"/><circle cx="318" cy="274" r="2.6" fill="#d5d200"/><circle cx="345" cy="255" r="2.1" fill="#caa000"/><circle cx="323" cy="262" r="2.4" fill="#dedc00"/><circle cx="323" cy="290" r="3.8" fill="#f4d600"/><circle cx="335" cy="282" r="3.2" fill="#d2c800"/><circle cx="341" cy="255" r="2.2" fill="#f0d000"/><circle cx="336" cy="289" r="3.4" fill="#db8700"/><circle cx="318" cy="239" r="3.5" fill="#cb9a00"/><circle cx="348" cy="246" r="3.3" fill="#ecaa00"/><circle cx="348" cy="271" r="2.6" fill="#dfa000"/><circle cx="353" cy="258" r="3.5" fill="#c47e00"/><circle cx="372" cy="246" r="2.2" fill="#d7b900"/><circle cx="299" cy="242" r="3.4" fill="#d49400"/><circle cx="350" cy="257" r="3.6" fill="#edc200"/><circle cx="351" cy="296" r="3.8" fill="#fdb600"/><circle cx="356" cy="252" r="3.3" fill="#c4c200"/><circle cx="314" cy="266" r="3.4" fill="#cdb100"/><circle cx="356" cy="244" r="2.1" fill="#ddc500"/><circle cx="387" cy="258" r="2.9" fill="#fbaf00"/><circle cx="286" cy="260" r="2.2" fill="#e2e100"/><circle cx="354" cy="238" r="2.3" fill="#cfcf00"/><circle cx="314" cy="219" r="3.6" fill="#f5a200"/><circle cx="366" cy="254" r="3.0" fill="#c6c500"/><circle cx="361" cy="259" r="3.0" fill="#e1d900"/><circle cx="351" cy="257" r="2.2" fill="#dcdb00"/><circle cx="375" cy="243" r="2.7" fill="#c7c400"/><circle cx="303" cy="271" r="3.6" fill="#c6ba00"/><circle cx="335" cy="260" r="2.5" fill="#c17200"/><circle cx="342" cy="260" r="2.5" fill="#e69500"/><circle cx="368" cy="276" r="2.2" fill="#eddb00"/><circle cx="326" cy="223" r="2.0" fill="#e0b200"/><circle cx="348" cy="268" r="3.1" fill="#cd9300"/><circle cx="312" cy="252" r="2.2" fill="#f2b400"/><circle cx="356" cy="249" r="2.6" fill="#f09900"/><circle cx="343" cy="266" r="3.6" fill="#cfb700"/><circle cx="374" cy="277" r="2.8" fill="#cc7e00"/><circle cx="313" cy="235" r="2.2" fill="#f9ec00"/><circle cx="351" cy="256" r="2.9" fill="#feb500"/><circle cx="360" cy="230" r="2.9" fill="#e6e600"/><circle cx="361" cy="246" r="2.3" fill="#f4dd00"/><circle cx="390" cy="255" r="2.2" fill="#c4bf00"/><circle cx="358" cy="268" r="2.8" fill="#e5d100"/><circle cx="404" cy="345" r="3.0" fill="#119d00"/><circle cx="388" cy="373" r="2.6" fill="#146800"/><circle cx="403" cy="323" r="2.8" fill="#9af500"/><circle cx="393" cy="338" r="2.6" fill="#1a8d00"/><circle cx="403" cy="327" r="2.9" fill="#3e7a00"/><circle cx="393" cy="363" r="2.3" fill="#07a400"/><circle cx="396" cy="336" r="2.3" fill="#00ed00"/><circle cx="400" cy="347" r="3.1" fill="#0aca00"/><circle cx="390" cy="334" r="2.3" fill="#558600"/><circle cx="400" cy="355" r="2.6" fill="#05d700"/><circle cx="396" cy="361" r="1.9" fill="#096700"/><circle cx="396" cy="357" r="2.3" fill="#19f900"/><circle cx="381" cy="319" r="2.7" fill="#40ba00"/><circle cx="390" cy="304" r="2.3" fill="#58ae00"/><circle cx="399" cy="361" r="2.7" fill="#29b100"/><circle cx="371" cy="388" r="2.0" fill="#17c500"/><circle cx="361" cy="367" r="2.7" fill="#00d900"/><circle cx="353" cy="360" r="2.2" fill="#02ee00"/><circle cx="375" cy="367" r="3.2" fill="#4ddd00"/><circle cx="380" cy="397" r="1.9" fill="#3aaf00"/><circle cx="402" cy="362" r="2.3" fill="#52bd00"/><circle cx="394" cy="387" r="2.3" fill="#019400"/><circle cx="385" cy="385" r="1.7" fill="#138400"/><circle cx="359" cy="364" r="2.8" fill="#07f700"/><circle cx="374" cy="360" r="1.7" fill="#6cc000"/><circle cx="366" cy="382" r="2.7" fill="#117800"/><circle cx="373" cy="384" r="3.1" fill="#26f100"/><circle cx="379" cy="369" r="1.6" fill="#095d00"/><circle cx="387" cy="375" r="2.0" fill="#4b7300"/><circle cx="358" cy="374" r="2.1" fill="#07e400"/><circle cx="383" cy="376" r="2.9" fill="#29d800"/><circle cx="347" cy="381" r="2.2" fill="#06c500"/><circle cx="391" cy="371" r="2.4" fill="#1b7700"/><circle cx="362" cy="355" r="2.3" fill="#0d6700"/><circle cx="356" cy="365" r="2.7" fill="#115a00"/><circle cx="360" cy="405" r="2.5" fill="#19d100"/><circle cx="18" cy="357" r="1.7" fill="#1b9800"/><circle cx="33" cy="362" r="2.2" fill="#36f500"/><circle cx="36" cy="361" r="2.9" fill="#0a8700"/><circle cx="46" cy="365" r="2.4" fill="#209d00"/><circle cx="12" cy="387" r="2.2" fill="#169e00"/><circle cx="15" cy="379" r="2.5" fill="#04da00"/><circle cx="31" cy="361" r="1.5" fill="#107e00"/><circle cx="21" cy="376" r="2.9" fill="#1ab900"/><circle cx="23" cy="364" r="1.6" fill="#219600"/><circle cx="44" cy="377" r="1.7" fill="#498b00"/><circle cx="27" cy="405" r="2.4" fill="#4f9b00"/><circle cx="27" cy="355" r="1.7" fill="#2ad400"/><circle cx="13" cy="329" r="2.2" fill="#649b00"/><circle cx="37" cy="372" r="1.7" fill="#1ac700"/><circle cx="-1" cy="367" r="2.9" fill="#18f200"/><circle cx="22" cy="384" r="2.6" fill="#0a8500"/><circle cx="11" cy="380" r="3.1" fill="#0fd500"/><circle cx="19" cy="383" r="3.1" fill="#386800"/><circle cx="-5" cy="376" r="2.0" fill="#0b8700"/><circle cx="24" cy="404" r="2.5" fill="#0aee00"/><circle cx="-5" cy="397" r="3.1" fill="#35e300"/><circle cx="10" cy="374" r="3.0" fill="#61cb00"/><circle cx="96" cy="195" r="3.0" fill="#f89400"/><circle cx="103" cy="189" r="2.4" fill="#a5e300"/><circle cx="148" cy="210" r="3.0" fill="#37ae00"/><circle cx="96" cy="213" r="3.0" fill="#a87c00"/><circle cx="92" cy="224" r="2.4" fill="#8bc100"/><circle cx="126" cy="205" r="1.9" fill="#e8cc00"/><circle cx="112" cy="205" r="2.7" fill="#d7cf00"/><circle cx="131" cy="210" r="2.5" fill="#87e400"/><circle cx="47" cy="213" r="1.7" fill="#1d7c00"/><circle cx="70" cy="207" r="3.1" fill="#a73400"/><circle cx="114" cy="205" r="2.3" fill="#288000"/><circle cx="119" cy="214" r="2.7" fill="#25c600"/></g>
<g id="d10"><circle cx="65" cy="118" r="3.5" fill="#11f509"/><circle cx="85" cy="92" r="3.3" fill="#0feb0c"/><circle cx="78" cy="75" r="3.8" fill="#02e10f"/><circle cx="121" cy="77" r="3.2" fill="#00dc07"/><circle cx="121" cy="83" r="2.4" fill="#00ee1a"/><circle cx="96" cy="80" r="3.6" fill="#18ed0e"/><circle cx="108" cy="84" r="3.2" fill="#05ef16"/><circle cx="117" cy="81" r="3.0" fill="#14d905"/><circle cx="60" cy="118" r="3.5" fill="#0ade0b"/><circle cx="69" cy="102" r="3.4" fill="#00f207"/><circle cx="64" cy="114" r="2.6" fill="#10da0f"/><circle cx="75" cy="78" r="3.7" fill="#11f811"/><circle cx="51" cy="109" r="2.6" fill="#09db15"/><circle cx="89" cy="90" r="2.4" fill="#15ea0d"/><circle cx="105" cy="85" r="3.7" fill="#1ce509"/><circle cx="119" cy="77" r="3.7" fill="#08de00"/><circle cx="60" cy="110" r="2.3" fill="#17d912"/><circle cx="127" cy="75" r="3.5" fill="#12e405"/><circle cx="61" cy="117" r="2.7" fill="#0af50b"/><circle cx="124" cy="87" r="2.7" fill="#23f11a"/><circle cx="125" cy="72" r="3.2" fill="#1fef01"/><circle cx="78" cy="93" r="3.4" fill="#09e608"/><circle cx="74" cy="98" r="3.7" fill="#00dc0f"/><circle cx="86" cy="79" r="3.2" fill="#07ec13"/><circle cx="100" cy="68" r="3.5" fill="#00fa17"/><circle cx="78" cy="95" r="3.5" fill="#05de13"/><circle cx="99" cy="84" r="2.5" fill="#05eb0d"/><circle cx="74" cy="101" r="3.2" fill="#00e10d"/><circle cx="56" cy="131" r="3.0" fill="#12e10f"/><circle cx="66" cy="170" r="3.8" fill="#0ae218"/><circle cx="58" cy="157" r="3.3" fill="#16ed0c"/><circle cx="51" cy="132" r="2.4" fill="#11e713"/><circle cx="58" cy="142" r="3.2" fill="#12db00"/><circle cx="59" cy="144" r="3.3" fill="#02fe03"/><circle cx="55" cy="167" r="2.6" fill="#16fe02"/><circle cx="62" cy="124" r="3.3" fill="#0cdc19"/><circle cx="52" cy="149" r="3.1" fill="#11fd14"/><circle cx="49" cy="151" r="3.7" fill="#0ff10b"/><circle cx="55" cy="136" r="2.6" fill="#02ea11"/><circle cx="58" cy="128" r="3.1" fill="#24fc15"/><circle cx="65" cy="166" r="2.6" fill="#16e61b"/><circle cx="56" cy="154" r="3.3" fill="#15f010"/><circle cx="56" cy="152" r="3.7" fill="#24f315"/><circle cx="58" cy="165" r="3.7" fill="#04ea0a"/><circle cx="58" cy="127" r="3.6" fill="#27f902"/><circle cx="62" cy="162" r="2.7" fill="#02ea0e"/><circle cx="61" cy="155" r="3.5" fill="#23fb0e"/><circle cx="54" cy="167" r="4.0" fill="#16e410"/><circle cx="59" cy="151" r="3.4" fill="#0bde09"/><circle cx="49" cy="132" r="2.4" fill="#01de11"/><circle cx="55" cy="133" r="3.3" fill="#23f018"/><circle cx="60" cy="135" r="2.5" fill="#1eea0e"/><circle cx="63" cy="181" r="2.4" fill="#12e509"/><circle cx="85" cy="202" r="2.4" fill="#0deb08"/><circle cx="100" cy="213" r="2.7" fill="#0be405"/><circle cx="83" cy="192" r="3.4" fill="#1ef415"/><circle cx="105" cy="199" r="2.9" fill="#17da19"/><circle cx="100" cy="197" r="2.4" fill="#19f607"/><circle cx="94" cy="203" r="3.2" fill="#06f010"/><circle cx="71" cy="177" r="3.2" fill="#0aeb16"/><circle cx="62" cy="175" r="3.4" fill="#0ee11a"/><circle cx="94" cy="207" r="3.5" fill="#00f904"/><circle cx="62" cy="180" r="2.9" fill="#17e116"/><circle cx="102" cy="202" r="3.8" fill="#07e70e"/><circle cx="72" cy="187" r="2.5" fill="#21f613"/><circle cx="100" cy="201" r="2.4" fill="#04f01a"/><circle cx="107" cy="198" r="2.9" fill="#15da04"/><circle cx="67" cy="180" r="3.5" fill="#1dda03"/><circle cx="94" cy="197" r="3.7" fill="#19da19"/><circle cx="66" cy="183" r="2.8" fill="#07e810"/><circle cx="76" cy="188" r="2.9" fill="#17fb0f"/><circle cx="83" cy="192" r="3.0" fill="#12e20f"/><circle cx="64" cy="175" r="2.7" fill="#11fc0d"/><circle cx="84" cy="204" r="3.7" fill="#18ed14"/><circle cx="109" cy="202" r="2.9" fill="#23ed11"/><circle cx="127" cy="202" r="3.1" fill="#19ec00"/><circle cx="113" cy="204" r="2.4" fill="#0cee0d"/><circle cx="114" cy="198" r="2.7" fill="#0df70e"/><circle cx="121" cy="200" r="3.0" fill="#01e013"/><circle cx="131" cy="190" r="2.9" fill="#19dd02"/><circle cx="132" cy="195" r="2.5" fill="#19ee17"/><circle cx="110" cy="199" r="3.5" fill="#0bd911"/><circle cx="193" cy="78" r="3.9" fill="#0bf205"/><circle cx="174" cy="85" r="2.9" fill="#1bfb00"/><circle cx="161" cy="88" r="2.9" fill="#20f905"/><circle cx="155" cy="93" r="3.5" fill="#1bf416"/><circle cx="170" cy="108" r="2.8" fill="#1df91a"/><circle cx="159" cy="101" r="2.5" fill="#0af019"/><circle cx="173" cy="88" r="3.8" fill="#0ae602"/><circle cx="193" cy="88" r="2.8" fill="#0bfe0c"/><circle cx="190" cy="85" r="2.9" fill="#19e215"/><circle cx="159" cy="100" r="3.2" fill="#0ae716"/><circle cx="186" cy="86" r="2.9" fill="#1fe619"/><circle cx="206" cy="77" r="3.9" fill="#1fd908"/><circle cx="200" cy="53" r="2.6" fill="#05fb08"/><circle cx="193" cy="59" r="4.0" fill="#1df31c"/><circle cx="184" cy="76" r="2.4" fill="#1edd0c"/><circle cx="157" cy="102" r="3.1" fill="#14f115"/><circle cx="186" cy="84" r="2.3" fill="#1fde15"/><circle cx="169" cy="106" r="2.9" fill="#04e70d"/><circle cx="185" cy="90" r="3.9" fill="#19fd0d"/><circle cx="172" cy="96" r="3.4" fill="#17e20d"/><circle cx="191" cy="56" r="3.1" fill="#09e101"/><circle cx="195" cy="79" r="2.4" fill="#04e00e"/><circle cx="204" cy="72" r="3.3" fill="#27fe1a"/><circle cx="189" cy="85" r="3.9" fill="#18f911"/><circle cx="178" cy="98" r="3.3" fill="#21f410"/><circle cx="181" cy="87" r="3.7" fill="#1ddd0e"/><circle cx="159" cy="87" r="3.3" fill="#1edd16"/><circle cx="205" cy="73" r="3.3" fill="#0fe116"/><circle cx="266" cy="83" r="2.9" fill="#21f605"/><circle cx="295" cy="108" r="2.4" fill="#22e00f"/><circle cx="238" cy="86" r="3.9" fill="#0ae007"/><circle cx="254" cy="68" r="3.8" fill="#01e513"/><circle cx="240" cy="71" r="2.8" fill="#15d900"/><circle cx="280" cy="91" r="2.4" fill="#15de08"/><circle cx="211" cy="75" r="3.2" fill="#07e31a"/><circle cx="236" cy="81" r="3.4" fill="#0bf707"/><circle cx="227" cy="73" r="2.7" fill="#1af01b"/><circle cx="227" cy="66" r="3.1" fill="#00ec12"/><circle cx="226" cy="83" r="2.4" fill="#12e014"/><circle cx="259" cy="96" r="2.6" fill="#22e506"/><circle cx="259" cy="91" r="3.9" fill="#15e90a"/><circle cx="260" cy="86" r="3.6" fill="#1de00e"/><circle cx="240" cy="81" r="3.4" fill="#0dfc1d"/><circle cx="225" cy="58" r="3.3" fill="#01e214"/><circle cx="260" cy="67" r="2.4" fill="#03dc16"/><circle cx="213" cy="83" r="2.8" fill="#12e50a"/><circle cx="273" cy="109" r="3.2" fill="#0de000"/><circle cx="281" cy="96" r="2.6" fill="#0ae50e"/><circle cx="240" cy="78" r="2.5" fill="#1bd903"/><circle cx="281" cy="114" r="3.1" fill="#0de919"/><circle cx="254" cy="94" r="2.9" fill="#1add06"/><circle cx="241" cy="77" r="3.7" fill="#20e605"/><circle cx="256" cy="65" r="3.1" fill="#20fe0c"/><circle cx="261" cy="89" r="2.5" fill="#07f60b"/><circle cx="269" cy="109" r="3.0" fill="#01db10"/><circle cx="212" cy="65" r="3.2" fill="#13df04"/><circle cx="309" cy="169" r="2.4" fill="#21f800"/><circle cx="292" cy="130" r="2.8" fill="#16f31c"/><circle cx="283" cy="140" r="2.3" fill="#18f119"/><circle cx="300" cy="153" r="2.4" fill="#17e706"/><circle cx="291" cy="153" r="3.7" fill="#08e500"/><circle cx="274" cy="151" r="4.0" fill="#0eef1b"/><circle cx="276" cy="125" r="3.3" fill="#0ddd0e"/><circle cx="283" cy="155" r="2.6" fill="#22ef1b"/><circle cx="315" cy="129" r="3.0" fill="#04f90d"/><circle cx="303" cy="181" r="3.6" fill="#1bfc10"/><circle cx="296" cy="170" r="3.0" fill="#00f000"/><circle cx="284" cy="123" r="3.1" fill="#1ae408"/><circle cx="290" cy="155" r="3.9" fill="#1afb02"/><circle cx="291" cy="131" r="2.8" fill="#15ea0b"/><circle cx="271" cy="170" r="3.5" fill="#16d918"/><circle cx="285" cy="126" r="3.6" fill="#22f002"/><circle cx="282" cy="133" r="4.0" fill="#0cfa0a"/><circle cx="273" cy="152" r="3.3" fill="#15df02"/><circle cx="286" cy="128" r="4.0" fill="#23ea10"/><circle cx="280" cy="123" r="3.6" fill="#18e70d"/><circle cx="270" cy="160" r="3.2" fill="#22f90e"/><circle cx="294" cy="161" r="3.9" fill="#15e419"/><circle cx="276" cy="139" r="3.4" fill="#05f812"/><circle cx="273" cy="157" r="3.1" fill="#21de0f"/><circle cx="315" cy="152" r="3.4" fill="#1af315"/><circle cx="299" cy="117" r="3.8" fill="#19fd00"/><circle cx="300" cy="132" r="2.7" fill="#0def07"/><circle cx="293" cy="126" r="2.6" fill="#09e91b"/><circle cx="294" cy="116" r="3.9" fill="#03e81b"/><circle cx="293" cy="128" r="2.9" fill="#14dc17"/><circle cx="272" cy="166" r="3.7" fill="#0cf204"/><circle cx="280" cy="162" r="3.3" fill="#10ee11"/><circle cx="282" cy="131" r="2.3" fill="#11df0e"/><circle cx="316" cy="122" r="2.4" fill="#17e400"/><circle cx="289" cy="174" r="3.6" fill="#1eda18"/><circle cx="271" cy="157" r="3.3" fill="#0fef11"/><circle cx="292" cy="131" r="3.2" fill="#12f617"/><circle cx="282" cy="180" r="3.1" fill="#12fe14"/><circle cx="275" cy="159" r="2.4" fill="#1dd900"/><circle cx="301" cy="162" r="2.8" fill="#24ef00"/><circle cx="280" cy="127" r="2.5" fill="#19f401"/><circle cx="283" cy="164" r="3.6" fill="#0df913"/><circle cx="227" cy="207" r="2.5" fill="#0af700"/><circle cx="263" cy="185" r="2.7" fill="#17f611"/><circle cx="273" cy="188" r="3.0" fill="#1edc19"/><circle cx="221" cy="193" r="3.1" fill="#16ed03"/><circle cx="222" cy="188" r="2.5" fill="#11db09"/><circle cx="245" cy="201" r="3.9" fill="#17dc13"/><circle cx="264" cy="172" r="3.9" fill="#1cf519"/><circle cx="217" cy="196" r="3.9" fill="#00dc19"/><circle cx="229" cy="190" r="3.1" fill="#0ffc08"/><circle cx="213" cy="189" r="2.5" fill="#0eea0b"/><circle cx="238" cy="202" r="3.7" fill="#15f90c"/><circle cx="244" cy="188" r="3.2" fill="#23e503"/><circle cx="215" cy="191" r="3.7" fill="#1bdd08"/><circle cx="221" cy="199" r="3.9" fill="#21de0d"/><circle cx="235" cy="186" r="3.9" fill="#01f108"/><circle cx="216" cy="198" r="2.4" fill="#1eed08"/><circle cx="228" cy="191" r="2.5" fill="#25ee10"/><circle cx="255" cy="180" r="4.0" fill="#04fc11"/><circle cx="242" cy="185" r="3.6" fill="#25ee00"/><circle cx="263" cy="196" r="2.9" fill="#10db13"/><circle cx="236" cy="187" r="2.5" fill="#11df1a"/><circle cx="248" cy="181" r="3.9" fill="#12dd11"/><circle cx="266" cy="172" r="3.5" fill="#17e111"/><circle cx="258" cy="199" r="2.9" fill="#21e310"/><circle cx="224" cy="189" r="2.5" fill="#10e105"/><circle cx="257" cy="191" r="2.4" fill="#1fdd18"/><circle cx="249" cy="188" r="2.6" fill="#1fe705"/><circle cx="238" cy="191" r="3.7" fill="#1de60a"/><circle cx="221" cy="200" r="2.9" fill="#26f909"/><circle cx="207" cy="195" r="3.1" fill="#21ef1a"/><circle cx="205" cy="204" r="2.5" fill="#0ed906"/><circle cx="254" cy="183" r="2.9" fill="#16dd0c"/><circle cx="191" cy="189" r="3.1" fill="#05f703"/><circle cx="191" cy="187" r="3.8" fill="#20ec1a"/><circle cx="178" cy="173" r="2.4" fill="#0de203"/><circle cx="168" cy="174" r="3.0" fill="#00f20a"/><circle cx="175" cy="178" r="3.3" fill="#15dc15"/><circle cx="200" cy="188" r="3.9" fill="#16fa00"/><circle cx="193" cy="189" r="3.6" fill="#03f811"/><circle cx="180" cy="177" r="2.6" fill="#1fe30f"/><circle cx="194" cy="182" r="3.7" fill="#0bf317"/><circle cx="184" cy="184" r="2.3" fill="#1ad903"/><circle cx="200" cy="190" r="3.6" fill="#19f80a"/><circle cx="167" cy="176" r="3.5" fill="#07de17"/><circle cx="203" cy="192" r="2.9" fill="#0cdc0b"/><circle cx="202" cy="185" r="3.9" fill="#12e206"/><circle cx="121" cy="255" r="3.3" fill="#0cf600"/><circle cx="217" cy="242" r="3.6" fill="#25f406"/><circle cx="145" cy="220" r="4.0" fill="#06ee02"/><circle cx="149" cy="230" r="2.6" fill="#0ee710"/><circle cx="197" cy="256" r="2.6" fill="#21e20c"/><circle cx="120" cy="267" r="3.1" fill="#16ef17"/><circle cx="224" cy="243" r="3.6" fill="#1cf208"/><circle cx="188" cy="242" r="2.6" fill="#02f71d"/><circle cx="212" cy="259" r="2.7" fill="#04e801"/><circle cx="204" cy="253" r="2.4" fill="#1df417"/><circle cx="227" cy="249" r="4.0" fill="#01ec0d"/><circle cx="113" cy="258" r="4.0" fill="#14fb03"/><circle cx="197" cy="248" r="2.9" fill="#18f815"/><circle cx="228" cy="247" r="3.7" fill="#17d907"/><circle cx="168" cy="216" r="2.4" fill="#0ef71b"/><circle cx="129" cy="268" r="2.4" fill="#0cdc0e"/><circle cx="210" cy="248" r="3.2" fill="#03fc07"/><circle cx="121" cy="258" r="3.8" fill="#0ded08"/><circle cx="204" cy="222" r="2.5" fill="#10f30c"/><circle cx="194" cy="226" r="3.9" fill="#00db17"/><circle cx="162" cy="248" r="3.7" fill="#15db02"/><circle cx="134" cy="242" r="2.5" fill="#0bdd04"/><circle cx="169" cy="243" r="2.5" fill="#0efd00"/><circle cx="135" cy="236" r="2.8" fill="#22f10f"/><circle cx="181" cy="249" r="3.8" fill="#19ee00"/><circle cx="167" cy="248" r="3.0" fill="#11f31b"/><circle cx="187" cy="249" r="3.2" fill="#09e511"/><circle cx="118" cy="259" r="3.9" fill="#13de06"/><circle cx="165" cy="242" r="3.7" fill="#1bfd0a"/><circle cx="214" cy="264" r="3.7" fill="#09f91d"/><circle cx="153" cy="228" r="3.4" fill="#10e216"/><circle cx="172" cy="216" r="3.5" fill="#18e80d"/><circle cx="208" cy="223" r="3.0" fill="#0fe308"/><circle cx="113" cy="264" r="2.8" fill="#1dea0b"/><circle cx="163" cy="225" r="2.9" fill="#1ee507"/><circle cx="209" cy="261" r="2.5" fill="#03fa07"/><circle cx="118" cy="232" r="3.6" fill="#0cda09"/><circle cx="172" cy="227" r="3.3" fill="#07fa07"/><circle cx="196" cy="234" r="3.3" fill="#01e20d"/><circle cx="231" cy="261" r="4.0" fill="#00de05"/><circle cx="197" cy="220" r="3.4" fill="#0eed10"/><circle cx="162" cy="250" r="3.7" fill="#13ee11"/><circle cx="132" cy="240" r="3.0" fill="#0df61a"/><circle cx="152" cy="251" r="2.7" fill="#09ed18"/><circle cx="141" cy="252" r="3.7" fill="#12fd04"/><circle cx="157" cy="217" r="2.9" fill="#09dd07"/><circle cx="111" cy="246" r="2.8" fill="#06dc01"/><circle cx="193" cy="256" r="2.5" fill="#18eb03"/><circle cx="150" cy="248" r="3.8" fill="#21e400"/><circle cx="161" cy="244" r="3.1" fill="#1eda02"/><circle cx="220" cy="240" r="2.7" fill="#1efd16"/><circle cx="122" cy="269" r="3.4" fill="#1efe01"/><circle cx="192" cy="250" r="2.4" fill="#1ff90a"/><circle cx="150" cy="223" r="2.9" fill="#12ec0e"/><circle cx="218" cy="259" r="2.3" fill="#09d905"/><circle cx="142" cy="249" r="3.9" fill="#02dd15"/><circle cx="128" cy="264" r="3.9" fill="#05e40d"/><circle cx="205" cy="239" r="3.8" fill="#24f418"/><circle cx="169" cy="225" r="3.5" fill="#01e30e"/><circle cx="203" cy="230" r="3.3" fill="#16db10"/><circle cx="159" cy="246" r="2.6" fill="#16f714"/><circle cx="179" cy="253" r="2.9" fill="#00e70c"/><circle cx="206" cy="261" r="2.6" fill="#1de317"/><circle cx="179" cy="239" r="3.6" fill="#05eb10"/><circle cx="155" cy="233" r="2.8" fill="#06eb0c"/><circle cx="179" cy="232" r="3.2" fill="#19e201"/><circle cx="210" cy="232" r="3.4" fill="#15da18"/><circle cx="156" cy="243" r="2.9" fill="#08e20f"/><circle cx="123" cy="247" r="3.2" fill="#13e415"/><circle cx="158" cy="235" r="2.3" fill="#04ef03"/><circle cx="209" cy="265" r="3.3" fill="#23e919"/><circle cx="168" cy="244" r="3.3" fill="#11ea0c"/><circle cx="212" cy="228" r="2.7" fill="#21f803"/><circle cx="151" cy="255" r="3.7" fill="#1cec0a"/><circle cx="200" cy="260" r="3.0" fill="#01f80a"/><circle cx="177" cy="233" r="3.3" fill="#01e915"/><circle cx="216" cy="256" r="2.8" fill="#1fd812"/><circle cx="160" cy="224" r="2.6" fill="#10e91a"/><circle cx="220" cy="239" r="2.7" fill="#03fe18"/><circle cx="162" cy="247" r="2.6" fill="#1fe314"/><circle cx="237" cy="303" r="2.7" fill="#1afc00"/><circle cx="235" cy="286" r="3.4" fill="#0be408"/><circle cx="251" cy="311" r="2.7" fill="#0be519"/><circle cx="240" cy="302" r="3.3" fill="#0ffc08"/><circle cx="237" cy="301" r="3.8" fill="#07d911"/><circle cx="235" cy="310" r="3.8" fill="#04dd19"/><circle cx="229" cy="293" r="2.6" fill="#1dfd18"/><circle cx="220" cy="276" r="2.6" fill="#24f401"/><circle cx="225" cy="271" r="2.6" fill="#03de17"/><circle cx="230" cy="299" r="3.5" fill="#00fa06"/><circle cx="221" cy="275" r="2.9" fill="#11fb0c"/><circle cx="246" cy="309" r="3.1" fill="#24fc12"/><circle cx="233" cy="304" r="3.9" fill="#0ddf0b"/><circle cx="239" cy="308" r="4.0" fill="#1cd800"/><circle cx="236" cy="308" r="2.6" fill="#18db00"/><circle cx="239" cy="284" r="3.1" fill="#20f404"/><circle cx="231" cy="298" r="2.6" fill="#15dd06"/><circle cx="233" cy="293" r="3.3" fill="#01d90c"/><circle cx="241" cy="267" r="2.8" fill="#16fd0c"/><circle cx="244" cy="300" r="3.0" fill="#0df50c"/><circle cx="223" cy="270" r="3.6" fill="#0ef80e"/><circle cx="226" cy="279" r="3.8" fill="#1ffd08"/><circle cx="226" cy="283" r="3.7" fill="#1cdf13"/><circle cx="238" cy="288" r="2.7" fill="#24fc08"/><circle cx="243" cy="266" r="3.7" fill="#14f404"/><circle cx="241" cy="282" r="2.5" fill="#16f41a"/><circle cx="233" cy="296" r="3.8" fill="#23e512"/><circle cx="259" cy="310" r="2.9" fill="#0cf116"/><circle cx="240" cy="266" r="2.7" fill="#02dc19"/><circle cx="236" cy="291" r="3.7" fill="#1bde0a"/><circle cx="241" cy="282" r="2.9" fill="#13f404"/><circle cx="258" cy="302" r="3.5" fill="#14f705"/><circle cx="235" cy="309" r="2.5" fill="#04d903"/><circle cx="242" cy="307" r="2.9" fill="#14e015"/><circle cx="225" cy="285" r="3.3" fill="#20eb0d"/><circle cx="237" cy="305" r="4.0" fill="#00ee04"/><circle cx="246" cy="313" r="2.5" fill="#1de116"/><circle cx="222" cy="346" r="3.1" fill="#1cf402"/><circle cx="244" cy="366" r="2.5" fill="#13f30e"/><circle cx="217" cy="350" r="2.5" fill="#04dd10"/><circle cx="234" cy="322" r="2.6" fill="#07fc18"/><circle cx="245" cy="323" r="3.5" fill="#02f413"/><circle cx="237" cy="374" r="3.2" fill="#0be500"/><circle cx="232" cy="354" r="3.6" fill="#25f419"/><circle cx="229" cy="339" r="2.3" fill="#21fe0a"/><circle cx="231" cy="351" r="2.6" fill="#10e609"/><circle cx="237" cy="336" r="3.5" fill="#15e019"/><circle cx="229" cy="357" r="2.3" fill="#23fe06"/><circle cx="215" cy="353" r="2.8" fill="#09dd11"/><circle cx="238" cy="373" r="3.8" fill="#1dea10"/><circle cx="213" cy="368" r="2.7" fill="#03e100"/><circle cx="220" cy="351" r="2.4" fill="#15f308"/><circle cx="247" cy="327" r="2.4" fill="#18fe00"/><circle cx="241" cy="319" r="3.3" fill="#22ed11"/><circle cx="239" cy="333" r="3.1" fill="#0fdc19"/><circle cx="223" cy="351" r="2.8" fill="#1afa1a"/><circle cx="214" cy="373" r="2.7" fill="#05e303"/><circle cx="249" cy="338" r="3.3" fill="#1ef80a"/><circle cx="217" cy="358" r="3.7" fill="#1ce900"/><circle cx="227" cy="341" r="2.4" fill="#16f60b"/><circle cx="232" cy="327" r="2.4" fill="#11f90a"/><circle cx="228" cy="349" r="3.8" fill="#21fa0a"/><circle cx="151" cy="369" r="3.9" fill="#03f314"/><circle cx="202" cy="381" r="2.5" fill="#17fb19"/><circle cx="179" cy="376" r="3.3" fill="#23eb15"/><circle cx="199" cy="365" r="2.6" fill="#1af11c"/><circle cx="182" cy="379" r="3.0" fill="#13d902"/><circle cx="188" cy="374" r="3.4" fill="#08e80e"/><circle cx="164" cy="373" r="3.1" fill="#13e40c"/><circle cx="140" cy="365" r="3.9" fill="#18fb17"/><circle cx="202" cy="369" r="3.4" fill="#08ef15"/><circle cx="140" cy="366" r="3.7" fill="#16e300"/><circle cx="163" cy="374" r="2.5" fill="#09de09"/><circle cx="152" cy="368" r="2.4" fill="#05d806"/><circle cx="142" cy="378" r="3.0" fill="#13fc1a"/><circle cx="192" cy="368" r="2.5" fill="#05ea18"/><circle cx="197" cy="385" r="2.7" fill="#00e207"/><circle cx="147" cy="371" r="3.7" fill="#1efc0e"/><circle cx="172" cy="374" r="3.0" fill="#13f80f"/><circle cx="161" cy="378" r="3.5" fill="#15e103"/><circle cx="120" cy="277" r="3.6" fill="#1af913"/><circle cx="133" cy="374" r="3.5" fill="#0bec0c"/><circle cx="116" cy="275" r="3.0" fill="#12dc0f"/><circle cx="115" cy="274" r="2.9" fill="#20ec04"/><circle cx="119" cy="273" r="2.6" fill="#09fb04"/><circle cx="107" cy="337" r="3.7" fill="#11f30f"/><circle cx="137" cy="366" r="2.5" fill="#26f608"/><circle cx="105" cy="293" r="2.6" fill="#22df0e"/><circle cx="127" cy="366" r="2.6" fill="#15fd16"/><circle cx="122" cy="277" r="3.9" fill="#0edb13"/><circle cx="104" cy="299" r="3.3" fill="#1ff20b"/><circle cx="111" cy="339" r="2.4" fill="#02fd01"/><circle cx="110" cy="292" r="3.8" fill="#00ec0e"/><circle cx="119" cy="269" r="3.5" fill="#0bf80d"/><circle cx="118" cy="355" r="2.3" fill="#18e015"/><circle cx="116" cy="345" r="3.2" fill="#00e10f"/><circle cx="102" cy="316" r="2.9" fill="#0adb11"/><circle cx="118" cy="341" r="2.4" fill="#05e51a"/><circle cx="102" cy="337" r="2.9" fill="#01f202"/><circle cx="107" cy="346" r="2.8" fill="#20f005"/><circle cx="121" cy="347" r="3.0" fill="#20e508"/><circle cx="129" cy="364" r="3.0" fill="#1fef07"/><circle cx="108" cy="285" r="3.6" fill="#09f314"/><circle cx="127" cy="355" r="3.6" fill="#1ae10d"/><circle cx="99" cy="319" r="3.3" fill="#1bdb14"/><circle cx="121" cy="274" r="3.5" fill="#0ff114"/><circle cx="190" cy="88" r="3.4" fill="#03ed18"/><circle cx="191" cy="86" r="3.2" fill="#01e901"/><circle cx="210" cy="85" r="3.0" fill="#23fc02"/><circle cx="171" cy="76" r="2.4" fill="#1fda0a"/><circle cx="205" cy="94" r="2.5" fill="#18ed03"/><circle cx="163" cy="80" r="3.5" fill="#05ee10"/><circle cx="203" cy="87" r="3.5" fill="#21f000"/><circle cx="161" cy="84" r="3.6" fill="#1cfc11"/><circle cx="183" cy="89" r="2.6" fill="#0eee01"/><circle cx="138" cy="81" r="3.5" fill="#11fe12"/><circle cx="221" cy="90" r="3.6" fill="#08eb1a"/><circle cx="241" cy="87" r="3.6" fill="#23fa18"/><circle cx="180" cy="95" r="3.3" fill="#21ea16"/><circle cx="237" cy="68" r="3.1" fill="#03f400"/><circle cx="184" cy="94" r="3.5" fill="#1af408"/><circle cx="219" cy="79" r="3.9" fill="#14f004"/><circle cx="177" cy="84" r="2.8" fill="#0de70a"/><circle cx="206" cy="82" r="3.1" fill="#22fa07"/><circle cx="223" cy="70" r="2.8" fill="#18f20a"/><circle cx="182" cy="88" r="2.4" fill="#08f106"/><circle cx="254" cy="85" r="2.6" fill="#0fde00"/><circle cx="158" cy="82" r="2.8" fill="#07f915"/><circle cx="240" cy="80" r="3.6" fill="#1cfa1b"/><circle cx="241" cy="80" r="3.3" fill="#16e70a"/><circle cx="168" cy="85" r="2.6" fill="#0bde0c"/><circle cx="193" cy="86" r="2.3" fill="#07dc0e"/><circle cx="194" cy="85" r="3.8" fill="#22de0a"/><circle cx="198" cy="91" r="2.9" fill="#06f902"/><circle cx="232" cy="84" r="3.1" fill="#04dc03"/><circle cx="185" cy="89" r="3.7" fill="#08d90d"/><circle cx="233" cy="81" r="2.5" fill="#1dd918"/><circle cx="116" cy="80" r="3.8" fill="#0ee60e"/><circle cx="224" cy="96" r="3.2" fill="#1ef109"/><circle cx="158" cy="75" r="3.6" fill="#0ae116"/><circle cx="154" cy="92" r="2.6" fill="#1df40a"/><circle cx="251" cy="83" r="3.1" fill="#0bef14"/><circle cx="168" cy="96" r="3.5" fill="#15fe1d"/><circle cx="210" cy="86" r="3.1" fill="#13eb05"/><circle cx="239" cy="83" r="2.3" fill="#14f117"/><circle cx="206" cy="81" r="3.0" fill="#0bfa0e"/><circle cx="159" cy="89" r="2.4" fill="#16e80c"/><circle cx="244" cy="80" r="2.6" fill="#06de00"/><circle cx="243" cy="76" r="2.5" fill="#24f10e"/><circle cx="176" cy="92" r="2.5" fill="#00fd18"/><circle cx="176" cy="76" r="3.9" fill="#17e017"/><circle cx="203" cy="83" r="2.7" fill="#1ef506"/><circle cx="181" cy="93" r="3.7" fill="#02f51b"/><circle cx="233" cy="77" r="3.7" fill="#20f80c"/><circle cx="209" cy="81" r="2.6" fill="#1ffa00"/><circle cx="205" cy="73" r="3.6" fill="#07de04"/><circle cx="155" cy="193" r="2.4" fill="#1eed0e"/><circle cx="181" cy="192" r="3.3" fill="#0de305"/><circle cx="184" cy="188" r="3.3" fill="#03e50c"/><circle cx="249" cy="194" r="2.6" fill="#0fec0c"/><circle cx="198" cy="188" r="2.7" fill="#20fa1b"/><circle cx="287" cy="189" r="3.8" fill="#0be917"/><circle cx="127" cy="198" r="2.8" fill="#0cdb0b"/><circle cx="128" cy="186" r="3.8" fill="#08f41c"/><circle cx="159" cy="192" r="3.8" fill="#1bf506"/><circle cx="270" cy="202" r="2.6" fill="#0df304"/><circle cx="231" cy="195" r="3.0" fill="#13dc08"/><circle cx="142" cy="199" r="3.1" fill="#00e50a"/><circle cx="128" cy="190" r="2.4" fill="#0cdc18"/><circle cx="173" cy="197" r="3.6" fill="#0edd14"/><circle cx="68" cy="201" r="3.7" fill="#0dde0a"/><circle cx="237" cy="191" r="3.5" fill="#04da06"/><circle cx="153" cy="189" r="2.4" fill="#00dc11"/><circle cx="170" cy="203" r="2.7" fill="#0ddd17"/><circle cx="351" cy="196" r="3.0" fill="#0edd10"/><circle cx="135" cy="194" r="2.5" fill="#08da06"/><circle cx="189" cy="200" r="2.8" fill="#0be908"/><circle cx="154" cy="191" r="3.7" fill="#0dd900"/><circle cx="168" cy="187" r="2.6" fill="#1dfc06"/><circle cx="255" cy="202" r="3.0" fill="#1ef810"/><circle cx="124" cy="199" r="3.5" fill="#0ce008"/><circle cx="241" cy="188" r="2.5" fill="#15f800"/><circle cx="252" cy="196" r="3.8" fill="#17da04"/><circle cx="148" cy="190" r="3.2" fill="#0fe210"/><circle cx="159" cy="201" r="2.6" fill="#18e200"/><circle cx="318" cy="191" r="3.2" fill="#0efd00"/><circle cx="156" cy="200" r="2.3" fill="#16ea01"/><circle cx="138" cy="195" r="3.2" fill="#00e201"/><circle cx="222" cy="198" r="2.4" fill="#00e408"/><circle cx="183" cy="203" r="3.2" fill="#08fa14"/><circle cx="191" cy="187" r="3.6" fill="#1be303"/><circle cx="152" cy="193" r="3.7" fill="#1de912"/><circle cx="155" cy="188" r="3.8" fill="#1ff811"/><circle cx="210" cy="184" r="3.3" fill="#0bd901"/><circle cx="210" cy="199" r="2.5" fill="#18da0e"/><circle cx="242" cy="196" r="2.7" fill="#0eea00"/><circle cx="291" cy="201" r="3.8" fill="#04ec13"/><circle cx="173" cy="188" r="3.7" fill="#0ff406"/><circle cx="295" cy="197" r="3.8" fill="#1ce718"/><circle cx="272" cy="156" r="3.5" fill="#24f112"/><circle cx="296" cy="158" r="2.7" fill="#11ee11"/><circle cx="294" cy="151" r="2.7" fill="#05e113"/><circle cx="271" cy="153" r="2.7" fill="#1bf60d"/><circle cx="305" cy="148" r="2.8" fill="#04ea1a"/><circle cx="289" cy="162" r="3.1" fill="#19e707"/><circle cx="314" cy="115" r="2.4" fill="#04f503"/><circle cx="289" cy="178" r="3.2" fill="#23e30e"/><circle cx="299" cy="169" r="3.0" fill="#1ad90a"/><circle cx="304" cy="151" r="3.0" fill="#10de14"/><circle cx="284" cy="172" r="3.6" fill="#00f509"/><circle cx="293" cy="137" r="3.7" fill="#00f51a"/><circle cx="290" cy="161" r="2.9" fill="#21e601"/><circle cx="281" cy="161" r="2.4" fill="#05f800"/><circle cx="284" cy="219" r="2.7" fill="#0fec0c"/><circle cx="294" cy="177" r="3.7" fill="#00f518"/><circle cx="270" cy="186" r="3.1" fill="#0bdb13"/><circle cx="301" cy="137" r="3.2" fill="#07fa13"/><circle cx="264" cy="156" r="3.1" fill="#09e80d"/><circle cx="288" cy="173" r="3.4" fill="#0ff10b"/><circle cx="285" cy="186" r="2.9" fill="#08de11"/><circle cx="297" cy="213" r="3.0" fill="#0dfb0d"/><circle cx="303" cy="149" r="2.5" fill="#0adc06"/><circle cx="287" cy="161" r="2.7" fill="#0eee17"/><circle cx="305" cy="118" r="2.9" fill="#18ec15"/><circle cx="282" cy="169" r="2.4" fill="#10fd11"/><circle cx="300" cy="175" r="3.2" fill="#0be301"/><circle cx="215" cy="262" r="3.1" fill="#12f71a"/><circle cx="233" cy="249" r="3.0" fill="#1cef1c"/><circle cx="250" cy="250" r="3.9" fill="#1eea18"/><circle cx="157" cy="257" r="2.7" fill="#08fd0f"/><circle cx="266" cy="264" r="3.5" fill="#1bed01"/><circle cx="274" cy="255" r="2.7" fill="#01f413"/><circle cx="263" cy="246" r="3.2" fill="#1af515"/><circle cx="239" cy="256" r="3.9" fill="#0ae20a"/><circle cx="215" cy="249" r="3.2" fill="#1cfd07"/><circle cx="170" cy="230" r="3.1" fill="#0de20f"/><circle cx="268" cy="245" r="2.8" fill="#00eb05"/><circle cx="198" cy="239" r="2.7" fill="#18e61a"/><circle cx="161" cy="251" r="3.5" fill="#14e713"/><circle cx="244" cy="250" r="3.7" fill="#03eb05"/><circle cx="233" cy="269" r="2.6" fill="#19e206"/><circle cx="228" cy="246" r="3.4" fill="#26fb04"/><circle cx="138" cy="252" r="2.4" fill="#25fc03"/><circle cx="222" cy="251" r="3.3" fill="#18f300"/><circle cx="230" cy="262" r="3.5" fill="#11dd13"/><circle cx="233" cy="253" r="2.6" fill="#1eea15"/><circle cx="194" cy="268" r="3.7" fill="#12df0c"/><circle cx="243" cy="250" r="2.9" fill="#06fd10"/><circle cx="224" cy="261" r="3.7" fill="#17da01"/><circle cx="182" cy="252" r="3.9" fill="#0ae609"/><circle cx="222" cy="248" r="3.0" fill="#24e815"/><circle cx="187" cy="259" r="3.7" fill="#02e007"/><circle cx="259" cy="256" r="2.9" fill="#14fd1d"/><circle cx="271" cy="255" r="3.5" fill="#0ed807"/><circle cx="218" cy="223" r="3.4" fill="#03f800"/><circle cx="258" cy="262" r="3.1" fill="#15e216"/><circle cx="178" cy="256" r="3.9" fill="#0af700"/><circle cx="210" cy="228" r="3.6" fill="#22e506"/><circle cx="201" cy="260" r="3.6" fill="#04e00e"/><circle cx="215" cy="241" r="2.4" fill="#01ed0d"/><circle cx="170" cy="280" r="3.8" fill="#03f007"/><circle cx="224" cy="262" r="4.0" fill="#18e104"/><circle cx="173" cy="258" r="3.4" fill="#20f61a"/><circle cx="219" cy="229" r="2.8" fill="#0fe210"/><circle cx="214" cy="259" r="3.0" fill="#09e106"/><circle cx="200" cy="276" r="2.6" fill="#03e20a"/><circle cx="216" cy="265" r="3.4" fill="#05ea12"/><circle cx="218" cy="250" r="3.8" fill="#0ce917"/><circle cx="165" cy="267" r="2.7" fill="#02ef05"/><circle cx="226" cy="243" r="2.4" fill="#1cdf17"/><circle cx="167" cy="237" r="3.4" fill="#00f102"/><circle cx="207" cy="239" r="2.4" fill="#11da03"/><circle cx="225" cy="250" r="3.5" fill="#0bd916"/><circle cx="190" cy="266" r="2.6" fill="#10e001"/><circle cx="227" cy="235" r="2.4" fill="#05e716"/><circle cx="167" cy="245" r="2.5" fill="#09f30b"/><circle cx="191" cy="255" r="2.8" fill="#02f508"/><circle cx="242" cy="242" r="2.3" fill="#14e011"/><circle cx="212" cy="242" r="2.3" fill="#08dd0b"/><circle cx="254" cy="258" r="2.9" fill="#08d903"/><circle cx="168" cy="245" r="3.8" fill="#04f010"/><circle cx="186" cy="260" r="2.5" fill="#10ec04"/><circle cx="230" cy="247" r="3.1" fill="#0add07"/><circle cx="304" cy="239" r="3.1" fill="#02fc12"/><circle cx="157" cy="267" r="3.4" fill="#09f613"/><circle cx="221" cy="262" r="3.7" fill="#1cee04"/><circle cx="295" cy="257" r="2.6" fill="#13de02"/><circle cx="278" cy="246" r="2.6" fill="#21f519"/><circle cx="280" cy="255" r="2.5" fill="#23ed0d"/><circle cx="194" cy="243" r="3.0" fill="#21e906"/><circle cx="194" cy="239" r="3.0" fill="#00f000"/><circle cx="189" cy="251" r="3.6" fill="#19df16"/><circle cx="199" cy="251" r="2.5" fill="#17dc09"/><circle cx="176" cy="255" r="2.4" fill="#22db03"/><circle cx="209" cy="229" r="3.2" fill="#02ec16"/><circle cx="153" cy="270" r="2.5" fill="#03f412"/><circle cx="224" cy="243" r="4.0" fill="#1efd08"/><circle cx="233" cy="246" r="3.6" fill="#0df801"/><circle cx="194" cy="244" r="2.9" fill="#26fb07"/><circle cx="189" cy="252" r="3.9" fill="#1cef05"/><circle cx="196" cy="244" r="2.9" fill="#0ae804"/><circle cx="197" cy="243" r="2.9" fill="#17f704"/><circle cx="210" cy="270" r="2.4" fill="#16fa1d"/><circle cx="172" cy="245" r="3.8" fill="#05fe07"/><circle cx="191" cy="241" r="3.7" fill="#0ffe0b"/><circle cx="186" cy="245" r="3.6" fill="#18df06"/><circle cx="245" cy="293" r="3.7" fill="#0ff108"/><circle cx="257" cy="297" r="3.4" fill="#11d813"/><circle cx="250" cy="303" r="3.3" fill="#19ec0c"/><circle cx="249" cy="293" r="2.7" fill="#01da00"/><circle cx="238" cy="292" r="3.2" fill="#1fe806"/><circle cx="243" cy="311" r="2.9" fill="#1add04"/><circle cx="251" cy="294" r="2.6" fill="#05f101"/><circle cx="256" cy="272" r="3.0" fill="#0dd919"/><circle cx="238" cy="278" r="2.9" fill="#22ef0d"/><circle cx="235" cy="297" r="2.6" fill="#00db00"/><circle cx="251" cy="302" r="2.6" fill="#05f000"/><circle cx="242" cy="288" r="3.0" fill="#1ff111"/><circle cx="239" cy="282" r="3.3" fill="#1bdb07"/><circle cx="225" cy="250" r="3.5" fill="#1bed14"/><circle cx="238" cy="317" r="3.9" fill="#04f115"/><circle cx="259" cy="366" r="2.7" fill="#01e502"/><circle cx="245" cy="266" r="3.7" fill="#02f107"/><circle cx="239" cy="270" r="3.9" fill="#0ff108"/><circle cx="251" cy="297" r="3.8" fill="#00e204"/><circle cx="246" cy="336" r="3.9" fill="#13fa05"/><circle cx="242" cy="314" r="3.8" fill="#26f31b"/><circle cx="232" cy="247" r="3.1" fill="#1cd812"/><circle cx="267" cy="309" r="2.7" fill="#10e016"/><circle cx="242" cy="294" r="3.8" fill="#07d900"/><circle cx="261" cy="331" r="2.9" fill="#07d912"/><circle cx="258" cy="309" r="3.4" fill="#03da13"/><circle cx="254" cy="271" r="2.6" fill="#20f21a"/><circle cx="256" cy="275" r="3.5" fill="#15e202"/><circle cx="246" cy="306" r="3.9" fill="#26f801"/><circle cx="240" cy="287" r="2.5" fill="#05f518"/><circle cx="247" cy="319" r="3.0" fill="#00e209"/><circle cx="242" cy="334" r="2.9" fill="#13fd17"/><circle cx="270" cy="93" r="2.8" fill="#00d915"/><circle cx="282" cy="125" r="2.4" fill="#02e30f"/><circle cx="323" cy="13" r="2.7" fill="#0fdb04"/><circle cx="309" cy="90" r="3.0" fill="#02d500"/><circle cx="382" cy="134" r="3.1" fill="#19d50f"/><circle cx="351" cy="65" r="3.3" fill="#0ecc14"/><circle cx="325" cy="45" r="2.0" fill="#1ec412"/><circle cx="351" cy="27" r="3.1" fill="#21d508"/><circle cx="309" cy="121" r="3.2" fill="#04f70c"/><circle cx="361" cy="100" r="2.2" fill="#1aca0c"/><circle cx="387" cy="88" r="3.3" fill="#07e50f"/><circle cx="320" cy="38" r="1.9" fill="#20e008"/><circle cx="364" cy="59" r="2.7" fill="#11dc04"/><circle cx="328" cy="63" r="2.2" fill="#13e80c"/><circle cx="324" cy="44" r="2.2" fill="#24ed03"/><circle cx="393" cy="84" r="2.8" fill="#11ce04"/><circle cx="364" cy="85" r="3.3" fill="#05fc04"/><circle cx="366" cy="121" r="3.4" fill="#0fd212"/><circle cx="335" cy="116" r="3.3" fill="#10f705"/><circle cx="333" cy="97" r="3.2" fill="#15cd11"/><circle cx="367" cy="90" r="1.8" fill="#0eee11"/><circle cx="364" cy="96" r="3.2" fill="#21ef10"/><circle cx="316" cy="110" r="3.0" fill="#1dcd15"/><circle cx="346" cy="116" r="2.5" fill="#0eeb12"/><circle cx="359" cy="74" r="2.4" fill="#20cf04"/><circle cx="304" cy="118" r="2.8" fill="#17ea0e"/><circle cx="358" cy="83" r="2.8" fill="#00f40b"/><circle cx="352" cy="83" r="2.2" fill="#0cec04"/><circle cx="360" cy="86" r="2.4" fill="#1fe10c"/><circle cx="329" cy="42" r="2.8" fill="#13d50d"/><circle cx="336" cy="45" r="3.4" fill="#09e00a"/><circle cx="390" cy="65" r="2.8" fill="#20cf00"/><circle cx="329" cy="106" r="1.9" fill="#18eb12"/><circle cx="322" cy="123" r="2.2" fill="#18fc1d"/><circle cx="376" cy="83" r="2.1" fill="#03f217"/><circle cx="356" cy="155" r="3.0" fill="#08e90a"/><circle cx="368" cy="25" r="2.5" fill="#0fe215"/><circle cx="385" cy="155" r="2.4" fill="#0cec07"/><circle cx="321" cy="48" r="3.1" fill="#0dce08"/><circle cx="325" cy="144" r="2.5" fill="#24e901"/><circle cx="286" cy="174" r="3.2" fill="#02f401"/><circle cx="389" cy="51" r="2.0" fill="#13e411"/><circle cx="325" cy="69" r="1.9" fill="#10e607"/><circle cx="278" cy="53" r="2.1" fill="#1af10a"/><circle cx="347" cy="139" r="2.7" fill="#23eb19"/><circle cx="353" cy="92" r="3.2" fill="#1fe716"/><circle cx="326" cy="145" r="2.1" fill="#04f416"/><circle cx="330" cy="75" r="2.0" fill="#18f306"/><circle cx="294" cy="105" r="2.6" fill="#07de13"/><circle cx="294" cy="96" r="3.2" fill="#00f404"/><circle cx="294" cy="107" r="2.9" fill="#18da09"/><circle cx="391" cy="95" r="2.1" fill="#14e812"/><circle cx="349" cy="97" r="3.0" fill="#14fd18"/><circle cx="298" cy="92" r="3.2" fill="#01ed05"/><circle cx="316" cy="66" r="3.2" fill="#13dd08"/><circle cx="279" cy="83" r="2.1" fill="#17da08"/><circle cx="276" cy="67" r="2.3" fill="#19d40a"/><circle cx="325" cy="120" r="2.6" fill="#05cb07"/><circle cx="334" cy="72" r="3.4" fill="#04fe18"/><circle cx="302" cy="129" r="2.4" fill="#1ed800"/><circle cx="346" cy="104" r="3.1" fill="#1cf011"/><circle cx="376" cy="115" r="2.7" fill="#12c80e"/><circle cx="313" cy="34" r="3.2" fill="#03c104"/><circle cx="305" cy="48" r="2.1" fill="#08c114"/><circle cx="350" cy="-4" r="2.8" fill="#15f319"/><circle cx="348" cy="39" r="2.2" fill="#10da04"/><circle cx="323" cy="138" r="2.8" fill="#02e30d"/><circle cx="371" cy="358" r="3.1" fill="#23f915"/><circle cx="356" cy="356" r="2.4" fill="#21e91b"/><circle cx="381" cy="386" r="2.7" fill="#04dd11"/><circle cx="385" cy="336" r="2.5" fill="#00e913"/><circle cx="403" cy="351" r="2.1" fill="#06dd03"/><circle cx="355" cy="383" r="2.5" fill="#08c216"/><circle cx="365" cy="321" r="3.2" fill="#04e708"/><circle cx="354" cy="331" r="3.3" fill="#0ffc1c"/><circle cx="359" cy="352" r="1.8" fill="#21d801"/><circle cx="349" cy="383" r="3.3" fill="#17c30e"/><circle cx="341" cy="376" r="2.5" fill="#09fc03"/><circle cx="401" cy="392" r="2.1" fill="#16d70c"/><circle cx="372" cy="303" r="3.1" fill="#1dd108"/><circle cx="348" cy="316" r="2.3" fill="#25fd16"/><circle cx="375" cy="329" r="2.3" fill="#15ce16"/><circle cx="344" cy="369" r="3.0" fill="#0cdc15"/><circle cx="353" cy="337" r="2.2" fill="#09f911"/><circle cx="363" cy="317" r="2.3" fill="#08f818"/><circle cx="372" cy="354" r="3.4" fill="#21f013"/><circle cx="333" cy="355" r="2.7" fill="#1ad715"/><circle cx="368" cy="321" r="3.4" fill="#0ec20e"/><circle cx="333" cy="376" r="3.3" fill="#1bbf12"/><circle cx="339" cy="373" r="2.7" fill="#10c312"/><circle cx="339" cy="371" r="2.2" fill="#1cdd08"/><circle cx="348" cy="347" r="2.1" fill="#0aeb17"/><circle cx="342" cy="377" r="2.4" fill="#19c815"/><circle cx="353" cy="362" r="2.8" fill="#04d303"/><circle cx="378" cy="358" r="2.8" fill="#04cc00"/><circle cx="380" cy="334" r="2.7" fill="#0cfa07"/><circle cx="358" cy="365" r="2.5" fill="#21e617"/><circle cx="389" cy="386" r="2.3" fill="#08c409"/><circle cx="387" cy="364" r="3.2" fill="#1cfb0e"/><circle cx="367" cy="351" r="2.8" fill="#13c616"/><circle cx="376" cy="351" r="2.7" fill="#04f91d"/><circle cx="346" cy="354" r="3.2" fill="#12ce18"/><circle cx="358" cy="342" r="3.3" fill="#15f800"/><circle cx="50" cy="5" r="2.1" fill="#1dee14"/><circle cx="24" cy="4" r="2.2" fill="#0fbf12"/><circle cx="31" cy="47" r="2.9" fill="#19e815"/><circle cx="5" cy="25" r="2.6" fill="#13d70c"/><circle cx="55" cy="5" r="2.7" fill="#09c112"/><circle cx="33" cy="17" r="3.5" fill="#15ef1a"/><circle cx="38" cy="15" r="2.0" fill="#03fd0d"/><circle cx="16" cy="32" r="2.2" fill="#13d403"/><circle cx="21" cy="12" r="2.7" fill="#08f60d"/><circle cx="20" cy="38" r="2.2" fill="#10f411"/><circle cx="16" cy="30" r="2.8" fill="#13f80d"/><circle cx="60" cy="51" r="2.1" fill="#0bdd0e"/><circle cx="19" cy="34" r="2.3" fill="#16fe0c"/><circle cx="63" cy="22" r="2.2" fill="#11f80c"/><circle cx="49" cy="31" r="2.5" fill="#22db00"/><circle cx="1" cy="21" r="2.7" fill="#1acb07"/><circle cx="27" cy="42" r="2.2" fill="#0af00f"/><circle cx="19" cy="12" r="2.1" fill="#04e619"/><circle cx="8" cy="22" r="2.3" fill="#24ec13"/><circle cx="31" cy="2" r="2.3" fill="#03ed14"/><circle cx="-2" cy="36" r="2.1" fill="#12d108"/><circle cx="38" cy="31" r="3.2" fill="#07e918"/><circle cx="22" cy="43" r="3.6" fill="#01ec04"/><circle cx="-4" cy="51" r="3.5" fill="#03d502"/><circle cx="23" cy="52" r="3.5" fill="#16ef10"/><circle cx="56" cy="34" r="3.5" fill="#1bdf0c"/><circle cx="0" cy="18" r="2.0" fill="#04e606"/><circle cx="30" cy="34" r="2.9" fill="#00c500"/><circle cx="18" cy="12" r="2.0" fill="#21e411"/><circle cx="51" cy="41" r="3.1" fill="#01c706"/><circle cx="1" cy="23" r="2.4" fill="#05d902"/><circle cx="38" cy="38" r="3.4" fill="#08e312"/><circle cx="22" cy="12" r="3.3" fill="#24eb0b"/><circle cx="2" cy="10" r="2.1" fill="#02d614"/><circle cx="14" cy="37" r="2.9" fill="#0fc80c"/><circle cx="15" cy="8" r="3.4" fill="#21d600"/><circle cx="15" cy="21" r="2.7" fill="#18c00f"/><circle cx="52" cy="55" r="3.2" fill="#16c20f"/><circle cx="70" cy="17" r="2.1" fill="#26f907"/><circle cx="4" cy="6" r="3.3" fill="#01c50e"/><circle cx="24" cy="24" r="2.4" fill="#01c607"/><circle cx="16" cy="30" r="2.1" fill="#1ad016"/><circle cx="0" cy="26" r="2.2" fill="#05c70c"/><circle cx="17" cy="38" r="2.5" fill="#0bc411"/><circle cx="4" cy="9" r="3.0" fill="#0bec0f"/><circle cx="18" cy="295" r="2.5" fill="#17ca14"/><circle cx="56" cy="315" r="2.3" fill="#13d00e"/><circle cx="71" cy="266" r="2.9" fill="#0fcb0d"/><circle cx="47" cy="382" r="1.9" fill="#02b410"/><circle cx="16" cy="258" r="2.1" fill="#02d00d"/><circle cx="10" cy="310" r="1.8" fill="#0ce61b"/><circle cx="84" cy="259" r="2.5" fill="#06c10f"/><circle cx="36" cy="254" r="2.8" fill="#05f416"/><circle cx="142" cy="203" r="2.0" fill="#23e213"/><circle cx="46" cy="231" r="1.7" fill="#16dc14"/><circle cx="77" cy="314" r="3.0" fill="#08f30c"/><circle cx="47" cy="349" r="1.8" fill="#17d512"/><circle cx="51" cy="239" r="2.1" fill="#1ccf0f"/><circle cx="32" cy="359" r="2.8" fill="#19d409"/><circle cx="65" cy="319" r="1.8" fill="#1fde0a"/><circle cx="112" cy="339" r="2.1" fill="#1dc514"/><circle cx="18" cy="399" r="2.8" fill="#00b600"/><circle cx="23" cy="257" r="2.9" fill="#10e10f"/><circle cx="3" cy="316" r="2.6" fill="#16d60a"/><circle cx="99" cy="299" r="2.2" fill="#00b70f"/><circle cx="59" cy="331" r="2.3" fill="#1ede19"/><circle cx="111" cy="191" r="2.3" fill="#18e215"/><circle cx="83" cy="279" r="2.3" fill="#04ce04"/><circle cx="47" cy="295" r="2.0" fill="#09e402"/><circle cx="47" cy="324" r="2.9" fill="#1ffc1b"/><circle cx="30" cy="235" r="2.7" fill="#0cf60f"/><circle cx="46" cy="289" r="2.4" fill="#05de09"/><circle cx="22" cy="221" r="2.6" fill="#00b211"/><circle cx="292" cy="230" r="2.9" fill="#12ba12"/><circle cx="306" cy="255" r="1.8" fill="#1bc60e"/><circle cx="281" cy="235" r="3.0" fill="#1dd104"/><circle cx="311" cy="263" r="2.7" fill="#04ba00"/><circle cx="315" cy="276" r="2.8" fill="#24f00c"/><circle cx="304" cy="256" r="2.7" fill="#12e903"/><circle cx="291" cy="265" r="2.0" fill="#05f71a"/><circle cx="280" cy="246" r="2.2" fill="#11b600"/><circle cx="326" cy="238" r="2.9" fill="#18e100"/><circle cx="300" cy="261" r="2.9" fill="#07b207"/><circle cx="318" cy="239" r="2.2" fill="#0ff61c"/><circle cx="309" cy="254" r="2.5" fill="#1ed205"/><circle cx="268" cy="274" r="1.6" fill="#0bbf01"/><circle cx="290" cy="265" r="3.0" fill="#0fdd0a"/><circle cx="321" cy="306" r="1.9" fill="#0f9f0c"/><circle cx="374" cy="370" r="1.8" fill="#0aac08"/><circle cx="180" cy="294" r="1.4" fill="#00eb09"/><circle cx="204" cy="268" r="1.6" fill="#1fe917"/><circle cx="63" cy="151" r="2.4" fill="#0bbe03"/><circle cx="228" cy="330" r="2.2" fill="#1ab704"/><circle cx="113" cy="213" r="2.4" fill="#07e11a"/><circle cx="94" cy="135" r="1.7" fill="#1aae0a"/><circle cx="246" cy="152" r="2.0" fill="#18b413"/><circle cx="217" cy="73" r="2.2" fill="#1ab802"/><circle cx="158" cy="235" r="1.6" fill="#09ac06"/><circle cx="238" cy="169" r="2.5" fill="#17b711"/><circle cx="303" cy="245" r="1.7" fill="#07e217"/><circle cx="173" cy="329" r="2.5" fill="#22d917"/><circle cx="255" cy="311" r="2.4" fill="#10c315"/><circle cx="91" cy="30" r="1.7" fill="#18f50a"/><circle cx="288" cy="262" r="1.7" fill="#1aaf0f"/><circle cx="142" cy="81" r="2.1" fill="#18e605"/><circle cx="318" cy="377" r="2.1" fill="#27f913"/><circle cx="114" cy="163" r="2.0" fill="#20f707"/><circle cx="118" cy="51" r="2.5" fill="#06e617"/><circle cx="322" cy="78" r="2.2" fill="#09a40d"/><circle cx="223" cy="114" r="2.5" fill="#04df0b"/><circle cx="31" cy="334" r="2.4" fill="#0aa20a"/><circle cx="329" cy="155" r="2.5" fill="#1cdf14"/><circle cx="297" cy="45" r="2.0" fill="#0bdd0b"/><circle cx="329" cy="15" r="2.0" fill="#0bfa00"/><circle cx="276" cy="52" r="1.6" fill="#08da14"/><circle cx="105" cy="173" r="1.5" fill="#10c208"/><circle cx="234" cy="307" r="1.6" fill="#18ca10"/><circle cx="196" cy="186" r="2.2" fill="#06da18"/><circle cx="178" cy="134" r="2.2" fill="#19b10c"/><circle cx="155" cy="153" r="1.9" fill="#08dc12"/><circle cx="82" cy="116" r="2.3" fill="#0bdf02"/><circle cx="350" cy="212" r="1.5" fill="#0bad06"/><circle cx="158" cy="65" r="1.5" fill="#0fc80b"/><circle cx="149" cy="260" r="1.5" fill="#00fe0d"/><circle cx="200" cy="146" r="2.3" fill="#17a405"/><circle cx="62" cy="210" r="1.6" fill="#149906"/><circle cx="364" cy="109" r="2.2" fill="#0bb20d"/><circle cx="220" cy="224" r="2.3" fill="#06be06"/><circle cx="354" cy="162" r="2.5" fill="#09e902"/><circle cx="304" cy="13" r="1.8" fill="#0aed12"/><circle cx="147" cy="313" r="2.1" fill="#15ed18"/><circle cx="203" cy="238" r="2.1" fill="#25ec1a"/><circle cx="343" cy="149" r="2.0" fill="#08d607"/><circle cx="150" cy="149" r="1.7" fill="#06d90b"/><circle cx="288" cy="80" r="1.7" fill="#0e9c00"/><circle cx="11" cy="42" r="2.0" fill="#05a005"/><circle cx="393" cy="270" r="2.5" fill="#029908"/></g>
<g id="r10"><circle cx="119" cy="61" r="2.2" fill="#6c0000"/><circle cx="77" cy="81" r="2.2" fill="#520000"/><circle cx="214" cy="83" r="1.8" fill="#410000"/><circle cx="226" cy="101" r="2.2" fill="#410000"/><circle cx="278" cy="69" r="1.4" fill="#2d0000"/><circle cx="167" cy="81" r="1.2" fill="#2f0000"/><circle cx="227" cy="159" r="2.3" fill="#3f0000"/><circle cx="229" cy="138" r="2.0" fill="#610000"/><circle cx="133" cy="29" r="2.4" fill="#2d0000"/><circle cx="69" cy="120" r="1.5" fill="#400000"/><circle cx="186" cy="89" r="2.1" fill="#300000"/><circle cx="158" cy="107" r="2.1" fill="#450000"/><circle cx="184" cy="82" r="2.5" fill="#580000"/><circle cx="152" cy="110" r="1.9" fill="#470000"/><circle cx="183" cy="88" r="1.3" fill="#4e0000"/><circle cx="219" cy="86" r="1.5" fill="#480000"/><circle cx="145" cy="114" r="2.2" fill="#480000"/><circle cx="201" cy="67" r="1.6" fill="#710000"/><circle cx="236" cy="102" r="2.0" fill="#3b0000"/><circle cx="257" cy="76" r="1.6" fill="#400000"/><circle cx="215" cy="57" r="2.1" fill="#6c0000"/><circle cx="200" cy="97" r="2.5" fill="#760000"/><circle cx="287" cy="98" r="1.6" fill="#470000"/><circle cx="172" cy="94" r="2.4" fill="#510000"/><circle cx="169" cy="105" r="2.5" fill="#7a0000"/><circle cx="118" cy="58" r="1.3" fill="#480000"/><circle cx="248" cy="99" r="1.4" fill="#750000"/><circle cx="255" cy="86" r="1.8" fill="#500000"/><circle cx="180" cy="118" r="2.4" fill="#3c0000"/><circle cx="342" cy="85" r="2.0" fill="#6f0000"/><circle cx="220" cy="116" r="1.9" fill="#730000"/><circle cx="122" cy="124" r="2.2" fill="#640000"/><circle cx="240" cy="95" r="1.9" fill="#4b0000"/><circle cx="88" cy="94" r="2.1" fill="#690000"/><circle cx="170" cy="103" r="2.3" fill="#570000"/><circle cx="190" cy="127" r="1.8" fill="#600000"/><circle cx="206" cy="68" r="2.0" fill="#830000"/><circle cx="76" cy="121" r="1.4" fill="#590000"/><circle cx="154" cy="107" r="1.4" fill="#330000"/><circle cx="114" cy="127" r="1.6" fill="#4f0000"/><circle cx="257" cy="193" r="2.2" fill="#5a0000"/><circle cx="287" cy="210" r="1.9" fill="#490000"/><circle cx="283" cy="229" r="2.0" fill="#650000"/><circle cx="270" cy="320" r="2.0" fill="#5b0000"/><circle cx="281" cy="225" r="2.4" fill="#390000"/><circle cx="270" cy="266" r="1.2" fill="#480000"/><circle cx="253" cy="210" r="1.5" fill="#7f0000"/><circle cx="296" cy="230" r="1.6" fill="#6a0000"/><circle cx="243" cy="160" r="2.5" fill="#600000"/><circle cx="296" cy="272" r="1.6" fill="#490000"/><circle cx="249" cy="255" r="1.7" fill="#620000"/><circle cx="247" cy="254" r="2.0" fill="#560000"/><circle cx="266" cy="260" r="1.3" fill="#340000"/><circle cx="295" cy="279" r="2.0" fill="#3a0000"/><circle cx="292" cy="176" r="1.8" fill="#480000"/><circle cx="206" cy="242" r="1.7" fill="#4b0000"/><circle cx="254" cy="399" r="1.8" fill="#2f0000"/><circle cx="288" cy="213" r="2.4" fill="#430000"/><circle cx="295" cy="288" r="1.8" fill="#2d0000"/><circle cx="283" cy="275" r="1.8" fill="#460000"/><circle cx="316" cy="189" r="1.5" fill="#600000"/><circle cx="255" cy="182" r="1.8" fill="#550000"/><circle cx="307" cy="136" r="2.4" fill="#4d0000"/><circle cx="246" cy="300" r="1.6" fill="#5a0000"/><circle cx="292" cy="239" r="2.1" fill="#3c0000"/><circle cx="304" cy="231" r="2.1" fill="#590000"/><circle cx="254" cy="227" r="2.2" fill="#580000"/><circle cx="228" cy="92" r="2.0" fill="#4e0000"/><circle cx="237" cy="143" r="2.4" fill="#6a0000"/><circle cx="321" cy="276" r="2.1" fill="#570000"/><circle cx="236" cy="176" r="1.6" fill="#440000"/><circle cx="221" cy="209" r="1.6" fill="#400000"/><circle cx="249" cy="225" r="2.2" fill="#5f0000"/><circle cx="273" cy="144" r="1.2" fill="#590000"/><circle cx="292" cy="256" r="1.8" fill="#570000"/><circle cx="270" cy="315" r="2.4" fill="#7e0000"/><circle cx="315" cy="226" r="1.8" fill="#4d0000"/><circle cx="242" cy="248" r="2.0" fill="#430000"/><circle cx="229" cy="146" r="1.6" fill="#5d0000"/><circle cx="257" cy="107" r="1.4" fill="#350000"/><circle cx="145" cy="72" r="1.4" fill="#490000"/><circle cx="374" cy="264" r="1.2" fill="#640000"/><circle cx="119" cy="174" r="1.1" fill="#320000"/><circle cx="201" cy="55" r="1.1" fill="#5e0000"/><circle cx="86" cy="234" r="1.1" fill="#450000"/><circle cx="353" cy="291" r="1.1" fill="#3f0000"/><circle cx="86" cy="234" r="1.5" fill="#290000"/><circle cx="53" cy="171" r="1.4" fill="#5f0000"/><circle cx="7" cy="292" r="1.7" fill="#5d0000"/><circle cx="87" cy="8" r="1.1" fill="#480000"/><circle cx="251" cy="115" r="1.9" fill="#490000"/><circle cx="151" cy="243" r="1.8" fill="#420000"/><circle cx="179" cy="225" r="2.0" fill="#540000"/><circle cx="157" cy="233" r="1.0" fill="#2c0000"/><circle cx="141" cy="106" r="1.4" fill="#640000"/><circle cx="107" cy="113" r="1.5" fill="#290000"/><circle cx="174" cy="162" r="1.9" fill="#300000"/><circle cx="198" cy="297" r="1.2" fill="#530000"/><circle cx="88" cy="366" r="1.3" fill="#480000"/><circle cx="138" cy="80" r="1.9" fill="#520000"/><circle cx="141" cy="318" r="1.2" fill="#200000"/><circle cx="166" cy="47" r="1.7" fill="#4a0000"/><circle cx="313" cy="181" r="1.3" fill="#410000"/><circle cx="-3" cy="241" r="1.2" fill="#620000"/><circle cx="122" cy="99" r="2.0" fill="#380000"/></g>
</defs>
<g transform="translate(650.1,524.1)" clip-path="url(#frame)">
<rect width="401" height="401" fill="#000"/>
<g filter="url(#haze)" opacity="0.22"><ellipse cx="257" cy="60" rx="60" ry="30" fill="#50b000"/><ellipse cx="335" cy="262" rx="45" ry="40" fill="#a0a000"/><ellipse cx="110" cy="350" rx="45" ry="25" fill="#80a000"/></g>
<g stroke="#1010c0" stroke-width="1.2" fill="none" stroke-dasharray="1.5,2.5" opacity="0.55"><path d="M51,48 Q120,25 201,6"/><path d="M127,164 Q150,140 167,114 Q180,80 201,8"/><path d="M186,290 Q182,340 190,401"/></g>
<clipPath id="nc5"><ellipse cx="246" cy="120" rx="54" ry="63" transform="rotate(-10 246 120)"/><ellipse cx="80" cy="293" rx="54" ry="65" transform="rotate(-15 80 293)"/><ellipse cx="279" cy="320" rx="65" ry="69" transform="rotate(0 279 320)"/></clipPath>
<g clip-path="url(#nc5)">
<rect x="0" y="0" width="401" height="401" fill="#000" filter="url(#nucgrain)"/>
<g fill="#0a0af0" filter="url(#soft)"><circle cx="267" cy="161" r="6.0"/><circle cx="223" cy="124" r="6.7"/><circle cx="259" cy="81" r="5.5"/><circle cx="246" cy="123" r="5.0"/><circle cx="235" cy="112" r="6.7"/><circle cx="249" cy="148" r="3.7"/><circle cx="289" cy="119" r="7.0"/><circle cx="239" cy="113" r="4.8"/><circle cx="229" cy="120" r="7.3"/><circle cx="233" cy="137" r="6.8"/><circle cx="280" cy="159" r="5.3"/><circle cx="218" cy="109" r="5.4"/><circle cx="250" cy="130" r="7.0"/><circle cx="250" cy="171" r="4.3"/><circle cx="292" cy="109" r="6.5"/><circle cx="249" cy="76" r="6.4"/><circle cx="271" cy="148" r="6.8"/><circle cx="260" cy="173" r="7.1"/><circle cx="221" cy="139" r="5.3"/><circle cx="209" cy="158" r="5.0"/><circle cx="261" cy="123" r="6.4"/><circle cx="281" cy="118" r="5.5"/><circle cx="205" cy="104" r="4.4"/><circle cx="217" cy="93" r="6.0"/><circle cx="255" cy="142" r="4.9"/><circle cx="272" cy="105" r="5.9"/><circle cx="240" cy="137" r="3.8"/><circle cx="263" cy="73" r="5.0"/><circle cx="63" cy="248" r="7.1"/><circle cx="111" cy="283" r="7.5"/><circle cx="117" cy="282" r="7.0"/><circle cx="50" cy="295" r="4.5"/><circle cx="94" cy="276" r="3.8"/><circle cx="95" cy="244" r="5.4"/><circle cx="86" cy="281" r="4.5"/><circle cx="72" cy="331" r="4.2"/><circle cx="106" cy="308" r="7.1"/><circle cx="123" cy="288" r="5.4"/><circle cx="79" cy="352" r="5.6"/><circle cx="79" cy="283" r="4.3"/><circle cx="103" cy="248" r="7.0"/><circle cx="54" cy="270" r="5.8"/><circle cx="96" cy="266" r="5.6"/><circle cx="73" cy="345" r="3.5"/><circle cx="61" cy="239" r="3.6"/><circle cx="47" cy="266" r="6.9"/><circle cx="58" cy="278" r="5.1"/><circle cx="126" cy="278" r="4.0"/><circle cx="93" cy="303" r="3.6"/><circle cx="62" cy="300" r="7.0"/><circle cx="70" cy="275" r="5.7"/><circle cx="64" cy="331" r="4.4"/><circle cx="91" cy="315" r="5.0"/><circle cx="71" cy="250" r="3.7"/><circle cx="69" cy="239" r="6.6"/><circle cx="81" cy="288" r="5.4"/><circle cx="120" cy="313" r="4.2"/><circle cx="272" cy="289" r="6.3"/><circle cx="274" cy="332" r="5.1"/><circle cx="258" cy="376" r="4.7"/><circle cx="235" cy="319" r="7.3"/><circle cx="317" cy="349" r="5.5"/><circle cx="273" cy="258" r="4.7"/><circle cx="265" cy="276" r="5.7"/><circle cx="329" cy="342" r="7.4"/><circle cx="258" cy="348" r="7.5"/><circle cx="292" cy="331" r="3.8"/><circle cx="300" cy="269" r="5.3"/><circle cx="273" cy="314" r="6.1"/><circle cx="239" cy="336" r="5.1"/><circle cx="256" cy="337" r="3.7"/><circle cx="252" cy="333" r="6.3"/><circle cx="300" cy="271" r="5.3"/><circle cx="282" cy="359" r="5.4"/><circle cx="239" cy="274" r="3.8"/><circle cx="237" cy="326" r="6.4"/><circle cx="320" cy="284" r="6.0"/><circle cx="282" cy="268" r="6.9"/><circle cx="263" cy="270" r="4.5"/><circle cx="311" cy="300" r="6.0"/><circle cx="306" cy="264" r="7.5"/><circle cx="312" cy="321" r="4.7"/><circle cx="261" cy="335" r="5.7"/><circle cx="308" cy="337" r="7.3"/><circle cx="277" cy="277" r="3.9"/><circle cx="327" cy="305" r="4.3"/><circle cx="255" cy="364" r="6.2"/><circle cx="275" cy="382" r="4.8"/><circle cx="278" cy="378" r="4.1"/><circle cx="268" cy="294" r="5.9"/><circle cx="273" cy="359" r="7.3"/><circle cx="240" cy="329" r="6.0"/><circle cx="274" cy="346" r="5.0"/><circle cx="275" cy="347" r="7.3"/></g>
</g>
<use href="#d5" filter="url(#soft)"/>
</g>
<g transform="translate(1057.3,524.1) scale(0.5459)" clip-path="url(#frame)"><rect width="401" height="401" fill="#000"/><use href="#d5" filter="url(#onlyR)"/></g>
<g transform="translate(1057.3,750.1) scale(0.5459)" clip-path="url(#frame)"><rect width="401" height="401" fill="#000"/><use href="#d5" filter="url(#onlyG)"/></g>
<rect x="962.6" y="906.2" width="75.3" height="3.8" fill="#fff" stroke="none" stroke-width="2" />
<rect x="1223.7" y="725.2" width="40.3" height="3.6" fill="#fff" stroke="none" stroke-width="2" />
<rect x="1223.7" y="950.5" width="40.3" height="3.6" fill="#fff" stroke="none" stroke-width="2" />
<rect x="650.5" y="932.1" width="400.2" height="36.0" fill="#231815" stroke="none" stroke-width="2" />
<text x="657.8" y="958.8" font-size="25.7" fill="#000" textLength="390.3" lengthAdjust="spacingAndGlyphs" ><tspan fill="#e60012">iP5B5-Cy5</tspan><tspan fill="#fff"> / </tspan><tspan fill="#009944">Lysotracker</tspan><tspan fill="#fff"> / </tspan><tspan fill="#0068b7">Hoechst</tspan></text>
<g transform="translate(1373.2,523.1)" clip-path="url(#frame)">
<rect width="401" height="401" fill="#000"/>
<g filter="url(#haze)" opacity="0.15"><ellipse cx="90" cy="40" rx="60" ry="25" fill="#0000a0"/></g><g filter="url(#haze)" opacity="0.13" fill="#00a000"><ellipse cx="170" cy="140" rx="150" ry="75"/><ellipse cx="200" cy="285" rx="95" ry="85"/><ellipse cx="330" cy="120" rx="60" ry="90"/><ellipse cx="360" cy="350" rx="40" ry="40"/></g>
<clipPath id="nc10"><ellipse cx="107.5" cy="142" rx="49" ry="57" transform="rotate(0 107.5 142)"/><ellipse cx="218.5" cy="135" rx="59" ry="53" transform="rotate(-10 218.5 135)"/><ellipse cx="171" cy="312" rx="62" ry="61" transform="rotate(0 171 312)"/><ellipse cx="405" cy="395" rx="45" ry="40" transform="rotate(0 405 395)"/></clipPath>
<g clip-path="url(#nc10)">
<rect x="0" y="0" width="401" height="401" fill="#000" filter="url(#nucgrain2)"/>
<g fill="#1616e6" filter="url(#soft)"><circle cx="75" cy="124" r="6.8"/><circle cx="101" cy="184" r="7.1"/><circle cx="124" cy="130" r="6.1"/><circle cx="84" cy="117" r="7.4"/><circle cx="78" cy="136" r="7.3"/><circle cx="91" cy="120" r="4.7"/><circle cx="97" cy="142" r="5.9"/><circle cx="105" cy="108" r="6.9"/><circle cx="138" cy="125" r="6.2"/><circle cx="115" cy="150" r="7.4"/><circle cx="103" cy="166" r="7.1"/><circle cx="107" cy="124" r="4.8"/><circle cx="109" cy="169" r="3.5"/><circle cx="83" cy="138" r="5.1"/><circle cx="113" cy="158" r="3.6"/><circle cx="135" cy="109" r="5.7"/><circle cx="120" cy="156" r="4.0"/><circle cx="103" cy="154" r="4.6"/><circle cx="113" cy="164" r="6.1"/><circle cx="78" cy="151" r="4.9"/><circle cx="69" cy="131" r="4.7"/><circle cx="136" cy="158" r="5.0"/><circle cx="110" cy="125" r="7.0"/><circle cx="141" cy="146" r="5.3"/><circle cx="91" cy="187" r="6.3"/><circle cx="124" cy="174" r="5.9"/><circle cx="121" cy="145" r="5.9"/><circle cx="104" cy="107" r="5.2"/><circle cx="85" cy="141" r="7.0"/><circle cx="138" cy="133" r="3.6"/><circle cx="180" cy="161" r="4.8"/><circle cx="237" cy="148" r="6.3"/><circle cx="198" cy="117" r="6.0"/><circle cx="222" cy="87" r="6.8"/><circle cx="174" cy="153" r="7.2"/><circle cx="250" cy="104" r="5.8"/><circle cx="169" cy="132" r="6.0"/><circle cx="214" cy="112" r="3.9"/><circle cx="213" cy="172" r="5.8"/><circle cx="226" cy="155" r="7.3"/><circle cx="266" cy="155" r="6.6"/><circle cx="170" cy="113" r="6.2"/><circle cx="271" cy="137" r="5.2"/><circle cx="261" cy="113" r="4.1"/><circle cx="226" cy="137" r="6.6"/><circle cx="225" cy="113" r="4.0"/><circle cx="186" cy="167" r="6.5"/><circle cx="254" cy="99" r="6.5"/><circle cx="222" cy="130" r="3.5"/><circle cx="246" cy="106" r="4.8"/><circle cx="240" cy="155" r="4.9"/><circle cx="182" cy="136" r="4.3"/><circle cx="240" cy="146" r="4.0"/><circle cx="247" cy="153" r="4.0"/><circle cx="231" cy="101" r="5.3"/><circle cx="202" cy="117" r="3.6"/><circle cx="246" cy="148" r="4.9"/><circle cx="218" cy="162" r="6.8"/><circle cx="255" cy="137" r="5.0"/><circle cx="209" cy="176" r="4.4"/><circle cx="239" cy="140" r="7.4"/><circle cx="208" cy="149" r="7.4"/><circle cx="186" cy="97" r="4.8"/><circle cx="175" cy="301" r="4.5"/><circle cx="182" cy="273" r="6.7"/><circle cx="131" cy="347" r="3.8"/><circle cx="153" cy="295" r="4.3"/><circle cx="199" cy="287" r="6.8"/><circle cx="161" cy="359" r="7.1"/><circle cx="152" cy="293" r="6.2"/><circle cx="220" cy="297" r="5.3"/><circle cx="157" cy="322" r="6.6"/><circle cx="186" cy="334" r="3.6"/><circle cx="189" cy="342" r="5.4"/><circle cx="188" cy="345" r="6.5"/><circle cx="188" cy="324" r="5.6"/><circle cx="216" cy="281" r="5.8"/><circle cx="216" cy="341" r="7.5"/><circle cx="205" cy="288" r="5.0"/><circle cx="128" cy="286" r="7.5"/><circle cx="130" cy="314" r="4.7"/><circle cx="130" cy="302" r="4.6"/><circle cx="118" cy="326" r="4.4"/><circle cx="170" cy="343" r="6.9"/><circle cx="154" cy="360" r="7.2"/><circle cx="207" cy="277" r="4.3"/><circle cx="122" cy="328" r="4.5"/><circle cx="128" cy="281" r="7.2"/><circle cx="159" cy="328" r="3.6"/><circle cx="154" cy="350" r="4.6"/><circle cx="192" cy="272" r="6.0"/><circle cx="186" cy="284" r="6.1"/><circle cx="153" cy="336" r="4.0"/><circle cx="184" cy="260" r="3.6"/><circle cx="168" cy="298" r="5.2"/><circle cx="149" cy="361" r="5.2"/><circle cx="137" cy="310" r="4.5"/><circle cx="172" cy="326" r="3.6"/><circle cx="124" cy="297" r="6.2"/><circle cx="168" cy="368" r="3.8"/><circle cx="141" cy="325" r="4.2"/><circle cx="218" cy="301" r="4.0"/><circle cx="194" cy="357" r="5.0"/><circle cx="398" cy="414" r="4.8"/><circle cx="385" cy="384" r="5.9"/><circle cx="433" cy="405" r="5.8"/><circle cx="389" cy="426" r="7.2"/><circle cx="390" cy="375" r="4.2"/><circle cx="389" cy="381" r="4.2"/><circle cx="387" cy="392" r="6.1"/><circle cx="405" cy="391" r="6.0"/><circle cx="414" cy="415" r="6.4"/><circle cx="428" cy="391" r="6.5"/><circle cx="382" cy="424" r="4.2"/><circle cx="399" cy="386" r="5.7"/><circle cx="403" cy="360" r="6.6"/><circle cx="380" cy="388" r="6.0"/><circle cx="386" cy="372" r="6.4"/><circle cx="404" cy="359" r="6.0"/><circle cx="430" cy="373" r="5.0"/><circle cx="413" cy="374" r="6.8"/><circle cx="433" cy="371" r="7.1"/></g>
</g>
<use href="#d10" filter="url(#soft)"/>
</g>
<g transform="translate(1780.3,522.5) scale(0.5459)" clip-path="url(#frame)"><rect width="401" height="401" fill="#000"/><use href="#r10" filter="url(#soft)"/></g>
<g transform="translate(1780.3,748.8) scale(0.5459)" clip-path="url(#frame)"><rect width="401" height="401" fill="#000"/><use href="#d10" filter="url(#onlyG)"/></g>
<rect x="1678.2" y="905.6" width="79.8" height="3.8" fill="#fff" stroke="none" stroke-width="2" />
<rect x="1946.2" y="722.0" width="43.1" height="3.6" fill="#fff" stroke="none" stroke-width="2" />
<rect x="1946.2" y="946.7" width="43.1" height="3.6" fill="#fff" stroke="none" stroke-width="2" />
<rect x="1373.3" y="930.2" width="401.2" height="36.1" fill="#231815" stroke="none" stroke-width="2" />
<text x="1393.1" y="956.8" font-size="25.7" fill="#000" textLength="373.8" lengthAdjust="spacingAndGlyphs" ><tspan fill="#e60012">iP10-Cy5</tspan><tspan fill="#fff"> / </tspan><tspan fill="#009944">Lysotracker</tspan><tspan fill="#fff"> / </tspan><tspan fill="#0068b7">Hoechst</tspan></text>
</svg></body></html>
